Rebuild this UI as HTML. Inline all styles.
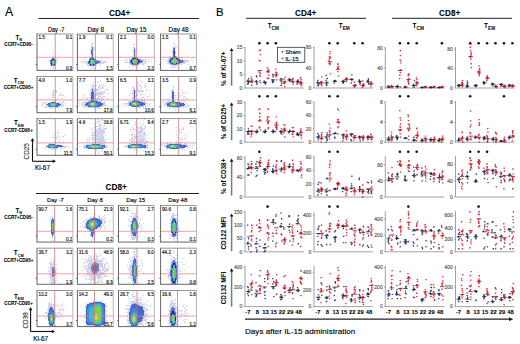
<!DOCTYPE html><html><head><meta charset="utf-8"><style>
html,body{margin:0;padding:0;background:#fff;}
svg{display:block;font-family:"Liberation Sans",sans-serif;}
</style></head><body>
<svg width="520" height="344" viewBox="0 0 520 344">
<defs><filter id="bl" x="-50%" y="-50%" width="200%" height="200%"><feGaussianBlur stdDeviation="0.6"/></filter>
<filter id="bdot" x="-2%" y="-2%" width="104%" height="104%"><feGaussianBlur stdDeviation="0.3"/></filter>
<filter id="bs" x="-10%" y="-10%" width="120%" height="120%"><feGaussianBlur stdDeviation="0.6"/></filter>
<filter id="bd" x="-10%" y="-10%" width="120%" height="120%"><feGaussianBlur stdDeviation="0.45"/></filter>
<filter id="bl2" x="-50%" y="-50%" width="200%" height="200%"><feGaussianBlur stdDeviation="1.2"/></filter></defs>
<rect width="520" height="344" fill="#fff"/>
<text x="5" y="16" font-size="12.2" font-weight="normal" text-anchor="start" fill="#000" stroke="#000" stroke-width="0.14" >A</text>
<text x="119.6" y="15.9" font-size="8.2" font-weight="bold" text-anchor="middle" fill="#000" stroke="#000" stroke-width="0.06" >CD4+</text>
<line x1="38.5" y1="18.5" x2="199" y2="18.5" stroke="#222" stroke-width="1" />
<text x="116.2" y="189.6" font-size="8.2" font-weight="bold" text-anchor="middle" fill="#000" stroke="#000" stroke-width="0.06" >CD8+</text>
<line x1="36" y1="193.5" x2="199" y2="193.5" stroke="#222" stroke-width="1" />
<text x="56.2" y="31.9" font-size="6.3" font-weight="normal" text-anchor="middle" fill="#000" stroke="#000" stroke-width="0.14"  textLength="16.6" lengthAdjust="spacingAndGlyphs">Day -7</text>
<text x="55.400000000000006" y="202.4" font-size="6.0" font-weight="normal" text-anchor="middle" fill="#000" stroke="#000" stroke-width="0.14"  textLength="16.6" lengthAdjust="spacingAndGlyphs">Day -7</text>
<text x="95.8" y="31.9" font-size="6.3" font-weight="normal" text-anchor="middle" fill="#000" stroke="#000" stroke-width="0.14" >Day 8</text>
<text x="95.0" y="202.4" font-size="6.0" font-weight="normal" text-anchor="middle" fill="#000" stroke="#000" stroke-width="0.14" >Day 8</text>
<text x="136.5" y="31.9" font-size="6.3" font-weight="normal" text-anchor="middle" fill="#000" stroke="#000" stroke-width="0.14" >Day 15</text>
<text x="135.7" y="202.4" font-size="6.0" font-weight="normal" text-anchor="middle" fill="#000" stroke="#000" stroke-width="0.14" >Day 15</text>
<text x="178.6" y="31.9" font-size="6.3" font-weight="normal" text-anchor="middle" fill="#000" stroke="#000" stroke-width="0.14" >Day 48</text>
<text x="177.79999999999998" y="202.4" font-size="6.0" font-weight="normal" text-anchor="middle" fill="#000" stroke="#000" stroke-width="0.14" >Day 48</text>
<text x="18.8" y="39.6" font-size="6.3" font-weight="bold" text-anchor="middle">T<tspan font-size="3.9" dy="1.2">N</tspan></text>
<text x="18.6" y="45.5" font-size="4.6" font-weight="bold" text-anchor="middle" fill="#000" stroke="#000" stroke-width="0.06" >CCR7+CD95-</text>
<text x="18.8" y="82.7" font-size="6.3" font-weight="bold" text-anchor="middle">T<tspan font-size="3.9" dy="1.2">CM</tspan></text>
<text x="18.6" y="88.9" font-size="4.6" font-weight="bold" text-anchor="middle" fill="#000" stroke="#000" stroke-width="0.06" >CCR7+CD95+</text>
<text x="18.8" y="125.3" font-size="6.3" font-weight="bold" text-anchor="middle">T<tspan font-size="3.9" dy="1.2">EM</tspan></text>
<text x="18.6" y="131.6" font-size="4.6" font-weight="bold" text-anchor="middle" fill="#000" stroke="#000" stroke-width="0.06" >CCR7-CD95+</text>
<text x="18.8" y="212.7" font-size="6.3" font-weight="bold" text-anchor="middle">T<tspan font-size="3.9" dy="1.2">N</tspan></text>
<text x="18.6" y="218.9" font-size="4.6" font-weight="bold" text-anchor="middle" fill="#000" stroke="#000" stroke-width="0.06" >CCR7+CD95-</text>
<text x="18.8" y="255.3" font-size="6.3" font-weight="bold" text-anchor="middle">T<tspan font-size="3.9" dy="1.2">CM</tspan></text>
<text x="18.6" y="261.6" font-size="4.6" font-weight="bold" text-anchor="middle" fill="#000" stroke="#000" stroke-width="0.06" >CCR7+CD95+</text>
<text x="18.8" y="298.7" font-size="6.3" font-weight="bold" text-anchor="middle">T<tspan font-size="3.9" dy="1.2">EM</tspan></text>
<text x="18.6" y="304.6" font-size="4.6" font-weight="bold" text-anchor="middle" fill="#000" stroke="#000" stroke-width="0.06" >CCR7-CD95+</text>
<g transform="translate(37 34)" filter="url(#bd)" shape-rendering="crispEdges"><path d="M16 17h1v1h-1zM16 19h1v1h-1zM16 20h1v1h-1zM16 22h1v1h-1zM15 23h1v1h-1zM17 23h1v1h-1zM20 23h1v1h-1zM17 24h1v1h-1zM13 25h1v1h-1zM18 25h1v1h-1zM19 25h1v1h-1zM11 26h1v1h-1zM12 26h1v1h-1zM13 26h1v1h-1zM20 26h1v1h-1zM19 27h1v1h-1zM19 28h1v1h-1zM13 30h1v1h-1zM13 31h1v1h-1zM18 32h1v1h-1zM14 33h1v1h-1zM16 33h1v1h-1zM17 33h1v1h-1zM16 34h1v1h-1zM15 35h1v1h-1z" fill="#9aa2dc" opacity="0.5" filter="url(#bs)"/><path d="M15 25h1v1h-1zM16 25h1v1h-1zM14 26h1v1h-1zM17 26h1v1h-1zM14 27h1v1h-1zM14 29h1v1h-1zM14 30h1v1h-1zM17 30h1v1h-1z" fill="#1e2a86"/><path d="M15 24h1v1h-1zM16 24h1v1h-1zM14 25h1v1h-1zM17 25h1v1h-1zM18 26h1v1h-1zM13 27h1v1h-1zM18 27h1v1h-1zM13 28h1v1h-1zM18 28h1v1h-1zM13 29h1v1h-1zM18 29h1v1h-1zM18 30h1v1h-1zM14 31h1v1h-1zM15 31h1v1h-1zM16 31h1v1h-1zM17 31h1v1h-1z" fill="#6472cc"/><path d="M15 25h1v1h-1zM16 25h1v1h-1zM14 26h1v1h-1zM17 26h1v1h-1zM14 27h1v1h-1zM14 29h1v1h-1zM14 30h1v1h-1zM17 30h1v1h-1z" fill="#1e2a86"/><path d="M15 26h1v1h-1zM16 26h1v1h-1zM17 27h1v1h-1zM14 28h1v1h-1zM17 28h1v1h-1zM17 29h1v1h-1zM15 30h1v1h-1zM16 30h1v1h-1z" fill="#3cbad2"/><path d="M15 27h1v1h-1zM16 27h1v1h-1zM15 28h1v1h-1zM16 28h1v1h-1zM15 29h1v1h-1zM16 29h1v1h-1z" fill="#82cc50"/></g>
<g transform="translate(77.3 34)" filter="url(#bd)" shape-rendering="crispEdges"><path d="M14 9h1v1h-1zM15 9h1v1h-1zM15 10h1v1h-1zM14 11h1v1h-1zM13 12h1v1h-1zM14 12h1v1h-1zM15 12h1v1h-1zM14 13h1v1h-1zM16 13h1v1h-1zM14 14h1v1h-1zM16 14h1v1h-1zM13 15h1v1h-1zM14 15h1v1h-1zM16 15h1v1h-1zM17 15h1v1h-1zM16 16h1v1h-1zM13 17h1v1h-1zM13 18h1v1h-1zM16 18h1v1h-1zM16 20h1v1h-1zM14 21h1v1h-1zM16 21h1v1h-1zM14 22h1v1h-1zM16 22h1v1h-1zM12 23h1v1h-1zM13 23h1v1h-1zM16 23h1v1h-1zM12 24h1v1h-1zM17 24h1v1h-1zM18 24h1v1h-1zM8 25h1v1h-1zM24 25h1v1h-1zM11 26h1v1h-1zM20 26h1v1h-1zM21 26h1v1h-1zM22 26h1v1h-1zM23 26h1v1h-1zM5 27h1v1h-1zM6 27h1v1h-1zM8 27h1v1h-1zM9 27h1v1h-1zM10 27h1v1h-1zM23 27h1v1h-1zM24 27h1v1h-1zM25 27h1v1h-1zM26 27h1v1h-1zM27 27h1v1h-1zM28 27h1v1h-1zM4 28h1v1h-1zM7 28h1v1h-1zM8 28h1v1h-1zM10 28h1v1h-1zM23 28h1v1h-1zM24 28h1v1h-1zM26 28h1v1h-1zM27 28h1v1h-1zM28 28h1v1h-1zM30 28h1v1h-1zM9 29h1v1h-1zM10 29h1v1h-1zM21 29h1v1h-1zM22 29h1v1h-1zM23 29h1v1h-1zM24 29h1v1h-1zM25 29h1v1h-1zM26 29h1v1h-1zM10 30h1v1h-1zM19 30h1v1h-1zM23 30h1v1h-1zM10 31h1v1h-1zM11 31h1v1h-1zM12 31h1v1h-1zM17 31h1v1h-1zM18 31h1v1h-1zM19 31h1v1h-1zM22 31h1v1h-1zM14 32h1v1h-1zM16 32h1v1h-1zM17 32h1v1h-1zM14 34h1v1h-1zM16 34h1v1h-1zM17 34h1v1h-1z" fill="#9aa2dc" opacity="0.5" filter="url(#bs)"/><path d="M15 24h1v1h-1zM13 25h1v1h-1zM16 25h1v1h-1zM12 27h1v1h-1zM18 27h1v1h-1zM12 28h1v1h-1zM18 28h1v1h-1zM18 29h1v1h-1zM13 30h1v1h-1zM16 30h1v1h-1z" fill="#1e2a86"/><path d="M15 13h1v1h-1zM15 14h1v1h-1zM15 15h1v1h-1zM14 16h1v1h-1zM15 16h1v1h-1zM14 17h1v1h-1zM15 17h1v1h-1zM14 18h1v1h-1zM15 18h1v1h-1zM14 19h1v1h-1zM15 19h1v1h-1zM14 20h1v1h-1zM15 20h1v1h-1zM15 21h1v1h-1zM15 22h1v1h-1zM14 23h1v1h-1zM15 23h1v1h-1zM13 24h1v1h-1zM14 24h1v1h-1zM16 24h1v1h-1zM12 25h1v1h-1zM17 25h1v1h-1zM18 25h1v1h-1zM12 26h1v1h-1zM18 26h1v1h-1zM19 26h1v1h-1zM11 27h1v1h-1zM19 27h1v1h-1zM20 27h1v1h-1zM21 27h1v1h-1zM22 27h1v1h-1zM11 28h1v1h-1zM19 28h1v1h-1zM20 28h1v1h-1zM21 28h1v1h-1zM22 28h1v1h-1zM11 29h1v1h-1zM12 29h1v1h-1zM19 29h1v1h-1zM20 29h1v1h-1zM12 30h1v1h-1zM17 30h1v1h-1zM18 30h1v1h-1zM13 31h1v1h-1zM14 31h1v1h-1zM15 31h1v1h-1zM16 31h1v1h-1z" fill="#6472cc"/><path d="M15 24h1v1h-1zM13 25h1v1h-1zM16 25h1v1h-1zM12 27h1v1h-1zM18 27h1v1h-1zM12 28h1v1h-1zM18 28h1v1h-1zM18 29h1v1h-1zM13 30h1v1h-1zM16 30h1v1h-1z" fill="#1e2a86"/><path d="M14 25h1v1h-1zM15 25h1v1h-1zM13 26h1v1h-1zM17 26h1v1h-1zM13 27h1v1h-1zM17 27h1v1h-1zM17 28h1v1h-1zM13 29h1v1h-1zM17 29h1v1h-1zM14 30h1v1h-1zM15 30h1v1h-1z" fill="#3cbad2"/><path d="M14 26h1v1h-1zM15 26h1v1h-1zM16 26h1v1h-1zM14 27h1v1h-1zM15 27h1v1h-1zM16 27h1v1h-1zM13 28h1v1h-1zM14 28h1v1h-1zM15 28h1v1h-1zM16 28h1v1h-1zM14 29h1v1h-1zM15 29h1v1h-1zM16 29h1v1h-1z" fill="#82cc50"/></g>
<g transform="translate(118.5 34)" filter="url(#bd)" shape-rendering="crispEdges"><path d="M14 10h1v1h-1zM15 10h1v1h-1zM14 13h1v1h-1zM15 13h1v1h-1zM14 14h1v1h-1zM15 14h1v1h-1zM16 14h1v1h-1zM17 14h1v1h-1zM14 15h1v1h-1zM16 15h1v1h-1zM14 16h1v1h-1zM16 16h1v1h-1zM17 16h1v1h-1zM14 17h1v1h-1zM16 17h1v1h-1zM14 18h1v1h-1zM16 18h1v1h-1zM16 19h1v1h-1zM16 20h1v1h-1zM14 21h1v1h-1zM16 21h1v1h-1zM13 22h1v1h-1zM14 22h1v1h-1zM16 22h1v1h-1zM17 22h1v1h-1zM13 23h1v1h-1zM17 23h1v1h-1zM18 23h1v1h-1zM21 23h1v1h-1zM10 24h1v1h-1zM12 24h1v1h-1zM19 24h1v1h-1zM21 24h1v1h-1zM6 25h1v1h-1zM8 25h1v1h-1zM10 25h1v1h-1zM21 25h1v1h-1zM23 25h1v1h-1zM24 25h1v1h-1zM26 25h1v1h-1zM27 25h1v1h-1zM30 25h1v1h-1zM6 26h1v1h-1zM10 26h1v1h-1zM23 26h1v1h-1zM24 26h1v1h-1zM25 26h1v1h-1zM7 27h1v1h-1zM10 27h1v1h-1zM24 27h1v1h-1zM25 27h1v1h-1zM26 27h1v1h-1zM27 27h1v1h-1zM29 27h1v1h-1zM32 27h1v1h-1zM6 28h1v1h-1zM7 28h1v1h-1zM8 28h1v1h-1zM9 28h1v1h-1zM10 28h1v1h-1zM23 28h1v1h-1zM27 28h1v1h-1zM10 29h1v1h-1zM11 29h1v1h-1zM20 29h1v1h-1zM21 29h1v1h-1zM23 29h1v1h-1zM24 29h1v1h-1zM25 29h1v1h-1zM26 29h1v1h-1zM11 30h1v1h-1zM12 30h1v1h-1zM19 30h1v1h-1zM20 30h1v1h-1zM23 30h1v1h-1zM24 30h1v1h-1zM12 31h1v1h-1zM14 31h1v1h-1zM15 31h1v1h-1zM16 31h1v1h-1zM17 31h1v1h-1zM18 31h1v1h-1zM10 32h1v1h-1zM14 32h1v1h-1zM16 32h1v1h-1zM13 33h1v1h-1zM18 33h1v1h-1z" fill="#9aa2dc" opacity="0.5" filter="url(#bs)"/><path d="M14 24h1v1h-1zM15 24h1v1h-1zM16 24h1v1h-1zM13 25h1v1h-1zM18 25h1v1h-1zM12 26h1v1h-1zM19 26h1v1h-1zM12 27h1v1h-1zM19 27h1v1h-1zM20 27h1v1h-1zM12 28h1v1h-1zM19 28h1v1h-1zM13 29h1v1h-1zM18 29h1v1h-1z" fill="#1e2a86"/><path d="M15 15h1v1h-1zM15 16h1v1h-1zM15 17h1v1h-1zM15 18h1v1h-1zM15 19h1v1h-1zM15 20h1v1h-1zM15 21h1v1h-1zM15 22h1v1h-1zM14 23h1v1h-1zM15 23h1v1h-1zM16 23h1v1h-1zM13 24h1v1h-1zM17 24h1v1h-1zM18 24h1v1h-1zM12 25h1v1h-1zM19 25h1v1h-1zM20 25h1v1h-1zM11 26h1v1h-1zM20 26h1v1h-1zM21 26h1v1h-1zM22 26h1v1h-1zM11 27h1v1h-1zM21 27h1v1h-1zM22 27h1v1h-1zM23 27h1v1h-1zM11 28h1v1h-1zM20 28h1v1h-1zM21 28h1v1h-1zM22 28h1v1h-1zM12 29h1v1h-1zM19 29h1v1h-1zM13 30h1v1h-1zM14 30h1v1h-1zM15 30h1v1h-1zM16 30h1v1h-1zM17 30h1v1h-1zM18 30h1v1h-1z" fill="#6472cc"/><path d="M14 24h1v1h-1zM15 24h1v1h-1zM16 24h1v1h-1zM13 25h1v1h-1zM18 25h1v1h-1zM12 26h1v1h-1zM19 26h1v1h-1zM12 27h1v1h-1zM19 27h1v1h-1zM20 27h1v1h-1zM12 28h1v1h-1zM19 28h1v1h-1zM13 29h1v1h-1zM18 29h1v1h-1z" fill="#1e2a86"/><path d="M14 25h1v1h-1zM17 25h1v1h-1zM13 26h1v1h-1zM18 26h1v1h-1zM13 27h1v1h-1zM18 27h1v1h-1zM13 28h1v1h-1zM18 28h1v1h-1zM14 29h1v1h-1zM15 29h1v1h-1zM16 29h1v1h-1zM17 29h1v1h-1z" fill="#3cbad2"/><path d="M15 25h1v1h-1zM16 25h1v1h-1zM14 26h1v1h-1zM15 26h1v1h-1zM16 26h1v1h-1zM17 26h1v1h-1zM14 27h1v1h-1zM15 27h1v1h-1zM16 27h1v1h-1zM17 27h1v1h-1zM14 28h1v1h-1zM15 28h1v1h-1zM16 28h1v1h-1zM17 28h1v1h-1z" fill="#82cc50"/></g>
<g transform="translate(160.3 34)" filter="url(#bd)" shape-rendering="crispEdges"><path d="M13 9h1v1h-1zM14 9h1v1h-1zM13 10h1v1h-1zM15 11h1v1h-1zM14 12h1v1h-1zM12 13h1v1h-1zM13 13h1v1h-1zM14 13h1v1h-1zM15 13h1v1h-1zM16 13h1v1h-1zM15 14h1v1h-1zM12 16h1v1h-1zM12 17h1v1h-1zM15 17h1v1h-1zM12 18h1v1h-1zM15 18h1v1h-1zM12 19h1v1h-1zM15 19h1v1h-1zM12 21h1v1h-1zM15 21h1v1h-1zM18 21h1v1h-1zM9 22h1v1h-1zM10 22h1v1h-1zM12 22h1v1h-1zM16 22h1v1h-1zM18 22h1v1h-1zM9 23h1v1h-1zM10 23h1v1h-1zM11 23h1v1h-1zM17 23h1v1h-1zM18 23h1v1h-1zM21 23h1v1h-1zM22 23h1v1h-1zM8 24h1v1h-1zM9 24h1v1h-1zM19 24h1v1h-1zM8 25h1v1h-1zM9 25h1v1h-1zM20 25h1v1h-1zM21 25h1v1h-1zM22 25h1v1h-1zM24 25h1v1h-1zM31 25h1v1h-1zM4 26h1v1h-1zM7 26h1v1h-1zM8 26h1v1h-1zM23 26h1v1h-1zM24 26h1v1h-1zM25 26h1v1h-1zM26 26h1v1h-1zM27 26h1v1h-1zM32 26h1v1h-1zM6 27h1v1h-1zM8 27h1v1h-1zM24 27h1v1h-1zM25 27h1v1h-1zM26 27h1v1h-1zM27 27h1v1h-1zM28 27h1v1h-1zM8 28h1v1h-1zM23 28h1v1h-1zM24 28h1v1h-1zM25 28h1v1h-1zM28 28h1v1h-1zM7 29h1v1h-1zM8 29h1v1h-1zM9 29h1v1h-1zM20 29h1v1h-1zM21 29h1v1h-1zM23 29h1v1h-1zM24 29h1v1h-1zM9 30h1v1h-1zM10 30h1v1h-1zM11 30h1v1h-1zM17 30h1v1h-1zM18 30h1v1h-1zM19 30h1v1h-1zM21 30h1v1h-1zM28 30h1v1h-1zM11 31h1v1h-1zM13 31h1v1h-1zM14 31h1v1h-1zM15 31h1v1h-1zM17 31h1v1h-1zM12 32h1v1h-1zM15 32h1v1h-1zM10 33h1v1h-1zM11 33h1v1h-1zM13 33h1v1h-1zM14 33h1v1h-1zM17 33h1v1h-1z" fill="#9aa2dc" opacity="0.5" filter="url(#bs)"/><path d="M14 17h1v1h-1zM14 18h1v1h-1zM14 19h1v1h-1zM14 20h1v1h-1zM14 22h1v1h-1zM13 23h1v1h-1zM14 23h1v1h-1zM12 24h1v1h-1zM16 24h1v1h-1zM11 25h1v1h-1zM17 25h1v1h-1zM10 26h1v1h-1zM18 26h1v1h-1zM19 26h1v1h-1zM10 27h1v1h-1zM19 27h1v1h-1zM18 28h1v1h-1zM12 29h1v1h-1zM16 29h1v1h-1z" fill="#1e2a86"/><path d="M13 14h1v1h-1zM14 14h1v1h-1zM13 15h1v1h-1zM14 15h1v1h-1zM13 16h1v1h-1zM14 16h1v1h-1zM13 17h1v1h-1zM13 18h1v1h-1zM13 19h1v1h-1zM13 20h1v1h-1zM13 21h1v1h-1zM14 21h1v1h-1zM13 22h1v1h-1zM15 22h1v1h-1zM12 23h1v1h-1zM15 23h1v1h-1zM16 23h1v1h-1zM10 24h1v1h-1zM11 24h1v1h-1zM17 24h1v1h-1zM18 24h1v1h-1zM10 25h1v1h-1zM18 25h1v1h-1zM19 25h1v1h-1zM9 26h1v1h-1zM20 26h1v1h-1zM21 26h1v1h-1zM22 26h1v1h-1zM9 27h1v1h-1zM20 27h1v1h-1zM21 27h1v1h-1zM22 27h1v1h-1zM23 27h1v1h-1zM9 28h1v1h-1zM10 28h1v1h-1zM19 28h1v1h-1zM20 28h1v1h-1zM21 28h1v1h-1zM22 28h1v1h-1zM10 29h1v1h-1zM11 29h1v1h-1zM17 29h1v1h-1zM18 29h1v1h-1zM19 29h1v1h-1zM12 30h1v1h-1zM13 30h1v1h-1zM14 30h1v1h-1zM15 30h1v1h-1zM16 30h1v1h-1z" fill="#6472cc"/><path d="M14 17h1v1h-1zM14 18h1v1h-1zM14 19h1v1h-1zM14 20h1v1h-1zM14 22h1v1h-1zM13 23h1v1h-1zM14 23h1v1h-1zM12 24h1v1h-1zM16 24h1v1h-1zM11 25h1v1h-1zM17 25h1v1h-1zM10 26h1v1h-1zM18 26h1v1h-1zM19 26h1v1h-1zM10 27h1v1h-1zM19 27h1v1h-1zM18 28h1v1h-1zM12 29h1v1h-1zM16 29h1v1h-1z" fill="#1e2a86"/><path d="M13 24h1v1h-1zM14 24h1v1h-1zM15 24h1v1h-1zM12 25h1v1h-1zM16 25h1v1h-1zM11 26h1v1h-1zM17 26h1v1h-1zM11 27h1v1h-1zM17 27h1v1h-1zM18 27h1v1h-1zM11 28h1v1h-1zM12 28h1v1h-1zM16 28h1v1h-1zM17 28h1v1h-1zM13 29h1v1h-1zM14 29h1v1h-1zM15 29h1v1h-1z" fill="#3cbad2"/><path d="M13 25h1v1h-1zM14 25h1v1h-1zM15 25h1v1h-1zM12 26h1v1h-1zM13 26h1v1h-1zM14 26h1v1h-1zM15 26h1v1h-1zM16 26h1v1h-1zM12 27h1v1h-1zM13 27h1v1h-1zM14 27h1v1h-1zM15 27h1v1h-1zM16 27h1v1h-1zM13 28h1v1h-1zM14 28h1v1h-1zM15 28h1v1h-1z" fill="#82cc50"/></g>
<g transform="translate(37 75.5)" filter="url(#bd)" shape-rendering="crispEdges"><path d="M23 12h1v1h-1zM16 14h1v1h-1zM17 14h1v1h-1zM16 15h1v1h-1zM19 15h1v1h-1zM16 16h1v1h-1zM18 16h1v1h-1zM19 16h1v1h-1zM15 17h1v1h-1zM16 17h1v1h-1zM23 17h1v1h-1zM15 18h1v1h-1zM16 18h1v1h-1zM24 18h1v1h-1zM15 19h1v1h-1zM16 19h1v1h-1zM18 19h1v1h-1zM22 19h1v1h-1zM23 19h1v1h-1zM25 19h1v1h-1zM26 19h1v1h-1zM16 20h1v1h-1zM15 21h1v1h-1zM16 21h1v1h-1zM27 21h1v1h-1zM20 22h1v1h-1zM25 22h1v1h-1zM16 24h1v1h-1zM18 24h1v1h-1zM19 24h1v1h-1zM15 25h1v1h-1zM16 25h1v1h-1zM18 25h1v1h-1zM23 25h1v1h-1zM26 25h1v1h-1zM7 26h1v1h-1zM8 26h1v1h-1zM9 26h1v1h-1zM12 26h1v1h-1zM13 26h1v1h-1zM20 26h1v1h-1zM21 26h1v1h-1zM22 26h1v1h-1zM25 26h1v1h-1zM26 26h1v1h-1zM5 27h1v1h-1zM7 27h1v1h-1zM10 27h1v1h-1zM22 27h1v1h-1zM23 27h1v1h-1zM24 27h1v1h-1zM28 27h1v1h-1zM5 28h1v1h-1zM8 28h1v1h-1zM9 28h1v1h-1zM25 28h1v1h-1zM5 29h1v1h-1zM9 29h1v1h-1zM10 29h1v1h-1zM23 29h1v1h-1zM24 29h1v1h-1zM25 29h1v1h-1zM26 29h1v1h-1zM28 29h1v1h-1zM5 30h1v1h-1zM8 30h1v1h-1zM9 30h1v1h-1zM10 30h1v1h-1zM11 30h1v1h-1zM21 30h1v1h-1zM22 30h1v1h-1zM25 30h1v1h-1zM8 31h1v1h-1zM9 31h1v1h-1zM11 31h1v1h-1zM12 31h1v1h-1zM13 31h1v1h-1zM15 31h1v1h-1zM17 31h1v1h-1zM18 31h1v1h-1zM19 31h1v1h-1zM20 31h1v1h-1zM21 31h1v1h-1zM24 31h1v1h-1zM14 32h1v1h-1zM16 32h1v1h-1z" fill="#9aa2dc" opacity="0.5" filter="url(#bs)"/><path d="M14 26h1v1h-1zM15 26h1v1h-1zM16 26h1v1h-1zM17 26h1v1h-1zM18 26h1v1h-1zM11 27h1v1h-1zM12 27h1v1h-1zM19 27h1v1h-1zM20 27h1v1h-1zM21 27h1v1h-1zM10 28h1v1h-1zM11 28h1v1h-1zM21 28h1v1h-1zM22 28h1v1h-1zM23 28h1v1h-1zM11 29h1v1h-1zM20 29h1v1h-1zM21 29h1v1h-1zM22 29h1v1h-1zM12 30h1v1h-1zM13 30h1v1h-1zM18 30h1v1h-1zM19 30h1v1h-1zM20 30h1v1h-1z" fill="#4866cc"/><path d="M13 27h1v1h-1zM18 27h1v1h-1zM12 28h1v1h-1zM19 28h1v1h-1zM20 28h1v1h-1zM12 29h1v1h-1zM19 29h1v1h-1zM14 30h1v1h-1zM15 30h1v1h-1zM16 30h1v1h-1zM17 30h1v1h-1z" fill="#3a8cd8"/><path d="M14 27h1v1h-1zM15 27h1v1h-1zM16 27h1v1h-1zM17 27h1v1h-1zM13 28h1v1h-1zM18 28h1v1h-1zM13 29h1v1h-1zM18 29h1v1h-1z" fill="#3cbad2"/><path d="M14 28h1v1h-1zM15 28h1v1h-1zM17 28h1v1h-1zM14 29h1v1h-1zM15 29h1v1h-1zM16 29h1v1h-1zM17 29h1v1h-1z" fill="#82cc50"/><path d="M16 28h1v1h-1z" fill="#dcdc40"/></g>
<g transform="translate(77.3 75.5)" filter="url(#bd)" shape-rendering="crispEdges"><path d="M20 5h1v1h-1zM23 5h1v1h-1zM16 6h1v1h-1zM18 6h1v1h-1zM21 6h1v1h-1zM24 7h1v1h-1zM16 8h1v1h-1zM22 8h1v1h-1zM26 8h1v1h-1zM14 9h1v1h-1zM15 9h1v1h-1zM16 9h1v1h-1zM17 9h1v1h-1zM19 9h1v1h-1zM22 9h1v1h-1zM24 9h1v1h-1zM26 9h1v1h-1zM15 10h1v1h-1zM17 10h1v1h-1zM21 10h1v1h-1zM23 10h1v1h-1zM24 10h1v1h-1zM28 10h1v1h-1zM15 11h1v1h-1zM16 11h1v1h-1zM21 11h1v1h-1zM22 11h1v1h-1zM25 11h1v1h-1zM26 11h1v1h-1zM14 12h1v1h-1zM15 12h1v1h-1zM16 12h1v1h-1zM18 12h1v1h-1zM20 12h1v1h-1zM23 12h1v1h-1zM24 12h1v1h-1zM26 12h1v1h-1zM13 13h1v1h-1zM14 13h1v1h-1zM16 13h1v1h-1zM17 13h1v1h-1zM18 13h1v1h-1zM19 13h1v1h-1zM20 13h1v1h-1zM21 13h1v1h-1zM22 13h1v1h-1zM28 13h1v1h-1zM29 13h1v1h-1zM30 13h1v1h-1zM12 14h1v1h-1zM14 14h1v1h-1zM16 14h1v1h-1zM17 14h1v1h-1zM19 14h1v1h-1zM20 14h1v1h-1zM14 15h1v1h-1zM16 15h1v1h-1zM17 15h1v1h-1zM21 15h1v1h-1zM22 15h1v1h-1zM24 15h1v1h-1zM25 15h1v1h-1zM27 15h1v1h-1zM29 15h1v1h-1zM13 16h1v1h-1zM17 16h1v1h-1zM19 16h1v1h-1zM20 16h1v1h-1zM22 16h1v1h-1zM23 16h1v1h-1zM25 16h1v1h-1zM27 16h1v1h-1zM18 17h1v1h-1zM19 17h1v1h-1zM20 17h1v1h-1zM21 17h1v1h-1zM22 17h1v1h-1zM23 17h1v1h-1zM24 17h1v1h-1zM25 17h1v1h-1zM26 17h1v1h-1zM30 17h1v1h-1zM31 17h1v1h-1zM7 18h1v1h-1zM12 18h1v1h-1zM13 18h1v1h-1zM17 18h1v1h-1zM18 18h1v1h-1zM19 18h1v1h-1zM20 18h1v1h-1zM21 18h1v1h-1zM22 18h1v1h-1zM23 18h1v1h-1zM24 18h1v1h-1zM6 19h1v1h-1zM13 19h1v1h-1zM17 19h1v1h-1zM18 19h1v1h-1zM19 19h1v1h-1zM20 19h1v1h-1zM22 19h1v1h-1zM25 19h1v1h-1zM17 20h1v1h-1zM21 20h1v1h-1zM22 20h1v1h-1zM23 20h1v1h-1zM26 20h1v1h-1zM27 20h1v1h-1zM5 21h1v1h-1zM7 21h1v1h-1zM9 21h1v1h-1zM12 21h1v1h-1zM13 21h1v1h-1zM17 21h1v1h-1zM18 21h1v1h-1zM20 21h1v1h-1zM22 21h1v1h-1zM24 21h1v1h-1zM25 21h1v1h-1zM27 21h1v1h-1zM10 22h1v1h-1zM13 22h1v1h-1zM17 22h1v1h-1zM18 22h1v1h-1zM19 22h1v1h-1zM20 22h1v1h-1zM21 22h1v1h-1zM22 22h1v1h-1zM24 22h1v1h-1zM25 22h1v1h-1zM30 22h1v1h-1zM10 23h1v1h-1zM17 23h1v1h-1zM18 23h1v1h-1zM19 23h1v1h-1zM20 23h1v1h-1zM22 23h1v1h-1zM24 23h1v1h-1zM25 23h1v1h-1zM26 23h1v1h-1zM11 24h1v1h-1zM12 24h1v1h-1zM13 24h1v1h-1zM17 24h1v1h-1zM18 24h1v1h-1zM19 24h1v1h-1zM20 24h1v1h-1zM22 24h1v1h-1zM24 24h1v1h-1zM7 25h1v1h-1zM9 25h1v1h-1zM11 25h1v1h-1zM12 25h1v1h-1zM21 25h1v1h-1zM22 25h1v1h-1zM23 25h1v1h-1zM24 25h1v1h-1zM27 25h1v1h-1zM2 26h1v1h-1zM6 26h1v1h-1zM7 26h1v1h-1zM8 26h1v1h-1zM9 26h1v1h-1zM26 26h1v1h-1zM27 26h1v1h-1zM1 27h1v1h-1zM4 27h1v1h-1zM5 27h1v1h-1zM7 27h1v1h-1zM8 27h1v1h-1zM26 27h1v1h-1zM27 27h1v1h-1zM28 27h1v1h-1zM4 28h1v1h-1zM6 28h1v1h-1zM7 28h1v1h-1zM26 28h1v1h-1zM27 28h1v1h-1zM2 29h1v1h-1zM6 29h1v1h-1zM8 29h1v1h-1zM25 29h1v1h-1zM26 29h1v1h-1zM27 29h1v1h-1zM28 29h1v1h-1zM29 29h1v1h-1zM0 30h1v1h-1zM5 30h1v1h-1zM6 30h1v1h-1zM7 30h1v1h-1zM8 30h1v1h-1zM9 30h1v1h-1zM23 30h1v1h-1zM24 30h1v1h-1zM26 30h1v1h-1zM30 30h1v1h-1zM33 30h1v1h-1zM8 31h1v1h-1zM10 31h1v1h-1zM11 31h1v1h-1zM12 31h1v1h-1zM13 31h1v1h-1zM14 31h1v1h-1zM15 31h1v1h-1zM16 31h1v1h-1zM17 31h1v1h-1zM18 31h1v1h-1zM19 31h1v1h-1zM20 31h1v1h-1zM21 31h1v1h-1zM22 31h1v1h-1zM23 31h1v1h-1zM28 31h1v1h-1zM17 32h1v1h-1zM20 32h1v1h-1zM21 32h1v1h-1zM23 32h1v1h-1z" fill="#9aa2dc" opacity="0.5" filter="url(#bs)"/><path d="M15 13h1v1h-1zM15 14h1v1h-1zM15 15h1v1h-1zM14 16h1v1h-1zM15 16h1v1h-1zM16 16h1v1h-1zM14 17h1v1h-1zM15 17h1v1h-1zM16 17h1v1h-1zM14 18h1v1h-1zM15 18h1v1h-1zM16 18h1v1h-1zM14 19h1v1h-1zM16 19h1v1h-1zM14 20h1v1h-1zM15 20h1v1h-1zM16 20h1v1h-1zM14 21h1v1h-1zM15 21h1v1h-1zM16 21h1v1h-1zM14 22h1v1h-1zM15 22h1v1h-1zM16 22h1v1h-1zM14 23h1v1h-1zM15 23h1v1h-1zM16 23h1v1h-1zM14 24h1v1h-1zM15 24h1v1h-1zM16 24h1v1h-1zM13 25h1v1h-1zM14 25h1v1h-1zM16 25h1v1h-1zM17 25h1v1h-1zM18 25h1v1h-1zM19 25h1v1h-1zM20 25h1v1h-1zM10 26h1v1h-1zM11 26h1v1h-1zM19 26h1v1h-1zM20 26h1v1h-1zM21 26h1v1h-1zM22 26h1v1h-1zM23 26h1v1h-1zM9 27h1v1h-1zM10 27h1v1h-1zM22 27h1v1h-1zM23 27h1v1h-1zM24 27h1v1h-1zM25 27h1v1h-1zM8 28h1v1h-1zM9 28h1v1h-1zM10 28h1v1h-1zM22 28h1v1h-1zM23 28h1v1h-1zM24 28h1v1h-1zM25 28h1v1h-1zM9 29h1v1h-1zM10 29h1v1h-1zM21 29h1v1h-1zM22 29h1v1h-1zM23 29h1v1h-1zM24 29h1v1h-1zM11 30h1v1h-1zM12 30h1v1h-1zM13 30h1v1h-1zM18 30h1v1h-1zM19 30h1v1h-1zM20 30h1v1h-1zM21 30h1v1h-1zM22 30h1v1h-1z" fill="#4866cc"/><path d="M15 19h1v1h-1zM15 25h1v1h-1zM12 26h1v1h-1zM13 26h1v1h-1zM18 26h1v1h-1zM11 27h1v1h-1zM19 27h1v1h-1zM20 27h1v1h-1zM21 27h1v1h-1zM11 28h1v1h-1zM20 28h1v1h-1zM21 28h1v1h-1zM11 29h1v1h-1zM12 29h1v1h-1zM19 29h1v1h-1zM20 29h1v1h-1zM14 30h1v1h-1zM15 30h1v1h-1zM16 30h1v1h-1zM17 30h1v1h-1z" fill="#3a8cd8"/><path d="M14 26h1v1h-1zM15 26h1v1h-1zM16 26h1v1h-1zM17 26h1v1h-1zM12 27h1v1h-1zM18 27h1v1h-1zM12 28h1v1h-1zM18 28h1v1h-1zM19 28h1v1h-1zM13 29h1v1h-1zM17 29h1v1h-1zM18 29h1v1h-1z" fill="#3cbad2"/><path d="M13 27h1v1h-1zM17 27h1v1h-1zM13 28h1v1h-1zM17 28h1v1h-1zM14 29h1v1h-1zM15 29h1v1h-1zM16 29h1v1h-1z" fill="#82cc50"/><path d="M14 27h1v1h-1zM15 27h1v1h-1zM16 27h1v1h-1zM14 28h1v1h-1zM15 28h1v1h-1zM16 28h1v1h-1z" fill="#dcdc40"/></g>
<g transform="translate(118.5 75.5)" filter="url(#bd)" shape-rendering="crispEdges"><path d="M21 4h1v1h-1zM23 5h1v1h-1zM18 6h1v1h-1zM19 6h1v1h-1zM22 6h1v1h-1zM18 7h1v1h-1zM26 7h1v1h-1zM20 8h1v1h-1zM26 8h1v1h-1zM17 9h1v1h-1zM19 9h1v1h-1zM21 9h1v1h-1zM25 9h1v1h-1zM15 10h1v1h-1zM18 10h1v1h-1zM21 10h1v1h-1zM26 10h1v1h-1zM27 10h1v1h-1zM13 11h1v1h-1zM14 11h1v1h-1zM18 11h1v1h-1zM22 11h1v1h-1zM25 11h1v1h-1zM14 12h1v1h-1zM15 12h1v1h-1zM18 12h1v1h-1zM21 12h1v1h-1zM14 13h1v1h-1zM15 13h1v1h-1zM18 13h1v1h-1zM27 13h1v1h-1zM13 14h1v1h-1zM14 14h1v1h-1zM16 14h1v1h-1zM17 14h1v1h-1zM18 14h1v1h-1zM19 14h1v1h-1zM20 14h1v1h-1zM22 14h1v1h-1zM23 14h1v1h-1zM24 14h1v1h-1zM30 14h1v1h-1zM14 15h1v1h-1zM16 15h1v1h-1zM18 15h1v1h-1zM19 15h1v1h-1zM20 15h1v1h-1zM21 15h1v1h-1zM22 15h1v1h-1zM23 15h1v1h-1zM27 15h1v1h-1zM13 16h1v1h-1zM14 16h1v1h-1zM16 16h1v1h-1zM17 16h1v1h-1zM23 16h1v1h-1zM11 17h1v1h-1zM13 17h1v1h-1zM16 17h1v1h-1zM17 17h1v1h-1zM20 17h1v1h-1zM21 17h1v1h-1zM13 18h1v1h-1zM14 18h1v1h-1zM18 18h1v1h-1zM22 18h1v1h-1zM24 18h1v1h-1zM25 18h1v1h-1zM30 18h1v1h-1zM10 19h1v1h-1zM14 19h1v1h-1zM16 19h1v1h-1zM17 19h1v1h-1zM18 19h1v1h-1zM21 19h1v1h-1zM14 20h1v1h-1zM16 20h1v1h-1zM28 20h1v1h-1zM29 20h1v1h-1zM12 21h1v1h-1zM13 21h1v1h-1zM14 21h1v1h-1zM16 21h1v1h-1zM23 21h1v1h-1zM24 21h1v1h-1zM13 22h1v1h-1zM14 22h1v1h-1zM21 22h1v1h-1zM25 22h1v1h-1zM14 23h1v1h-1zM16 23h1v1h-1zM18 23h1v1h-1zM19 23h1v1h-1zM22 23h1v1h-1zM28 23h1v1h-1zM13 24h1v1h-1zM14 24h1v1h-1zM17 24h1v1h-1zM18 24h1v1h-1zM19 24h1v1h-1zM20 24h1v1h-1zM21 24h1v1h-1zM22 24h1v1h-1zM23 24h1v1h-1zM25 24h1v1h-1zM9 25h1v1h-1zM10 25h1v1h-1zM11 25h1v1h-1zM12 25h1v1h-1zM21 25h1v1h-1zM22 25h1v1h-1zM23 25h1v1h-1zM24 25h1v1h-1zM25 25h1v1h-1zM26 25h1v1h-1zM9 26h1v1h-1zM10 26h1v1h-1zM24 26h1v1h-1zM25 26h1v1h-1zM26 26h1v1h-1zM4 27h1v1h-1zM5 27h1v1h-1zM6 27h1v1h-1zM7 27h1v1h-1zM8 27h1v1h-1zM9 27h1v1h-1zM26 27h1v1h-1zM27 27h1v1h-1zM28 27h1v1h-1zM31 27h1v1h-1zM4 28h1v1h-1zM7 28h1v1h-1zM9 28h1v1h-1zM26 28h1v1h-1zM28 28h1v1h-1zM30 28h1v1h-1zM2 29h1v1h-1zM6 29h1v1h-1zM8 29h1v1h-1zM9 29h1v1h-1zM10 29h1v1h-1zM24 29h1v1h-1zM25 29h1v1h-1zM26 29h1v1h-1zM28 29h1v1h-1zM30 29h1v1h-1zM12 30h1v1h-1zM20 30h1v1h-1zM21 30h1v1h-1zM22 30h1v1h-1zM23 30h1v1h-1zM24 30h1v1h-1zM26 30h1v1h-1zM28 30h1v1h-1zM17 31h1v1h-1zM19 31h1v1h-1zM20 31h1v1h-1zM21 31h1v1h-1zM24 31h1v1h-1zM16 32h1v1h-1zM24 32h1v1h-1z" fill="#9aa2dc" opacity="0.5" filter="url(#bs)"/><path d="M15 14h1v1h-1zM15 15h1v1h-1zM15 16h1v1h-1zM15 17h1v1h-1zM15 18h1v1h-1zM15 19h1v1h-1zM15 20h1v1h-1zM15 21h1v1h-1zM15 22h1v1h-1zM15 23h1v1h-1zM15 24h1v1h-1zM16 24h1v1h-1zM13 25h1v1h-1zM14 25h1v1h-1zM17 25h1v1h-1zM18 25h1v1h-1zM19 25h1v1h-1zM20 25h1v1h-1zM11 26h1v1h-1zM20 26h1v1h-1zM21 26h1v1h-1zM22 26h1v1h-1zM23 26h1v1h-1zM10 27h1v1h-1zM22 27h1v1h-1zM23 27h1v1h-1zM24 27h1v1h-1zM25 27h1v1h-1zM10 28h1v1h-1zM11 28h1v1h-1zM22 28h1v1h-1zM23 28h1v1h-1zM24 28h1v1h-1zM25 28h1v1h-1zM11 29h1v1h-1zM12 29h1v1h-1zM20 29h1v1h-1zM21 29h1v1h-1zM22 29h1v1h-1zM23 29h1v1h-1zM13 30h1v1h-1zM14 30h1v1h-1zM15 30h1v1h-1zM16 30h1v1h-1zM17 30h1v1h-1zM18 30h1v1h-1zM19 30h1v1h-1z" fill="#4866cc"/><path d="M15 25h1v1h-1zM16 25h1v1h-1zM12 26h1v1h-1zM18 26h1v1h-1zM19 26h1v1h-1zM11 27h1v1h-1zM20 27h1v1h-1zM21 27h1v1h-1zM20 28h1v1h-1zM21 28h1v1h-1zM13 29h1v1h-1zM18 29h1v1h-1zM19 29h1v1h-1z" fill="#3a8cd8"/><path d="M13 26h1v1h-1zM14 26h1v1h-1zM17 26h1v1h-1zM12 27h1v1h-1zM19 27h1v1h-1zM12 28h1v1h-1zM18 28h1v1h-1zM19 28h1v1h-1zM14 29h1v1h-1zM15 29h1v1h-1zM16 29h1v1h-1zM17 29h1v1h-1z" fill="#3cbad2"/><path d="M15 26h1v1h-1zM16 26h1v1h-1zM13 27h1v1h-1zM17 27h1v1h-1zM18 27h1v1h-1zM13 28h1v1h-1zM14 28h1v1h-1zM17 28h1v1h-1z" fill="#82cc50"/><path d="M14 27h1v1h-1zM15 27h1v1h-1zM16 27h1v1h-1zM15 28h1v1h-1zM16 28h1v1h-1z" fill="#dcdc40"/></g>
<g transform="translate(160.3 75.5)" filter="url(#bd)" shape-rendering="crispEdges"><path d="M12 9h1v1h-1zM13 10h1v1h-1zM14 11h1v1h-1zM12 13h1v1h-1zM13 13h1v1h-1zM12 14h1v1h-1zM13 14h1v1h-1zM22 14h1v1h-1zM11 15h1v1h-1zM13 15h1v1h-1zM14 16h1v1h-1zM22 16h1v1h-1zM24 16h1v1h-1zM26 16h1v1h-1zM11 17h1v1h-1zM17 17h1v1h-1zM19 17h1v1h-1zM23 17h1v1h-1zM27 17h1v1h-1zM18 18h1v1h-1zM11 19h1v1h-1zM14 19h1v1h-1zM15 19h1v1h-1zM17 19h1v1h-1zM20 19h1v1h-1zM22 19h1v1h-1zM11 20h1v1h-1zM18 20h1v1h-1zM19 20h1v1h-1zM24 20h1v1h-1zM11 21h1v1h-1zM14 21h1v1h-1zM15 21h1v1h-1zM18 21h1v1h-1zM23 21h1v1h-1zM17 22h1v1h-1zM18 22h1v1h-1zM25 22h1v1h-1zM26 22h1v1h-1zM27 22h1v1h-1zM23 23h1v1h-1zM7 24h1v1h-1zM8 24h1v1h-1zM14 24h1v1h-1zM21 24h1v1h-1zM3 25h1v1h-1zM6 25h1v1h-1zM8 25h1v1h-1zM10 25h1v1h-1zM11 25h1v1h-1zM14 25h1v1h-1zM15 25h1v1h-1zM17 25h1v1h-1zM18 25h1v1h-1zM20 25h1v1h-1zM22 25h1v1h-1zM24 25h1v1h-1zM25 25h1v1h-1zM2 26h1v1h-1zM5 26h1v1h-1zM6 26h1v1h-1zM7 26h1v1h-1zM8 26h1v1h-1zM20 26h1v1h-1zM22 26h1v1h-1zM23 26h1v1h-1zM0 27h1v1h-1zM3 27h1v1h-1zM5 27h1v1h-1zM6 27h1v1h-1zM24 27h1v1h-1zM26 27h1v1h-1zM4 28h1v1h-1zM5 28h1v1h-1zM6 28h1v1h-1zM25 28h1v1h-1zM4 29h1v1h-1zM6 29h1v1h-1zM24 29h1v1h-1zM26 29h1v1h-1zM27 29h1v1h-1zM28 29h1v1h-1zM29 29h1v1h-1zM33 29h1v1h-1zM1 30h1v1h-1zM7 30h1v1h-1zM8 30h1v1h-1zM21 30h1v1h-1zM22 30h1v1h-1zM23 30h1v1h-1zM24 30h1v1h-1zM25 30h1v1h-1zM28 30h1v1h-1zM7 31h1v1h-1zM9 31h1v1h-1zM12 31h1v1h-1zM13 31h1v1h-1zM14 31h1v1h-1zM15 31h1v1h-1zM16 31h1v1h-1zM17 31h1v1h-1zM18 31h1v1h-1zM21 31h1v1h-1zM23 31h1v1h-1zM26 31h1v1h-1zM28 31h1v1h-1zM9 32h1v1h-1zM12 32h1v1h-1zM14 32h1v1h-1zM18 32h1v1h-1zM15 33h1v1h-1z" fill="#9aa2dc" opacity="0.5" filter="url(#bs)"/><path d="M12 15h1v1h-1zM12 16h1v1h-1zM13 16h1v1h-1zM12 17h1v1h-1zM13 17h1v1h-1zM12 18h1v1h-1zM13 18h1v1h-1zM12 19h1v1h-1zM13 19h1v1h-1zM12 20h1v1h-1zM13 20h1v1h-1zM12 21h1v1h-1zM13 21h1v1h-1zM12 22h1v1h-1zM13 22h1v1h-1zM12 23h1v1h-1zM13 23h1v1h-1zM12 24h1v1h-1zM13 24h1v1h-1zM12 25h1v1h-1zM13 25h1v1h-1zM9 26h1v1h-1zM10 26h1v1h-1zM16 26h1v1h-1zM17 26h1v1h-1zM18 26h1v1h-1zM19 26h1v1h-1zM7 27h1v1h-1zM8 27h1v1h-1zM19 27h1v1h-1zM20 27h1v1h-1zM21 27h1v1h-1zM22 27h1v1h-1zM23 27h1v1h-1zM7 28h1v1h-1zM8 28h1v1h-1zM20 28h1v1h-1zM21 28h1v1h-1zM22 28h1v1h-1zM23 28h1v1h-1zM24 28h1v1h-1zM7 29h1v1h-1zM8 29h1v1h-1zM19 29h1v1h-1zM20 29h1v1h-1zM21 29h1v1h-1zM22 29h1v1h-1zM23 29h1v1h-1zM9 30h1v1h-1zM10 30h1v1h-1zM15 30h1v1h-1zM16 30h1v1h-1zM17 30h1v1h-1zM18 30h1v1h-1zM19 30h1v1h-1zM20 30h1v1h-1z" fill="#4866cc"/><path d="M11 26h1v1h-1zM14 26h1v1h-1zM15 26h1v1h-1zM9 27h1v1h-1zM16 27h1v1h-1zM17 27h1v1h-1zM18 27h1v1h-1zM9 28h1v1h-1zM17 28h1v1h-1zM18 28h1v1h-1zM19 28h1v1h-1zM9 29h1v1h-1zM17 29h1v1h-1zM18 29h1v1h-1zM11 30h1v1h-1zM12 30h1v1h-1zM13 30h1v1h-1zM14 30h1v1h-1z" fill="#3a8cd8"/><path d="M12 26h1v1h-1zM13 26h1v1h-1zM10 27h1v1h-1zM15 27h1v1h-1zM16 28h1v1h-1zM10 29h1v1h-1zM15 29h1v1h-1zM16 29h1v1h-1z" fill="#3cbad2"/><path d="M11 27h1v1h-1zM12 27h1v1h-1zM13 27h1v1h-1zM14 27h1v1h-1zM10 28h1v1h-1zM11 28h1v1h-1zM15 28h1v1h-1zM11 29h1v1h-1zM12 29h1v1h-1zM13 29h1v1h-1zM14 29h1v1h-1z" fill="#82cc50"/><path d="M12 28h1v1h-1zM13 28h1v1h-1zM14 28h1v1h-1z" fill="#dcdc40"/></g>
<g transform="translate(37 118)" filter="url(#bd)" shape-rendering="crispEdges"><path d="M18 14h1v1h-1zM20 14h1v1h-1zM21 14h1v1h-1zM16 15h1v1h-1zM21 15h1v1h-1zM18 17h1v1h-1zM20 17h1v1h-1zM27 17h1v1h-1zM18 18h1v1h-1zM20 18h1v1h-1zM22 18h1v1h-1zM25 18h1v1h-1zM26 18h1v1h-1zM15 19h1v1h-1zM16 19h1v1h-1zM19 19h1v1h-1zM21 19h1v1h-1zM18 20h1v1h-1zM19 20h1v1h-1zM22 21h1v1h-1zM21 22h1v1h-1zM23 22h1v1h-1zM17 23h1v1h-1zM26 23h1v1h-1zM18 24h1v1h-1zM19 24h1v1h-1zM20 24h1v1h-1zM22 24h1v1h-1zM23 24h1v1h-1zM27 24h1v1h-1zM12 25h1v1h-1zM13 25h1v1h-1zM15 25h1v1h-1zM25 25h1v1h-1zM11 26h1v1h-1zM20 26h1v1h-1zM21 26h1v1h-1zM9 27h1v1h-1zM10 27h1v1h-1zM26 27h1v1h-1zM8 28h1v1h-1zM9 28h1v1h-1zM26 28h1v1h-1zM27 28h1v1h-1zM28 28h1v1h-1zM29 28h1v1h-1zM30 28h1v1h-1zM8 29h1v1h-1zM10 29h1v1h-1zM21 29h1v1h-1zM23 29h1v1h-1zM24 29h1v1h-1zM26 29h1v1h-1zM27 29h1v1h-1zM28 29h1v1h-1zM32 29h1v1h-1zM12 30h1v1h-1zM13 30h1v1h-1zM14 30h1v1h-1zM15 30h1v1h-1zM16 30h1v1h-1zM18 30h1v1h-1zM19 30h1v1h-1zM23 30h1v1h-1zM25 30h1v1h-1zM15 31h1v1h-1zM16 31h1v1h-1zM19 31h1v1h-1z" fill="#9aa2dc" opacity="0.5" filter="url(#bs)"/><path d="M12 26h1v1h-1zM13 26h1v1h-1zM14 26h1v1h-1zM15 26h1v1h-1zM16 26h1v1h-1zM17 26h1v1h-1zM11 27h1v1h-1zM18 27h1v1h-1zM19 27h1v1h-1zM20 27h1v1h-1zM21 27h1v1h-1zM22 27h1v1h-1zM23 27h1v1h-1zM24 27h1v1h-1zM10 28h1v1h-1zM20 28h1v1h-1zM21 28h1v1h-1zM22 28h1v1h-1zM23 28h1v1h-1zM24 28h1v1h-1zM25 28h1v1h-1zM11 29h1v1h-1zM17 29h1v1h-1zM18 29h1v1h-1zM19 29h1v1h-1zM20 29h1v1h-1z" fill="#4866cc"/><path d="M12 27h1v1h-1zM17 27h1v1h-1zM11 28h1v1h-1zM18 28h1v1h-1zM19 28h1v1h-1zM12 29h1v1h-1zM13 29h1v1h-1zM16 29h1v1h-1z" fill="#3a8cd8"/><path d="M13 27h1v1h-1zM14 27h1v1h-1zM15 27h1v1h-1zM16 27h1v1h-1zM12 28h1v1h-1zM16 28h1v1h-1zM17 28h1v1h-1zM14 29h1v1h-1zM15 29h1v1h-1z" fill="#3cbad2"/><path d="M13 28h1v1h-1zM14 28h1v1h-1zM15 28h1v1h-1z" fill="#82cc50"/></g>
<g transform="translate(77.3 118)" filter="url(#bd)" shape-rendering="crispEdges"><path d="M18 1h1v1h-1zM21 1h1v1h-1zM25 1h1v1h-1zM18 2h1v1h-1zM21 2h1v1h-1zM24 2h1v1h-1zM26 2h1v1h-1zM20 3h1v1h-1zM21 3h1v1h-1zM19 4h1v1h-1zM22 4h1v1h-1zM17 5h1v1h-1zM18 5h1v1h-1zM25 5h1v1h-1zM16 6h1v1h-1zM21 6h1v1h-1zM22 6h1v1h-1zM23 6h1v1h-1zM23 7h1v1h-1zM24 7h1v1h-1zM26 7h1v1h-1zM27 7h1v1h-1zM17 8h1v1h-1zM18 8h1v1h-1zM19 8h1v1h-1zM20 8h1v1h-1zM21 8h1v1h-1zM22 8h1v1h-1zM23 8h1v1h-1zM17 9h1v1h-1zM18 9h1v1h-1zM23 9h1v1h-1zM26 9h1v1h-1zM14 10h1v1h-1zM17 10h1v1h-1zM21 10h1v1h-1zM22 10h1v1h-1zM23 10h1v1h-1zM26 10h1v1h-1zM27 10h1v1h-1zM28 10h1v1h-1zM29 10h1v1h-1zM15 11h1v1h-1zM18 11h1v1h-1zM19 11h1v1h-1zM20 11h1v1h-1zM21 11h1v1h-1zM22 11h1v1h-1zM23 11h1v1h-1zM24 11h1v1h-1zM25 11h1v1h-1zM28 11h1v1h-1zM17 12h1v1h-1zM18 12h1v1h-1zM19 12h1v1h-1zM21 12h1v1h-1zM22 12h1v1h-1zM23 12h1v1h-1zM24 12h1v1h-1zM25 12h1v1h-1zM26 12h1v1h-1zM27 12h1v1h-1zM16 13h1v1h-1zM18 13h1v1h-1zM19 13h1v1h-1zM20 13h1v1h-1zM21 13h1v1h-1zM23 13h1v1h-1zM24 13h1v1h-1zM25 13h1v1h-1zM26 13h1v1h-1zM27 13h1v1h-1zM15 14h1v1h-1zM17 14h1v1h-1zM18 14h1v1h-1zM19 14h1v1h-1zM20 14h1v1h-1zM21 14h1v1h-1zM22 14h1v1h-1zM23 14h1v1h-1zM24 14h1v1h-1zM25 14h1v1h-1zM26 14h1v1h-1zM15 15h1v1h-1zM16 15h1v1h-1zM17 15h1v1h-1zM18 15h1v1h-1zM20 15h1v1h-1zM21 15h1v1h-1zM22 15h1v1h-1zM23 15h1v1h-1zM24 15h1v1h-1zM25 15h1v1h-1zM27 15h1v1h-1zM17 16h1v1h-1zM18 16h1v1h-1zM19 16h1v1h-1zM20 16h1v1h-1zM21 16h1v1h-1zM22 16h1v1h-1zM23 16h1v1h-1zM25 16h1v1h-1zM26 16h1v1h-1zM14 17h1v1h-1zM15 17h1v1h-1zM16 17h1v1h-1zM17 17h1v1h-1zM18 17h1v1h-1zM19 17h1v1h-1zM20 17h1v1h-1zM21 17h1v1h-1zM23 17h1v1h-1zM24 17h1v1h-1zM25 17h1v1h-1zM28 17h1v1h-1zM16 18h1v1h-1zM18 18h1v1h-1zM19 18h1v1h-1zM20 18h1v1h-1zM21 18h1v1h-1zM22 18h1v1h-1zM23 18h1v1h-1zM24 18h1v1h-1zM25 18h1v1h-1zM26 18h1v1h-1zM15 19h1v1h-1zM16 19h1v1h-1zM17 19h1v1h-1zM18 19h1v1h-1zM20 19h1v1h-1zM21 19h1v1h-1zM23 19h1v1h-1zM24 19h1v1h-1zM25 19h1v1h-1zM26 19h1v1h-1zM12 20h1v1h-1zM14 20h1v1h-1zM15 20h1v1h-1zM16 20h1v1h-1zM18 20h1v1h-1zM19 20h1v1h-1zM20 20h1v1h-1zM21 20h1v1h-1zM22 20h1v1h-1zM23 20h1v1h-1zM24 20h1v1h-1zM25 20h1v1h-1zM26 20h1v1h-1zM27 20h1v1h-1zM10 21h1v1h-1zM12 21h1v1h-1zM16 21h1v1h-1zM17 21h1v1h-1zM18 21h1v1h-1zM19 21h1v1h-1zM20 21h1v1h-1zM21 21h1v1h-1zM22 21h1v1h-1zM23 21h1v1h-1zM24 21h1v1h-1zM25 21h1v1h-1zM26 21h1v1h-1zM29 21h1v1h-1zM30 21h1v1h-1zM10 22h1v1h-1zM11 22h1v1h-1zM15 22h1v1h-1zM16 22h1v1h-1zM18 22h1v1h-1zM19 22h1v1h-1zM20 22h1v1h-1zM21 22h1v1h-1zM22 22h1v1h-1zM23 22h1v1h-1zM24 22h1v1h-1zM25 22h1v1h-1zM26 22h1v1h-1zM27 22h1v1h-1zM17 23h1v1h-1zM20 23h1v1h-1zM21 23h1v1h-1zM22 23h1v1h-1zM23 23h1v1h-1zM24 23h1v1h-1zM25 23h1v1h-1zM26 23h1v1h-1zM27 23h1v1h-1zM10 24h1v1h-1zM12 24h1v1h-1zM15 24h1v1h-1zM16 24h1v1h-1zM17 24h1v1h-1zM18 24h1v1h-1zM19 24h1v1h-1zM20 24h1v1h-1zM21 24h1v1h-1zM22 24h1v1h-1zM23 24h1v1h-1zM25 24h1v1h-1zM27 24h1v1h-1zM28 24h1v1h-1zM15 25h1v1h-1zM17 25h1v1h-1zM18 25h1v1h-1zM19 25h1v1h-1zM20 25h1v1h-1zM22 25h1v1h-1zM23 25h1v1h-1zM24 25h1v1h-1zM25 25h1v1h-1zM26 25h1v1h-1zM7 26h1v1h-1zM10 26h1v1h-1zM11 26h1v1h-1zM12 26h1v1h-1zM13 26h1v1h-1zM14 26h1v1h-1zM23 26h1v1h-1zM24 26h1v1h-1zM25 26h1v1h-1zM26 26h1v1h-1zM27 26h1v1h-1zM7 27h1v1h-1zM8 27h1v1h-1zM28 27h1v1h-1zM29 27h1v1h-1zM6 28h1v1h-1zM7 28h1v1h-1zM8 28h1v1h-1zM28 28h1v1h-1zM29 28h1v1h-1zM6 29h1v1h-1zM7 29h1v1h-1zM8 29h1v1h-1zM28 29h1v1h-1zM29 29h1v1h-1zM30 29h1v1h-1zM7 30h1v1h-1zM9 30h1v1h-1zM10 30h1v1h-1zM26 30h1v1h-1zM28 30h1v1h-1zM17 31h1v1h-1zM19 31h1v1h-1zM22 31h1v1h-1zM25 31h1v1h-1zM19 32h1v1h-1zM25 32h1v1h-1zM21 33h1v1h-1zM24 33h1v1h-1zM21 34h1v1h-1zM21 35h1v1h-1z" fill="#9aa2dc" opacity="0.5" filter="url(#bs)"/><path d="M15 26h1v1h-1zM16 26h1v1h-1zM17 26h1v1h-1zM18 26h1v1h-1zM19 26h1v1h-1zM20 26h1v1h-1zM21 26h1v1h-1zM22 26h1v1h-1zM9 27h1v1h-1zM10 27h1v1h-1zM26 27h1v1h-1zM27 27h1v1h-1zM9 28h1v1h-1zM27 28h1v1h-1zM9 29h1v1h-1zM27 29h1v1h-1zM11 30h1v1h-1zM12 30h1v1h-1zM13 30h1v1h-1zM14 30h1v1h-1zM15 30h1v1h-1zM20 30h1v1h-1zM21 30h1v1h-1zM22 30h1v1h-1zM23 30h1v1h-1zM24 30h1v1h-1zM25 30h1v1h-1z" fill="#4866cc"/><path d="M11 27h1v1h-1zM12 27h1v1h-1zM24 27h1v1h-1zM25 27h1v1h-1zM10 28h1v1h-1zM26 28h1v1h-1zM10 29h1v1h-1zM11 29h1v1h-1zM25 29h1v1h-1zM26 29h1v1h-1zM16 30h1v1h-1zM17 30h1v1h-1zM18 30h1v1h-1zM19 30h1v1h-1z" fill="#3a8cd8"/><path d="M13 27h1v1h-1zM14 27h1v1h-1zM15 27h1v1h-1zM19 27h1v1h-1zM20 27h1v1h-1zM21 27h1v1h-1zM22 27h1v1h-1zM23 27h1v1h-1zM11 28h1v1h-1zM12 28h1v1h-1zM23 28h1v1h-1zM24 28h1v1h-1zM25 28h1v1h-1zM12 29h1v1h-1zM13 29h1v1h-1zM22 29h1v1h-1zM23 29h1v1h-1zM24 29h1v1h-1z" fill="#3cbad2"/><path d="M16 27h1v1h-1zM17 27h1v1h-1zM18 27h1v1h-1zM13 28h1v1h-1zM14 28h1v1h-1zM20 28h1v1h-1zM21 28h1v1h-1zM22 28h1v1h-1zM14 29h1v1h-1zM15 29h1v1h-1zM16 29h1v1h-1zM17 29h1v1h-1zM18 29h1v1h-1zM19 29h1v1h-1zM20 29h1v1h-1zM21 29h1v1h-1z" fill="#82cc50"/><path d="M15 28h1v1h-1zM16 28h1v1h-1zM17 28h1v1h-1zM18 28h1v1h-1zM19 28h1v1h-1z" fill="#dcdc40"/></g>
<g transform="translate(118.5 118)" filter="url(#bd)" shape-rendering="crispEdges"><path d="M19 0h1v1h-1zM25 1h1v1h-1zM24 3h1v1h-1zM16 4h1v1h-1zM18 4h1v1h-1zM21 5h1v1h-1zM16 6h1v1h-1zM18 6h1v1h-1zM23 6h1v1h-1zM24 6h1v1h-1zM15 7h1v1h-1zM18 8h1v1h-1zM21 8h1v1h-1zM22 8h1v1h-1zM25 8h1v1h-1zM26 8h1v1h-1zM13 9h1v1h-1zM17 9h1v1h-1zM18 9h1v1h-1zM19 9h1v1h-1zM21 9h1v1h-1zM22 9h1v1h-1zM26 9h1v1h-1zM13 10h1v1h-1zM14 10h1v1h-1zM19 10h1v1h-1zM20 10h1v1h-1zM21 10h1v1h-1zM22 10h1v1h-1zM23 10h1v1h-1zM25 10h1v1h-1zM11 11h1v1h-1zM14 11h1v1h-1zM16 11h1v1h-1zM18 11h1v1h-1zM22 11h1v1h-1zM23 11h1v1h-1zM24 11h1v1h-1zM25 11h1v1h-1zM11 12h1v1h-1zM14 12h1v1h-1zM18 12h1v1h-1zM20 12h1v1h-1zM21 12h1v1h-1zM22 12h1v1h-1zM23 12h1v1h-1zM12 13h1v1h-1zM16 13h1v1h-1zM18 13h1v1h-1zM19 13h1v1h-1zM20 13h1v1h-1zM21 13h1v1h-1zM22 13h1v1h-1zM23 13h1v1h-1zM25 13h1v1h-1zM14 14h1v1h-1zM19 14h1v1h-1zM20 14h1v1h-1zM21 14h1v1h-1zM22 14h1v1h-1zM25 14h1v1h-1zM18 15h1v1h-1zM19 15h1v1h-1zM20 15h1v1h-1zM21 15h1v1h-1zM23 15h1v1h-1zM24 15h1v1h-1zM25 15h1v1h-1zM26 15h1v1h-1zM12 16h1v1h-1zM13 16h1v1h-1zM14 16h1v1h-1zM15 16h1v1h-1zM17 16h1v1h-1zM18 16h1v1h-1zM21 16h1v1h-1zM22 16h1v1h-1zM24 16h1v1h-1zM25 16h1v1h-1zM26 16h1v1h-1zM12 17h1v1h-1zM13 17h1v1h-1zM16 17h1v1h-1zM17 17h1v1h-1zM19 17h1v1h-1zM20 17h1v1h-1zM21 17h1v1h-1zM22 17h1v1h-1zM24 17h1v1h-1zM25 17h1v1h-1zM27 17h1v1h-1zM14 18h1v1h-1zM15 18h1v1h-1zM16 18h1v1h-1zM17 18h1v1h-1zM18 18h1v1h-1zM19 18h1v1h-1zM21 18h1v1h-1zM22 18h1v1h-1zM23 18h1v1h-1zM24 18h1v1h-1zM25 18h1v1h-1zM12 19h1v1h-1zM15 19h1v1h-1zM16 19h1v1h-1zM17 19h1v1h-1zM18 19h1v1h-1zM19 19h1v1h-1zM21 19h1v1h-1zM23 19h1v1h-1zM26 19h1v1h-1zM12 20h1v1h-1zM13 20h1v1h-1zM14 20h1v1h-1zM16 20h1v1h-1zM18 20h1v1h-1zM19 20h1v1h-1zM20 20h1v1h-1zM21 20h1v1h-1zM23 20h1v1h-1zM24 20h1v1h-1zM25 20h1v1h-1zM27 20h1v1h-1zM10 21h1v1h-1zM13 21h1v1h-1zM14 21h1v1h-1zM15 21h1v1h-1zM17 21h1v1h-1zM19 21h1v1h-1zM20 21h1v1h-1zM21 21h1v1h-1zM22 21h1v1h-1zM23 21h1v1h-1zM24 21h1v1h-1zM25 21h1v1h-1zM11 22h1v1h-1zM12 22h1v1h-1zM13 22h1v1h-1zM15 22h1v1h-1zM17 22h1v1h-1zM18 22h1v1h-1zM19 22h1v1h-1zM20 22h1v1h-1zM21 22h1v1h-1zM22 22h1v1h-1zM23 22h1v1h-1zM24 22h1v1h-1zM25 22h1v1h-1zM27 22h1v1h-1zM12 23h1v1h-1zM13 23h1v1h-1zM15 23h1v1h-1zM16 23h1v1h-1zM17 23h1v1h-1zM18 23h1v1h-1zM19 23h1v1h-1zM20 23h1v1h-1zM21 23h1v1h-1zM22 23h1v1h-1zM23 23h1v1h-1zM24 23h1v1h-1zM26 23h1v1h-1zM27 23h1v1h-1zM28 23h1v1h-1zM29 23h1v1h-1zM10 24h1v1h-1zM12 24h1v1h-1zM13 24h1v1h-1zM14 24h1v1h-1zM15 24h1v1h-1zM17 24h1v1h-1zM18 24h1v1h-1zM19 24h1v1h-1zM20 24h1v1h-1zM22 24h1v1h-1zM23 24h1v1h-1zM25 24h1v1h-1zM26 24h1v1h-1zM27 24h1v1h-1zM10 25h1v1h-1zM12 25h1v1h-1zM14 25h1v1h-1zM15 25h1v1h-1zM17 25h1v1h-1zM18 25h1v1h-1zM19 25h1v1h-1zM20 25h1v1h-1zM21 25h1v1h-1zM23 25h1v1h-1zM25 25h1v1h-1zM26 25h1v1h-1zM10 26h1v1h-1zM11 26h1v1h-1zM23 26h1v1h-1zM24 26h1v1h-1zM25 26h1v1h-1zM26 26h1v1h-1zM28 26h1v1h-1zM7 27h1v1h-1zM8 27h1v1h-1zM27 27h1v1h-1zM28 27h1v1h-1zM29 27h1v1h-1zM5 28h1v1h-1zM6 28h1v1h-1zM7 28h1v1h-1zM8 28h1v1h-1zM27 28h1v1h-1zM28 28h1v1h-1zM6 29h1v1h-1zM8 29h1v1h-1zM27 29h1v1h-1zM28 29h1v1h-1zM30 29h1v1h-1zM10 30h1v1h-1zM11 30h1v1h-1zM12 30h1v1h-1zM13 30h1v1h-1zM14 30h1v1h-1zM15 30h1v1h-1zM16 30h1v1h-1zM17 30h1v1h-1zM18 30h1v1h-1zM19 30h1v1h-1zM20 30h1v1h-1zM21 30h1v1h-1zM22 30h1v1h-1zM25 30h1v1h-1zM26 30h1v1h-1zM28 30h1v1h-1zM16 31h1v1h-1zM18 32h1v1h-1zM24 32h1v1h-1z" fill="#9aa2dc" opacity="0.5" filter="url(#bs)"/><path d="M12 26h1v1h-1zM13 26h1v1h-1zM14 26h1v1h-1zM15 26h1v1h-1zM16 26h1v1h-1zM17 26h1v1h-1zM18 26h1v1h-1zM19 26h1v1h-1zM20 26h1v1h-1zM21 26h1v1h-1zM22 26h1v1h-1zM9 27h1v1h-1zM25 27h1v1h-1zM26 27h1v1h-1zM9 28h1v1h-1zM25 28h1v1h-1zM26 28h1v1h-1zM9 29h1v1h-1zM10 29h1v1h-1zM24 29h1v1h-1zM25 29h1v1h-1zM26 29h1v1h-1z" fill="#4866cc"/><path d="M10 27h1v1h-1zM20 27h1v1h-1zM21 27h1v1h-1zM22 27h1v1h-1zM23 27h1v1h-1zM24 27h1v1h-1zM10 28h1v1h-1zM21 28h1v1h-1zM22 28h1v1h-1zM23 28h1v1h-1zM24 28h1v1h-1zM11 29h1v1h-1zM19 29h1v1h-1zM20 29h1v1h-1zM21 29h1v1h-1zM22 29h1v1h-1zM23 29h1v1h-1z" fill="#3a8cd8"/><path d="M11 27h1v1h-1zM12 27h1v1h-1zM17 27h1v1h-1zM18 27h1v1h-1zM19 27h1v1h-1zM11 28h1v1h-1zM18 28h1v1h-1zM19 28h1v1h-1zM20 28h1v1h-1zM12 29h1v1h-1zM13 29h1v1h-1zM15 29h1v1h-1zM16 29h1v1h-1zM17 29h1v1h-1zM18 29h1v1h-1z" fill="#3cbad2"/><path d="M13 27h1v1h-1zM14 27h1v1h-1zM15 27h1v1h-1zM16 27h1v1h-1zM12 28h1v1h-1zM16 28h1v1h-1zM17 28h1v1h-1zM14 29h1v1h-1z" fill="#82cc50"/><path d="M13 28h1v1h-1zM14 28h1v1h-1zM15 28h1v1h-1z" fill="#dcdc40"/></g>
<g transform="translate(160.3 118)" filter="url(#bd)" shape-rendering="crispEdges"><path d="M16 9h1v1h-1zM23 9h1v1h-1zM23 10h1v1h-1zM21 11h1v1h-1zM22 11h1v1h-1zM23 11h1v1h-1zM19 12h1v1h-1zM14 13h1v1h-1zM16 13h1v1h-1zM19 14h1v1h-1zM21 14h1v1h-1zM27 15h1v1h-1zM16 16h1v1h-1zM24 16h1v1h-1zM16 17h1v1h-1zM25 17h1v1h-1zM27 18h1v1h-1zM16 19h1v1h-1zM25 19h1v1h-1zM18 20h1v1h-1zM21 20h1v1h-1zM24 20h1v1h-1zM25 20h1v1h-1zM20 21h1v1h-1zM21 21h1v1h-1zM22 22h1v1h-1zM26 22h1v1h-1zM16 23h1v1h-1zM16 24h1v1h-1zM20 24h1v1h-1zM21 24h1v1h-1zM6 25h1v1h-1zM7 25h1v1h-1zM9 25h1v1h-1zM11 25h1v1h-1zM15 25h1v1h-1zM16 25h1v1h-1zM17 25h1v1h-1zM19 25h1v1h-1zM20 25h1v1h-1zM24 25h1v1h-1zM26 25h1v1h-1zM1 26h1v1h-1zM4 26h1v1h-1zM6 26h1v1h-1zM7 26h1v1h-1zM8 26h1v1h-1zM21 26h1v1h-1zM23 26h1v1h-1zM24 26h1v1h-1zM25 26h1v1h-1zM26 26h1v1h-1zM30 26h1v1h-1zM33 26h1v1h-1zM2 27h1v1h-1zM4 27h1v1h-1zM6 27h1v1h-1zM26 27h1v1h-1zM27 27h1v1h-1zM28 27h1v1h-1zM32 27h1v1h-1zM4 28h1v1h-1zM5 28h1v1h-1zM27 28h1v1h-1zM28 28h1v1h-1zM30 28h1v1h-1zM33 28h1v1h-1zM5 29h1v1h-1zM6 29h1v1h-1zM25 29h1v1h-1zM29 29h1v1h-1zM6 30h1v1h-1zM7 30h1v1h-1zM8 30h1v1h-1zM9 30h1v1h-1zM18 30h1v1h-1zM19 30h1v1h-1zM20 30h1v1h-1zM21 30h1v1h-1zM22 30h1v1h-1zM23 30h1v1h-1zM27 30h1v1h-1zM32 30h1v1h-1zM7 31h1v1h-1zM13 31h1v1h-1zM15 31h1v1h-1zM18 31h1v1h-1zM22 31h1v1h-1zM24 32h1v1h-1z" fill="#9aa2dc" opacity="0.5" filter="url(#bs)"/><path d="M9 26h1v1h-1zM10 26h1v1h-1zM11 26h1v1h-1zM14 26h1v1h-1zM15 26h1v1h-1zM16 26h1v1h-1zM17 26h1v1h-1zM18 26h1v1h-1zM19 26h1v1h-1zM20 26h1v1h-1zM7 27h1v1h-1zM8 27h1v1h-1zM20 27h1v1h-1zM21 27h1v1h-1zM22 27h1v1h-1zM23 27h1v1h-1zM24 27h1v1h-1zM25 27h1v1h-1zM6 28h1v1h-1zM7 28h1v1h-1zM22 28h1v1h-1zM23 28h1v1h-1zM24 28h1v1h-1zM25 28h1v1h-1zM26 28h1v1h-1zM7 29h1v1h-1zM8 29h1v1h-1zM19 29h1v1h-1zM20 29h1v1h-1zM21 29h1v1h-1zM22 29h1v1h-1zM23 29h1v1h-1zM24 29h1v1h-1zM10 30h1v1h-1zM11 30h1v1h-1zM12 30h1v1h-1zM13 30h1v1h-1zM14 30h1v1h-1zM15 30h1v1h-1zM16 30h1v1h-1zM17 30h1v1h-1z" fill="#4866cc"/><path d="M12 26h1v1h-1zM13 26h1v1h-1zM9 27h1v1h-1zM17 27h1v1h-1zM18 27h1v1h-1zM19 27h1v1h-1zM8 28h1v1h-1zM18 28h1v1h-1zM19 28h1v1h-1zM20 28h1v1h-1zM21 28h1v1h-1zM9 29h1v1h-1zM16 29h1v1h-1zM17 29h1v1h-1zM18 29h1v1h-1z" fill="#3a8cd8"/><path d="M10 27h1v1h-1zM15 27h1v1h-1zM16 27h1v1h-1zM9 28h1v1h-1zM16 28h1v1h-1zM17 28h1v1h-1zM10 29h1v1h-1zM11 29h1v1h-1zM14 29h1v1h-1zM15 29h1v1h-1z" fill="#3cbad2"/><path d="M11 27h1v1h-1zM12 27h1v1h-1zM13 27h1v1h-1zM14 27h1v1h-1zM10 28h1v1h-1zM14 28h1v1h-1zM15 28h1v1h-1zM12 29h1v1h-1zM13 29h1v1h-1z" fill="#82cc50"/><path d="M11 28h1v1h-1zM12 28h1v1h-1zM13 28h1v1h-1z" fill="#dcdc40"/></g>
<g transform="translate(37 205.3)" filter="url(#bd)" shape-rendering="crispEdges"><path d="M14 8h1v1h-1zM14 11h1v1h-1zM15 11h1v1h-1zM17 12h1v1h-1zM13 13h1v1h-1zM17 15h1v1h-1zM17 16h1v1h-1zM13 18h1v1h-1zM17 18h1v1h-1zM17 19h1v1h-1zM13 20h1v1h-1zM17 20h1v1h-1zM17 21h1v1h-1zM17 22h1v1h-1zM13 25h1v1h-1zM17 27h1v1h-1zM16 29h1v1h-1zM16 30h1v1h-1zM15 31h1v1h-1zM15 32h1v1h-1zM15 33h1v1h-1zM14 35h1v1h-1zM16 35h1v1h-1z" fill="#9aa2dc" opacity="0.5" filter="url(#bs)"/><path d="M15 13h1v1h-1zM15 14h1v1h-1zM16 14h1v1h-1zM14 15h1v1h-1zM16 15h1v1h-1zM14 16h1v1h-1zM16 16h1v1h-1zM14 17h1v1h-1zM14 25h1v1h-1zM14 26h1v1h-1zM14 27h1v1h-1zM16 27h1v1h-1zM14 28h1v1h-1zM15 28h1v1h-1zM16 28h1v1h-1zM15 29h1v1h-1zM15 30h1v1h-1z" fill="#4866cc"/><path d="M15 15h1v1h-1zM15 16h1v1h-1zM16 17h1v1h-1zM14 18h1v1h-1zM16 18h1v1h-1zM14 19h1v1h-1zM14 20h1v1h-1zM14 21h1v1h-1zM14 22h1v1h-1zM14 23h1v1h-1zM14 24h1v1h-1zM16 24h1v1h-1zM16 25h1v1h-1zM16 26h1v1h-1zM15 27h1v1h-1z" fill="#3a8cd8"/><path d="M15 17h1v1h-1zM15 18h1v1h-1zM16 19h1v1h-1zM16 20h1v1h-1zM16 21h1v1h-1zM16 22h1v1h-1zM16 23h1v1h-1zM15 24h1v1h-1zM15 25h1v1h-1zM15 26h1v1h-1z" fill="#3cbad2"/><path d="M15 19h1v1h-1zM15 20h1v1h-1zM15 21h1v1h-1zM15 22h1v1h-1zM15 23h1v1h-1z" fill="#82cc50"/></g>
<g transform="translate(77.3 205.3)" filter="url(#bd)" shape-rendering="crispEdges"><path d="M15 8h1v1h-1zM17 9h1v1h-1zM18 9h1v1h-1zM17 10h1v1h-1zM21 10h1v1h-1zM27 10h1v1h-1zM16 11h1v1h-1zM17 11h1v1h-1zM21 11h1v1h-1zM22 11h1v1h-1zM26 11h1v1h-1zM13 12h1v1h-1zM14 12h1v1h-1zM16 12h1v1h-1zM17 12h1v1h-1zM18 12h1v1h-1zM21 12h1v1h-1zM22 12h1v1h-1zM24 12h1v1h-1zM28 12h1v1h-1zM12 13h1v1h-1zM13 13h1v1h-1zM14 13h1v1h-1zM20 13h1v1h-1zM21 13h1v1h-1zM22 13h1v1h-1zM23 13h1v1h-1zM25 13h1v1h-1zM27 13h1v1h-1zM10 14h1v1h-1zM11 14h1v1h-1zM12 14h1v1h-1zM23 14h1v1h-1zM24 14h1v1h-1zM25 14h1v1h-1zM26 14h1v1h-1zM27 14h1v1h-1zM7 15h1v1h-1zM9 15h1v1h-1zM10 15h1v1h-1zM24 15h1v1h-1zM25 15h1v1h-1zM28 15h1v1h-1zM32 15h1v1h-1zM7 16h1v1h-1zM9 16h1v1h-1zM25 16h1v1h-1zM27 16h1v1h-1zM28 16h1v1h-1zM5 17h1v1h-1zM8 17h1v1h-1zM9 17h1v1h-1zM26 17h1v1h-1zM27 17h1v1h-1zM28 17h1v1h-1zM32 17h1v1h-1zM3 18h1v1h-1zM8 18h1v1h-1zM25 18h1v1h-1zM27 18h1v1h-1zM8 19h1v1h-1zM24 19h1v1h-1zM26 19h1v1h-1zM5 20h1v1h-1zM8 20h1v1h-1zM26 20h1v1h-1zM27 20h1v1h-1zM31 20h1v1h-1zM3 21h1v1h-1zM7 21h1v1h-1zM8 21h1v1h-1zM23 21h1v1h-1zM24 21h1v1h-1zM25 21h1v1h-1zM5 22h1v1h-1zM7 22h1v1h-1zM8 22h1v1h-1zM22 22h1v1h-1zM23 22h1v1h-1zM24 22h1v1h-1zM28 22h1v1h-1zM9 23h1v1h-1zM20 23h1v1h-1zM22 23h1v1h-1zM23 23h1v1h-1zM27 23h1v1h-1zM10 24h1v1h-1zM11 24h1v1h-1zM18 24h1v1h-1zM19 24h1v1h-1zM21 24h1v1h-1zM23 24h1v1h-1zM28 24h1v1h-1zM11 25h1v1h-1zM12 25h1v1h-1zM17 25h1v1h-1zM21 25h1v1h-1zM12 26h1v1h-1zM13 26h1v1h-1zM18 26h1v1h-1zM17 27h1v1h-1zM13 28h1v1h-1zM13 29h1v1h-1zM16 29h1v1h-1zM18 29h1v1h-1zM13 30h1v1h-1zM16 30h1v1h-1zM13 31h1v1h-1zM14 31h1v1h-1zM16 31h1v1h-1zM15 32h1v1h-1zM15 33h1v1h-1zM16 34h1v1h-1zM14 35h1v1h-1z" fill="#9aa2dc" opacity="0.5" filter="url(#bs)"/><path d="M15 13h1v1h-1zM16 13h1v1h-1zM17 13h1v1h-1zM18 13h1v1h-1zM19 13h1v1h-1zM13 14h1v1h-1zM14 14h1v1h-1zM15 14h1v1h-1zM16 14h1v1h-1zM17 14h1v1h-1zM18 14h1v1h-1zM19 14h1v1h-1zM20 14h1v1h-1zM21 14h1v1h-1zM22 14h1v1h-1zM11 15h1v1h-1zM12 15h1v1h-1zM20 15h1v1h-1zM21 15h1v1h-1zM22 15h1v1h-1zM23 15h1v1h-1zM10 16h1v1h-1zM11 16h1v1h-1zM21 16h1v1h-1zM22 16h1v1h-1zM23 16h1v1h-1zM24 16h1v1h-1zM10 17h1v1h-1zM22 17h1v1h-1zM23 17h1v1h-1zM24 17h1v1h-1zM9 18h1v1h-1zM10 18h1v1h-1zM22 18h1v1h-1zM23 18h1v1h-1zM24 18h1v1h-1zM9 19h1v1h-1zM21 19h1v1h-1zM22 19h1v1h-1zM23 19h1v1h-1zM9 20h1v1h-1zM21 20h1v1h-1zM22 20h1v1h-1zM23 20h1v1h-1zM9 21h1v1h-1zM10 21h1v1h-1zM20 21h1v1h-1zM21 21h1v1h-1zM22 21h1v1h-1zM9 22h1v1h-1zM10 22h1v1h-1zM19 22h1v1h-1zM20 22h1v1h-1zM10 23h1v1h-1zM11 23h1v1h-1zM12 23h1v1h-1zM17 23h1v1h-1zM18 23h1v1h-1zM19 23h1v1h-1zM12 24h1v1h-1zM13 24h1v1h-1zM17 24h1v1h-1zM13 25h1v1h-1zM16 25h1v1h-1zM14 26h1v1h-1zM16 26h1v1h-1zM14 27h1v1h-1zM16 27h1v1h-1zM14 28h1v1h-1zM16 28h1v1h-1zM14 29h1v1h-1zM15 29h1v1h-1zM14 30h1v1h-1zM15 30h1v1h-1zM15 31h1v1h-1z" fill="#4866cc"/><path d="M13 15h1v1h-1zM14 15h1v1h-1zM17 15h1v1h-1zM18 15h1v1h-1zM19 15h1v1h-1zM12 16h1v1h-1zM19 16h1v1h-1zM20 16h1v1h-1zM11 17h1v1h-1zM20 17h1v1h-1zM21 17h1v1h-1zM11 18h1v1h-1zM20 18h1v1h-1zM21 18h1v1h-1zM10 19h1v1h-1zM20 19h1v1h-1zM10 20h1v1h-1zM19 20h1v1h-1zM20 20h1v1h-1zM11 21h1v1h-1zM18 21h1v1h-1zM19 21h1v1h-1zM11 22h1v1h-1zM12 22h1v1h-1zM17 22h1v1h-1zM18 22h1v1h-1zM13 23h1v1h-1zM16 23h1v1h-1zM14 24h1v1h-1zM15 24h1v1h-1zM16 24h1v1h-1zM14 25h1v1h-1zM15 25h1v1h-1zM15 26h1v1h-1zM15 27h1v1h-1zM15 28h1v1h-1z" fill="#3a8cd8"/><path d="M15 15h1v1h-1zM16 15h1v1h-1zM13 16h1v1h-1zM14 16h1v1h-1zM17 16h1v1h-1zM18 16h1v1h-1zM12 17h1v1h-1zM18 17h1v1h-1zM19 17h1v1h-1zM12 18h1v1h-1zM18 18h1v1h-1zM19 18h1v1h-1zM11 19h1v1h-1zM12 19h1v1h-1zM18 19h1v1h-1zM19 19h1v1h-1zM11 20h1v1h-1zM12 20h1v1h-1zM18 20h1v1h-1zM12 21h1v1h-1zM17 21h1v1h-1zM13 22h1v1h-1zM14 22h1v1h-1zM16 22h1v1h-1zM14 23h1v1h-1zM15 23h1v1h-1z" fill="#3cbad2"/><path d="M15 16h1v1h-1zM16 16h1v1h-1zM13 17h1v1h-1zM14 17h1v1h-1zM15 17h1v1h-1zM16 17h1v1h-1zM17 17h1v1h-1zM13 18h1v1h-1zM17 18h1v1h-1zM13 19h1v1h-1zM17 19h1v1h-1zM13 20h1v1h-1zM16 20h1v1h-1zM17 20h1v1h-1zM13 21h1v1h-1zM14 21h1v1h-1zM15 21h1v1h-1zM16 21h1v1h-1zM15 22h1v1h-1z" fill="#82cc50"/><path d="M14 18h1v1h-1zM15 18h1v1h-1zM16 18h1v1h-1zM14 19h1v1h-1zM15 19h1v1h-1zM16 19h1v1h-1zM14 20h1v1h-1zM15 20h1v1h-1z" fill="#dcdc40"/></g>
<g transform="translate(118.5 205.3)" filter="url(#bd)" shape-rendering="crispEdges"><path d="M17 6h1v1h-1zM12 7h1v1h-1zM13 8h1v1h-1zM14 8h1v1h-1zM15 8h1v1h-1zM16 8h1v1h-1zM17 8h1v1h-1zM13 9h1v1h-1zM15 10h1v1h-1zM16 10h1v1h-1zM11 11h1v1h-1zM12 11h1v1h-1zM14 11h1v1h-1zM15 11h1v1h-1zM16 11h1v1h-1zM17 11h1v1h-1zM18 11h1v1h-1zM19 11h1v1h-1zM14 12h1v1h-1zM15 12h1v1h-1zM16 12h1v1h-1zM17 12h1v1h-1zM18 12h1v1h-1zM13 13h1v1h-1zM19 13h1v1h-1zM21 13h1v1h-1zM9 14h1v1h-1zM13 14h1v1h-1zM17 14h1v1h-1zM21 14h1v1h-1zM10 15h1v1h-1zM18 15h1v1h-1zM9 16h1v1h-1zM11 16h1v1h-1zM12 16h1v1h-1zM11 17h1v1h-1zM12 17h1v1h-1zM18 17h1v1h-1zM20 17h1v1h-1zM12 18h1v1h-1zM20 18h1v1h-1zM24 18h1v1h-1zM11 19h1v1h-1zM19 19h1v1h-1zM22 19h1v1h-1zM9 20h1v1h-1zM19 20h1v1h-1zM20 20h1v1h-1zM10 21h1v1h-1zM11 21h1v1h-1zM19 21h1v1h-1zM20 21h1v1h-1zM21 21h1v1h-1zM11 22h1v1h-1zM19 22h1v1h-1zM23 22h1v1h-1zM19 23h1v1h-1zM22 23h1v1h-1zM11 24h1v1h-1zM22 24h1v1h-1zM11 25h1v1h-1zM12 25h1v1h-1zM18 25h1v1h-1zM11 26h1v1h-1zM12 26h1v1h-1zM18 26h1v1h-1zM11 27h1v1h-1zM12 27h1v1h-1zM18 27h1v1h-1zM19 27h1v1h-1zM12 28h1v1h-1zM20 28h1v1h-1zM12 29h1v1h-1zM13 29h1v1h-1zM18 29h1v1h-1zM10 30h1v1h-1zM11 30h1v1h-1zM13 30h1v1h-1zM17 30h1v1h-1zM18 30h1v1h-1zM12 31h1v1h-1zM13 31h1v1h-1zM15 31h1v1h-1zM16 31h1v1h-1zM18 31h1v1h-1zM19 31h1v1h-1zM12 32h1v1h-1zM13 32h1v1h-1zM14 32h1v1h-1zM15 32h1v1h-1zM16 32h1v1h-1zM17 32h1v1h-1zM18 32h1v1h-1zM13 33h1v1h-1zM14 33h1v1h-1zM16 33h1v1h-1zM18 33h1v1h-1zM12 34h1v1h-1zM13 34h1v1h-1zM14 34h1v1h-1zM15 34h1v1h-1zM18 34h1v1h-1z" fill="#9aa2dc" opacity="0.5" filter="url(#bs)"/><path d="M14 13h1v1h-1zM15 13h1v1h-1zM16 13h1v1h-1zM14 14h1v1h-1zM15 14h1v1h-1zM16 14h1v1h-1zM13 15h1v1h-1zM17 15h1v1h-1zM13 16h1v1h-1zM17 16h1v1h-1zM13 17h1v1h-1zM17 17h1v1h-1zM18 18h1v1h-1zM12 19h1v1h-1zM18 19h1v1h-1zM12 20h1v1h-1zM18 20h1v1h-1zM12 21h1v1h-1zM18 21h1v1h-1zM12 22h1v1h-1zM18 22h1v1h-1zM12 23h1v1h-1zM18 23h1v1h-1zM12 24h1v1h-1zM13 25h1v1h-1zM17 25h1v1h-1zM13 26h1v1h-1zM17 26h1v1h-1zM13 27h1v1h-1zM17 27h1v1h-1zM13 28h1v1h-1zM14 28h1v1h-1zM15 28h1v1h-1zM16 28h1v1h-1zM17 28h1v1h-1zM14 29h1v1h-1zM15 29h1v1h-1zM16 29h1v1h-1zM14 30h1v1h-1zM15 30h1v1h-1zM16 30h1v1h-1z" fill="#4866cc"/><path d="M14 15h1v1h-1zM15 15h1v1h-1zM16 15h1v1h-1zM14 16h1v1h-1zM16 16h1v1h-1zM13 18h1v1h-1zM17 18h1v1h-1zM13 19h1v1h-1zM17 19h1v1h-1zM13 20h1v1h-1zM17 20h1v1h-1zM13 21h1v1h-1zM17 21h1v1h-1zM13 22h1v1h-1zM17 22h1v1h-1zM13 23h1v1h-1zM17 23h1v1h-1zM13 24h1v1h-1zM17 24h1v1h-1zM14 26h1v1h-1zM16 26h1v1h-1zM14 27h1v1h-1zM15 27h1v1h-1zM16 27h1v1h-1z" fill="#3a8cd8"/><path d="M15 16h1v1h-1zM14 17h1v1h-1zM15 17h1v1h-1zM16 17h1v1h-1zM14 18h1v1h-1zM16 18h1v1h-1zM14 23h1v1h-1zM16 23h1v1h-1zM14 24h1v1h-1zM16 24h1v1h-1zM14 25h1v1h-1zM15 25h1v1h-1zM16 25h1v1h-1zM15 26h1v1h-1z" fill="#3cbad2"/><path d="M15 18h1v1h-1zM14 19h1v1h-1zM15 19h1v1h-1zM16 19h1v1h-1zM14 20h1v1h-1zM15 20h1v1h-1zM16 20h1v1h-1zM14 21h1v1h-1zM15 21h1v1h-1zM16 21h1v1h-1zM14 22h1v1h-1zM15 22h1v1h-1zM16 22h1v1h-1zM15 23h1v1h-1zM15 24h1v1h-1z" fill="#82cc50"/></g>
<g transform="translate(160.3 205.3)" filter="url(#bd)" shape-rendering="crispEdges"><path d="M13 8h1v1h-1zM13 9h1v1h-1zM14 9h1v1h-1zM12 10h1v1h-1zM13 10h1v1h-1zM14 10h1v1h-1zM15 10h1v1h-1zM16 10h1v1h-1zM11 11h1v1h-1zM12 11h1v1h-1zM13 11h1v1h-1zM11 12h1v1h-1zM12 12h1v1h-1zM13 12h1v1h-1zM14 12h1v1h-1zM11 13h1v1h-1zM12 13h1v1h-1zM15 13h1v1h-1zM16 13h1v1h-1zM10 14h1v1h-1zM16 14h1v1h-1zM10 15h1v1h-1zM11 15h1v1h-1zM16 15h1v1h-1zM17 15h1v1h-1zM18 15h1v1h-1zM11 16h1v1h-1zM16 16h1v1h-1zM17 17h1v1h-1zM9 18h1v1h-1zM10 18h1v1h-1zM10 21h1v1h-1zM17 21h1v1h-1zM10 22h1v1h-1zM18 22h1v1h-1zM18 23h1v1h-1zM17 24h1v1h-1zM18 24h1v1h-1zM19 24h1v1h-1zM10 25h1v1h-1zM17 25h1v1h-1zM19 26h1v1h-1zM8 27h1v1h-1zM17 27h1v1h-1zM18 27h1v1h-1zM11 28h1v1h-1zM16 28h1v1h-1zM17 28h1v1h-1zM18 28h1v1h-1zM10 29h1v1h-1zM16 29h1v1h-1zM10 30h1v1h-1zM11 30h1v1h-1zM16 30h1v1h-1zM11 31h1v1h-1zM12 31h1v1h-1zM15 31h1v1h-1zM16 31h1v1h-1zM9 32h1v1h-1zM10 32h1v1h-1zM12 32h1v1h-1zM13 32h1v1h-1zM9 33h1v1h-1zM14 33h1v1h-1zM16 33h1v1h-1zM13 34h1v1h-1zM14 35h1v1h-1z" fill="#9aa2dc" opacity="0.5" filter="url(#bs)"/><path d="M13 15h1v1h-1zM14 15h1v1h-1zM12 16h1v1h-1zM15 16h1v1h-1zM12 17h1v1h-1zM15 17h1v1h-1zM12 26h1v1h-1zM15 26h1v1h-1zM12 27h1v1h-1zM15 27h1v1h-1zM13 29h1v1h-1zM14 29h1v1h-1z" fill="#1e2a86"/><path d="M13 13h1v1h-1zM14 13h1v1h-1zM12 14h1v1h-1zM13 14h1v1h-1zM14 14h1v1h-1zM15 14h1v1h-1zM12 15h1v1h-1zM15 15h1v1h-1zM11 17h1v1h-1zM16 17h1v1h-1zM11 18h1v1h-1zM16 18h1v1h-1zM11 19h1v1h-1zM16 19h1v1h-1zM11 20h1v1h-1zM16 20h1v1h-1zM11 21h1v1h-1zM16 21h1v1h-1zM11 22h1v1h-1zM16 22h1v1h-1zM11 23h1v1h-1zM16 23h1v1h-1zM11 24h1v1h-1zM16 24h1v1h-1zM11 25h1v1h-1zM16 25h1v1h-1zM11 26h1v1h-1zM16 26h1v1h-1zM11 27h1v1h-1zM16 27h1v1h-1zM12 28h1v1h-1zM15 28h1v1h-1zM12 29h1v1h-1zM15 29h1v1h-1zM12 30h1v1h-1zM13 30h1v1h-1zM14 30h1v1h-1zM15 30h1v1h-1zM13 31h1v1h-1zM14 31h1v1h-1z" fill="#6472cc"/><path d="M13 15h1v1h-1zM14 15h1v1h-1zM12 16h1v1h-1zM15 16h1v1h-1zM12 17h1v1h-1zM15 17h1v1h-1zM12 26h1v1h-1zM15 26h1v1h-1zM12 27h1v1h-1zM15 27h1v1h-1zM13 29h1v1h-1zM14 29h1v1h-1z" fill="#1e2a86"/><path d="M13 16h1v1h-1zM14 16h1v1h-1zM13 17h1v1h-1zM14 17h1v1h-1zM12 18h1v1h-1zM15 18h1v1h-1zM12 19h1v1h-1zM15 19h1v1h-1zM12 20h1v1h-1zM15 20h1v1h-1zM12 21h1v1h-1zM15 21h1v1h-1zM12 22h1v1h-1zM15 22h1v1h-1zM12 23h1v1h-1zM15 23h1v1h-1zM12 24h1v1h-1zM15 24h1v1h-1zM12 25h1v1h-1zM15 25h1v1h-1zM13 27h1v1h-1zM14 27h1v1h-1zM13 28h1v1h-1zM14 28h1v1h-1z" fill="#3cbad2"/><path d="M13 18h1v1h-1zM14 18h1v1h-1zM13 19h1v1h-1zM14 19h1v1h-1zM13 20h1v1h-1zM14 20h1v1h-1zM13 21h1v1h-1zM14 21h1v1h-1zM13 22h1v1h-1zM14 22h1v1h-1zM13 23h1v1h-1zM14 23h1v1h-1zM13 24h1v1h-1zM14 24h1v1h-1zM13 25h1v1h-1zM14 25h1v1h-1zM13 26h1v1h-1zM14 26h1v1h-1z" fill="#82cc50"/></g>
<g transform="translate(37 248)" filter="url(#bd)" shape-rendering="crispEdges"><path d="M14 10h1v1h-1zM17 11h1v1h-1zM14 12h1v1h-1zM14 13h1v1h-1zM16 13h1v1h-1zM13 14h1v1h-1zM16 14h1v1h-1zM12 15h1v1h-1zM13 15h1v1h-1zM14 15h1v1h-1zM16 15h1v1h-1zM13 16h1v1h-1zM14 16h1v1h-1zM15 16h1v1h-1zM16 16h1v1h-1zM17 16h1v1h-1zM19 16h1v1h-1zM13 17h1v1h-1zM14 17h1v1h-1zM17 17h1v1h-1zM14 18h1v1h-1zM15 18h1v1h-1zM16 18h1v1h-1zM17 18h1v1h-1zM11 19h1v1h-1zM13 19h1v1h-1zM14 19h1v1h-1zM17 19h1v1h-1zM13 20h1v1h-1zM14 20h1v1h-1zM18 20h1v1h-1zM19 20h1v1h-1zM13 21h1v1h-1zM14 21h1v1h-1zM17 21h1v1h-1zM18 21h1v1h-1zM12 22h1v1h-1zM13 22h1v1h-1zM14 22h1v1h-1zM18 22h1v1h-1zM20 22h1v1h-1zM11 23h1v1h-1zM13 23h1v1h-1zM14 23h1v1h-1zM18 23h1v1h-1zM13 24h1v1h-1zM14 24h1v1h-1zM18 24h1v1h-1zM19 24h1v1h-1zM13 25h1v1h-1zM17 25h1v1h-1zM18 25h1v1h-1zM11 26h1v1h-1zM13 26h1v1h-1zM14 26h1v1h-1zM17 26h1v1h-1zM18 26h1v1h-1zM13 27h1v1h-1zM14 27h1v1h-1zM17 27h1v1h-1zM18 27h1v1h-1zM12 28h1v1h-1zM13 28h1v1h-1zM14 28h1v1h-1zM19 28h1v1h-1zM13 29h1v1h-1zM14 29h1v1h-1zM16 29h1v1h-1zM13 30h1v1h-1zM14 30h1v1h-1zM15 30h1v1h-1zM16 30h1v1h-1zM17 30h1v1h-1zM19 30h1v1h-1zM14 31h1v1h-1zM15 31h1v1h-1zM16 31h1v1h-1zM17 31h1v1h-1zM12 32h1v1h-1zM14 32h1v1h-1zM15 32h1v1h-1zM16 32h1v1h-1zM18 32h1v1h-1zM19 32h1v1h-1zM13 33h1v1h-1zM15 33h1v1h-1zM16 33h1v1h-1zM17 33h1v1h-1zM13 34h1v1h-1zM14 34h1v1h-1zM15 34h1v1h-1zM16 34h1v1h-1zM17 34h1v1h-1zM18 34h1v1h-1zM14 35h1v1h-1zM15 35h1v1h-1zM16 35h1v1h-1z" fill="#9aa2dc" opacity="0.5" filter="url(#bs)"/><path d="M15 19h1v1h-1zM16 19h1v1h-1zM15 20h1v1h-1zM16 20h1v1h-1zM15 21h1v1h-1zM15 22h1v1h-1zM17 22h1v1h-1zM15 23h1v1h-1zM17 23h1v1h-1zM15 24h1v1h-1zM17 24h1v1h-1zM15 25h1v1h-1zM15 26h1v1h-1zM16 26h1v1h-1zM15 27h1v1h-1zM16 27h1v1h-1zM15 28h1v1h-1zM16 28h1v1h-1z" fill="#8682b8"/><path d="M16 21h1v1h-1zM16 22h1v1h-1zM16 23h1v1h-1zM16 24h1v1h-1zM16 25h1v1h-1z" fill="#6e6aa8"/></g>
<g transform="translate(77.3 248)" filter="url(#bd)" shape-rendering="crispEdges"><path d="M17 6h1v1h-1zM18 6h1v1h-1zM20 6h1v1h-1zM23 6h1v1h-1zM11 7h1v1h-1zM14 7h1v1h-1zM17 7h1v1h-1zM19 7h1v1h-1zM23 7h1v1h-1zM13 8h1v1h-1zM14 8h1v1h-1zM16 8h1v1h-1zM19 8h1v1h-1zM20 8h1v1h-1zM21 8h1v1h-1zM11 9h1v1h-1zM12 9h1v1h-1zM13 9h1v1h-1zM17 9h1v1h-1zM19 9h1v1h-1zM14 10h1v1h-1zM15 10h1v1h-1zM16 10h1v1h-1zM17 10h1v1h-1zM19 10h1v1h-1zM21 10h1v1h-1zM25 10h1v1h-1zM26 10h1v1h-1zM27 10h1v1h-1zM8 11h1v1h-1zM9 11h1v1h-1zM11 11h1v1h-1zM12 11h1v1h-1zM13 11h1v1h-1zM14 11h1v1h-1zM15 11h1v1h-1zM17 11h1v1h-1zM18 11h1v1h-1zM19 11h1v1h-1zM20 11h1v1h-1zM24 11h1v1h-1zM10 12h1v1h-1zM11 12h1v1h-1zM12 12h1v1h-1zM13 12h1v1h-1zM14 12h1v1h-1zM17 12h1v1h-1zM18 12h1v1h-1zM19 12h1v1h-1zM20 12h1v1h-1zM21 12h1v1h-1zM22 12h1v1h-1zM23 12h1v1h-1zM24 12h1v1h-1zM25 12h1v1h-1zM8 13h1v1h-1zM10 13h1v1h-1zM11 13h1v1h-1zM13 13h1v1h-1zM14 13h1v1h-1zM15 13h1v1h-1zM16 13h1v1h-1zM17 13h1v1h-1zM18 13h1v1h-1zM19 13h1v1h-1zM20 13h1v1h-1zM21 13h1v1h-1zM22 13h1v1h-1zM23 13h1v1h-1zM24 13h1v1h-1zM26 13h1v1h-1zM29 13h1v1h-1zM7 14h1v1h-1zM9 14h1v1h-1zM10 14h1v1h-1zM12 14h1v1h-1zM13 14h1v1h-1zM14 14h1v1h-1zM15 14h1v1h-1zM16 14h1v1h-1zM17 14h1v1h-1zM19 14h1v1h-1zM20 14h1v1h-1zM21 14h1v1h-1zM22 14h1v1h-1zM23 14h1v1h-1zM24 14h1v1h-1zM30 14h1v1h-1zM6 15h1v1h-1zM11 15h1v1h-1zM12 15h1v1h-1zM13 15h1v1h-1zM14 15h1v1h-1zM15 15h1v1h-1zM21 15h1v1h-1zM22 15h1v1h-1zM23 15h1v1h-1zM24 15h1v1h-1zM25 15h1v1h-1zM26 15h1v1h-1zM28 15h1v1h-1zM30 15h1v1h-1zM11 16h1v1h-1zM12 16h1v1h-1zM13 16h1v1h-1zM14 16h1v1h-1zM22 16h1v1h-1zM23 16h1v1h-1zM24 16h1v1h-1zM25 16h1v1h-1zM27 16h1v1h-1zM28 16h1v1h-1zM7 17h1v1h-1zM10 17h1v1h-1zM11 17h1v1h-1zM12 17h1v1h-1zM13 17h1v1h-1zM14 17h1v1h-1zM22 17h1v1h-1zM23 17h1v1h-1zM24 17h1v1h-1zM25 17h1v1h-1zM27 17h1v1h-1zM28 17h1v1h-1zM31 17h1v1h-1zM6 18h1v1h-1zM8 18h1v1h-1zM10 18h1v1h-1zM11 18h1v1h-1zM12 18h1v1h-1zM13 18h1v1h-1zM22 18h1v1h-1zM23 18h1v1h-1zM24 18h1v1h-1zM25 18h1v1h-1zM26 18h1v1h-1zM27 18h1v1h-1zM8 19h1v1h-1zM11 19h1v1h-1zM12 19h1v1h-1zM13 19h1v1h-1zM24 19h1v1h-1zM25 19h1v1h-1zM27 19h1v1h-1zM28 19h1v1h-1zM31 19h1v1h-1zM7 20h1v1h-1zM10 20h1v1h-1zM11 20h1v1h-1zM12 20h1v1h-1zM13 20h1v1h-1zM22 20h1v1h-1zM25 20h1v1h-1zM26 20h1v1h-1zM27 20h1v1h-1zM29 20h1v1h-1zM30 20h1v1h-1zM8 21h1v1h-1zM9 21h1v1h-1zM10 21h1v1h-1zM11 21h1v1h-1zM12 21h1v1h-1zM13 21h1v1h-1zM22 21h1v1h-1zM23 21h1v1h-1zM24 21h1v1h-1zM26 21h1v1h-1zM28 21h1v1h-1zM29 21h1v1h-1zM30 21h1v1h-1zM5 22h1v1h-1zM10 22h1v1h-1zM12 22h1v1h-1zM22 22h1v1h-1zM23 22h1v1h-1zM25 22h1v1h-1zM26 22h1v1h-1zM27 22h1v1h-1zM29 22h1v1h-1zM30 22h1v1h-1zM31 22h1v1h-1zM9 23h1v1h-1zM10 23h1v1h-1zM11 23h1v1h-1zM12 23h1v1h-1zM13 23h1v1h-1zM14 23h1v1h-1zM21 23h1v1h-1zM22 23h1v1h-1zM23 23h1v1h-1zM25 23h1v1h-1zM27 23h1v1h-1zM28 23h1v1h-1zM29 23h1v1h-1zM10 24h1v1h-1zM11 24h1v1h-1zM12 24h1v1h-1zM13 24h1v1h-1zM20 24h1v1h-1zM21 24h1v1h-1zM22 24h1v1h-1zM23 24h1v1h-1zM24 24h1v1h-1zM25 24h1v1h-1zM26 24h1v1h-1zM28 24h1v1h-1zM10 25h1v1h-1zM11 25h1v1h-1zM12 25h1v1h-1zM13 25h1v1h-1zM14 25h1v1h-1zM15 25h1v1h-1zM19 25h1v1h-1zM20 25h1v1h-1zM21 25h1v1h-1zM22 25h1v1h-1zM23 25h1v1h-1zM24 25h1v1h-1zM25 25h1v1h-1zM26 25h1v1h-1zM27 25h1v1h-1zM9 26h1v1h-1zM10 26h1v1h-1zM12 26h1v1h-1zM13 26h1v1h-1zM14 26h1v1h-1zM15 26h1v1h-1zM16 26h1v1h-1zM17 26h1v1h-1zM18 26h1v1h-1zM19 26h1v1h-1zM20 26h1v1h-1zM21 26h1v1h-1zM22 26h1v1h-1zM23 26h1v1h-1zM24 26h1v1h-1zM25 26h1v1h-1zM26 26h1v1h-1zM28 26h1v1h-1zM8 27h1v1h-1zM11 27h1v1h-1zM13 27h1v1h-1zM14 27h1v1h-1zM15 27h1v1h-1zM16 27h1v1h-1zM17 27h1v1h-1zM18 27h1v1h-1zM19 27h1v1h-1zM20 27h1v1h-1zM21 27h1v1h-1zM22 27h1v1h-1zM23 27h1v1h-1zM27 27h1v1h-1zM29 27h1v1h-1zM6 28h1v1h-1zM7 28h1v1h-1zM9 28h1v1h-1zM12 28h1v1h-1zM13 28h1v1h-1zM14 28h1v1h-1zM15 28h1v1h-1zM16 28h1v1h-1zM18 28h1v1h-1zM19 28h1v1h-1zM20 28h1v1h-1zM21 28h1v1h-1zM22 28h1v1h-1zM23 28h1v1h-1zM24 28h1v1h-1zM27 28h1v1h-1zM28 28h1v1h-1zM29 28h1v1h-1zM12 29h1v1h-1zM15 29h1v1h-1zM16 29h1v1h-1zM17 29h1v1h-1zM18 29h1v1h-1zM20 29h1v1h-1zM21 29h1v1h-1zM22 29h1v1h-1zM23 29h1v1h-1zM24 29h1v1h-1zM26 29h1v1h-1zM9 30h1v1h-1zM13 30h1v1h-1zM14 30h1v1h-1zM15 30h1v1h-1zM16 30h1v1h-1zM17 30h1v1h-1zM18 30h1v1h-1zM20 30h1v1h-1zM21 30h1v1h-1zM22 30h1v1h-1zM9 31h1v1h-1zM11 31h1v1h-1zM12 31h1v1h-1zM14 31h1v1h-1zM15 31h1v1h-1zM16 31h1v1h-1zM17 31h1v1h-1zM18 31h1v1h-1zM21 31h1v1h-1zM24 31h1v1h-1zM14 32h1v1h-1zM16 32h1v1h-1zM18 32h1v1h-1zM21 32h1v1h-1zM24 32h1v1h-1zM14 33h1v1h-1zM18 33h1v1h-1zM20 33h1v1h-1zM22 33h1v1h-1zM23 33h1v1h-1zM24 33h1v1h-1zM13 34h1v1h-1zM16 34h1v1h-1zM18 34h1v1h-1zM19 34h1v1h-1zM20 34h1v1h-1zM21 34h1v1h-1zM25 34h1v1h-1zM13 35h1v1h-1zM18 35h1v1h-1z" fill="#9aa2dc" opacity="0.5" filter="url(#bs)"/><path d="M18 14h1v1h-1zM16 15h1v1h-1zM17 15h1v1h-1zM18 15h1v1h-1zM19 15h1v1h-1zM20 15h1v1h-1zM15 16h1v1h-1zM16 16h1v1h-1zM17 16h1v1h-1zM18 16h1v1h-1zM19 16h1v1h-1zM20 16h1v1h-1zM21 16h1v1h-1zM15 17h1v1h-1zM16 17h1v1h-1zM19 17h1v1h-1zM20 17h1v1h-1zM21 17h1v1h-1zM14 18h1v1h-1zM15 18h1v1h-1zM20 18h1v1h-1zM21 18h1v1h-1zM14 19h1v1h-1zM15 19h1v1h-1zM20 19h1v1h-1zM21 19h1v1h-1zM14 20h1v1h-1zM15 20h1v1h-1zM20 20h1v1h-1zM21 20h1v1h-1zM14 21h1v1h-1zM15 21h1v1h-1zM20 21h1v1h-1zM21 21h1v1h-1zM14 22h1v1h-1zM15 22h1v1h-1zM16 22h1v1h-1zM19 22h1v1h-1zM20 22h1v1h-1zM21 22h1v1h-1zM15 23h1v1h-1zM16 23h1v1h-1zM17 23h1v1h-1zM18 23h1v1h-1zM19 23h1v1h-1zM20 23h1v1h-1zM15 24h1v1h-1zM16 24h1v1h-1zM17 24h1v1h-1zM18 24h1v1h-1zM19 24h1v1h-1zM16 25h1v1h-1zM17 25h1v1h-1zM18 25h1v1h-1z" fill="#8682b8"/><path d="M17 17h1v1h-1zM18 17h1v1h-1zM16 18h1v1h-1zM17 18h1v1h-1zM18 18h1v1h-1zM19 18h1v1h-1zM16 19h1v1h-1zM17 19h1v1h-1zM18 19h1v1h-1zM19 19h1v1h-1zM16 20h1v1h-1zM17 20h1v1h-1zM18 20h1v1h-1zM19 20h1v1h-1zM16 21h1v1h-1zM17 21h1v1h-1zM18 21h1v1h-1zM19 21h1v1h-1zM17 22h1v1h-1zM18 22h1v1h-1z" fill="#6e6aa8"/></g>
<g transform="translate(118.5 248)" filter="url(#bd)" shape-rendering="crispEdges"><path d="M15 1h1v1h-1zM14 3h1v1h-1zM16 3h1v1h-1zM14 4h1v1h-1zM15 4h1v1h-1zM15 5h1v1h-1zM15 6h1v1h-1zM16 6h1v1h-1zM15 7h1v1h-1zM14 8h1v1h-1zM15 8h1v1h-1zM16 8h1v1h-1zM17 8h1v1h-1zM13 9h1v1h-1zM14 9h1v1h-1zM15 9h1v1h-1zM11 10h1v1h-1zM14 10h1v1h-1zM16 10h1v1h-1zM10 11h1v1h-1zM12 11h1v1h-1zM13 11h1v1h-1zM11 12h1v1h-1zM17 12h1v1h-1zM22 12h1v1h-1zM11 13h1v1h-1zM12 13h1v1h-1zM17 13h1v1h-1zM20 13h1v1h-1zM9 14h1v1h-1zM13 14h1v1h-1zM17 14h1v1h-1zM12 15h1v1h-1zM13 15h1v1h-1zM17 15h1v1h-1zM18 15h1v1h-1zM23 15h1v1h-1zM8 16h1v1h-1zM10 16h1v1h-1zM12 16h1v1h-1zM13 16h1v1h-1zM17 16h1v1h-1zM11 17h1v1h-1zM12 17h1v1h-1zM17 17h1v1h-1zM18 17h1v1h-1zM21 17h1v1h-1zM23 17h1v1h-1zM10 18h1v1h-1zM11 18h1v1h-1zM12 18h1v1h-1zM18 18h1v1h-1zM19 18h1v1h-1zM8 19h1v1h-1zM10 19h1v1h-1zM11 19h1v1h-1zM12 19h1v1h-1zM20 19h1v1h-1zM10 20h1v1h-1zM11 20h1v1h-1zM18 20h1v1h-1zM21 20h1v1h-1zM9 21h1v1h-1zM10 21h1v1h-1zM11 21h1v1h-1zM12 21h1v1h-1zM18 21h1v1h-1zM11 22h1v1h-1zM12 22h1v1h-1zM22 22h1v1h-1zM10 23h1v1h-1zM11 23h1v1h-1zM12 23h1v1h-1zM19 23h1v1h-1zM20 23h1v1h-1zM11 24h1v1h-1zM12 24h1v1h-1zM18 24h1v1h-1zM24 24h1v1h-1zM10 25h1v1h-1zM11 25h1v1h-1zM12 25h1v1h-1zM11 26h1v1h-1zM12 26h1v1h-1zM18 26h1v1h-1zM11 27h1v1h-1zM12 27h1v1h-1zM18 27h1v1h-1zM9 28h1v1h-1zM12 28h1v1h-1zM13 28h1v1h-1zM17 28h1v1h-1zM19 28h1v1h-1zM11 29h1v1h-1zM12 29h1v1h-1zM13 29h1v1h-1zM17 29h1v1h-1zM10 30h1v1h-1zM11 30h1v1h-1zM13 30h1v1h-1zM17 30h1v1h-1zM13 31h1v1h-1zM17 31h1v1h-1zM13 32h1v1h-1zM18 32h1v1h-1zM13 33h1v1h-1zM14 33h1v1h-1zM9 34h1v1h-1zM14 34h1v1h-1zM13 35h1v1h-1zM16 35h1v1h-1z" fill="#9aa2dc" opacity="0.5" filter="url(#bs)"/><path d="M15 10h1v1h-1zM15 11h1v1h-1zM16 11h1v1h-1zM14 12h1v1h-1zM15 12h1v1h-1zM16 12h1v1h-1zM14 13h1v1h-1zM16 13h1v1h-1zM14 14h1v1h-1zM16 14h1v1h-1zM14 15h1v1h-1zM14 16h1v1h-1zM13 17h1v1h-1zM13 18h1v1h-1zM17 18h1v1h-1zM13 19h1v1h-1zM17 19h1v1h-1zM13 20h1v1h-1zM17 20h1v1h-1zM13 21h1v1h-1zM17 21h1v1h-1zM13 22h1v1h-1zM17 22h1v1h-1zM13 23h1v1h-1zM17 23h1v1h-1zM13 24h1v1h-1zM17 24h1v1h-1zM13 25h1v1h-1zM17 25h1v1h-1zM13 26h1v1h-1zM17 26h1v1h-1zM13 27h1v1h-1zM17 27h1v1h-1zM14 29h1v1h-1zM14 30h1v1h-1zM14 31h1v1h-1zM16 31h1v1h-1zM14 32h1v1h-1zM16 32h1v1h-1zM15 33h1v1h-1zM16 33h1v1h-1zM15 34h1v1h-1zM16 34h1v1h-1zM15 35h1v1h-1z" fill="#4866cc"/><path d="M15 13h1v1h-1zM15 14h1v1h-1zM15 15h1v1h-1zM16 15h1v1h-1zM16 16h1v1h-1zM14 17h1v1h-1zM16 17h1v1h-1zM14 18h1v1h-1zM14 19h1v1h-1zM14 20h1v1h-1zM14 21h1v1h-1zM14 22h1v1h-1zM14 23h1v1h-1zM14 24h1v1h-1zM14 25h1v1h-1zM14 26h1v1h-1zM14 27h1v1h-1zM14 28h1v1h-1zM16 28h1v1h-1zM16 29h1v1h-1zM15 30h1v1h-1zM16 30h1v1h-1zM15 31h1v1h-1zM15 32h1v1h-1z" fill="#3a8cd8"/><path d="M15 16h1v1h-1zM15 17h1v1h-1zM15 18h1v1h-1zM16 18h1v1h-1zM16 19h1v1h-1zM16 20h1v1h-1zM16 21h1v1h-1zM16 22h1v1h-1zM16 23h1v1h-1zM16 24h1v1h-1zM16 25h1v1h-1zM16 26h1v1h-1zM15 27h1v1h-1zM16 27h1v1h-1zM15 28h1v1h-1zM15 29h1v1h-1z" fill="#3cbad2"/><path d="M15 19h1v1h-1zM15 20h1v1h-1zM15 21h1v1h-1zM15 22h1v1h-1zM15 23h1v1h-1zM15 24h1v1h-1zM15 25h1v1h-1zM15 26h1v1h-1z" fill="#82cc50"/></g>
<g transform="translate(160.3 248)" filter="url(#bd)" shape-rendering="crispEdges"><path d="M13 2h1v1h-1zM13 4h1v1h-1zM9 7h1v1h-1zM10 7h1v1h-1zM16 7h1v1h-1zM12 8h1v1h-1zM11 9h1v1h-1zM13 9h1v1h-1zM14 9h1v1h-1zM11 10h1v1h-1zM13 10h1v1h-1zM14 10h1v1h-1zM15 10h1v1h-1zM16 10h1v1h-1zM23 10h1v1h-1zM24 10h1v1h-1zM10 11h1v1h-1zM14 11h1v1h-1zM15 11h1v1h-1zM11 12h1v1h-1zM12 12h1v1h-1zM15 12h1v1h-1zM11 13h1v1h-1zM12 13h1v1h-1zM15 13h1v1h-1zM16 13h1v1h-1zM8 14h1v1h-1zM10 14h1v1h-1zM11 14h1v1h-1zM16 14h1v1h-1zM18 14h1v1h-1zM22 14h1v1h-1zM26 14h1v1h-1zM10 15h1v1h-1zM11 15h1v1h-1zM16 15h1v1h-1zM17 15h1v1h-1zM16 16h1v1h-1zM18 16h1v1h-1zM23 16h1v1h-1zM24 16h1v1h-1zM10 17h1v1h-1zM10 18h1v1h-1zM17 18h1v1h-1zM18 18h1v1h-1zM27 18h1v1h-1zM10 19h1v1h-1zM17 19h1v1h-1zM9 20h1v1h-1zM10 20h1v1h-1zM17 20h1v1h-1zM20 20h1v1h-1zM7 21h1v1h-1zM9 21h1v1h-1zM10 21h1v1h-1zM17 21h1v1h-1zM19 21h1v1h-1zM7 22h1v1h-1zM17 22h1v1h-1zM19 22h1v1h-1zM22 22h1v1h-1zM24 22h1v1h-1zM8 23h1v1h-1zM17 23h1v1h-1zM18 23h1v1h-1zM20 23h1v1h-1zM9 24h1v1h-1zM17 24h1v1h-1zM9 25h1v1h-1zM17 25h1v1h-1zM19 25h1v1h-1zM20 25h1v1h-1zM8 26h1v1h-1zM9 26h1v1h-1zM17 26h1v1h-1zM8 27h1v1h-1zM9 27h1v1h-1zM17 27h1v1h-1zM18 27h1v1h-1zM19 27h1v1h-1zM7 28h1v1h-1zM8 28h1v1h-1zM9 28h1v1h-1zM10 28h1v1h-1zM17 28h1v1h-1zM9 29h1v1h-1zM10 29h1v1h-1zM17 29h1v1h-1zM18 29h1v1h-1zM20 29h1v1h-1zM8 30h1v1h-1zM10 30h1v1h-1zM17 30h1v1h-1zM18 30h1v1h-1zM9 31h1v1h-1zM10 31h1v1h-1zM10 32h1v1h-1zM16 32h1v1h-1zM17 32h1v1h-1zM16 33h1v1h-1zM17 33h1v1h-1zM18 33h1v1h-1zM10 34h1v1h-1zM11 34h1v1h-1zM16 34h1v1h-1zM10 35h1v1h-1zM11 35h1v1h-1z" fill="#9aa2dc" opacity="0.5" filter="url(#bs)"/><path d="M13 15h1v1h-1zM14 15h1v1h-1zM13 16h1v1h-1zM14 16h1v1h-1zM12 17h1v1h-1zM15 17h1v1h-1zM12 18h1v1h-1zM15 18h1v1h-1zM12 19h1v1h-1zM15 19h1v1h-1zM11 22h1v1h-1zM11 23h1v1h-1zM11 24h1v1h-1zM11 25h1v1h-1zM11 26h1v1h-1zM11 27h1v1h-1zM12 30h1v1h-1zM15 30h1v1h-1zM12 31h1v1h-1zM15 31h1v1h-1zM12 32h1v1h-1zM15 32h1v1h-1zM13 33h1v1h-1zM14 33h1v1h-1zM13 34h1v1h-1zM14 34h1v1h-1z" fill="#1e2a86"/><path d="M13 12h1v1h-1zM14 12h1v1h-1zM13 13h1v1h-1zM14 13h1v1h-1zM12 14h1v1h-1zM13 14h1v1h-1zM14 14h1v1h-1zM15 14h1v1h-1zM12 15h1v1h-1zM15 15h1v1h-1zM11 16h1v1h-1zM12 16h1v1h-1zM15 16h1v1h-1zM11 17h1v1h-1zM16 17h1v1h-1zM11 18h1v1h-1zM16 18h1v1h-1zM11 19h1v1h-1zM16 19h1v1h-1zM11 20h1v1h-1zM16 20h1v1h-1zM11 21h1v1h-1zM16 21h1v1h-1zM10 22h1v1h-1zM16 22h1v1h-1zM10 23h1v1h-1zM16 23h1v1h-1zM10 24h1v1h-1zM16 24h1v1h-1zM10 25h1v1h-1zM16 25h1v1h-1zM10 26h1v1h-1zM16 26h1v1h-1zM10 27h1v1h-1zM16 27h1v1h-1zM11 28h1v1h-1zM16 28h1v1h-1zM11 29h1v1h-1zM16 29h1v1h-1zM11 30h1v1h-1zM16 30h1v1h-1zM11 31h1v1h-1zM16 31h1v1h-1zM11 32h1v1h-1zM11 33h1v1h-1zM12 33h1v1h-1zM15 33h1v1h-1zM12 34h1v1h-1zM15 34h1v1h-1zM12 35h1v1h-1zM13 35h1v1h-1zM14 35h1v1h-1zM15 35h1v1h-1z" fill="#6472cc"/><path d="M13 15h1v1h-1zM14 15h1v1h-1zM13 16h1v1h-1zM14 16h1v1h-1zM12 17h1v1h-1zM15 17h1v1h-1zM12 18h1v1h-1zM15 18h1v1h-1zM12 19h1v1h-1zM15 19h1v1h-1zM11 22h1v1h-1zM11 23h1v1h-1zM11 24h1v1h-1zM11 25h1v1h-1zM11 26h1v1h-1zM11 27h1v1h-1zM12 30h1v1h-1zM15 30h1v1h-1zM12 31h1v1h-1zM15 31h1v1h-1zM12 32h1v1h-1zM15 32h1v1h-1zM13 33h1v1h-1zM14 33h1v1h-1zM13 34h1v1h-1zM14 34h1v1h-1z" fill="#1e2a86"/><path d="M13 17h1v1h-1zM14 17h1v1h-1zM13 18h1v1h-1zM14 18h1v1h-1zM13 19h1v1h-1zM14 19h1v1h-1zM12 20h1v1h-1zM15 20h1v1h-1zM12 21h1v1h-1zM15 21h1v1h-1zM12 22h1v1h-1zM15 22h1v1h-1zM12 23h1v1h-1zM15 23h1v1h-1zM12 24h1v1h-1zM15 24h1v1h-1zM12 25h1v1h-1zM15 25h1v1h-1zM12 26h1v1h-1zM15 26h1v1h-1zM12 27h1v1h-1zM15 27h1v1h-1zM12 28h1v1h-1zM15 28h1v1h-1zM12 29h1v1h-1zM15 29h1v1h-1zM13 30h1v1h-1zM14 30h1v1h-1zM13 31h1v1h-1zM14 31h1v1h-1zM13 32h1v1h-1zM14 32h1v1h-1z" fill="#3cbad2"/><path d="M13 20h1v1h-1zM14 20h1v1h-1zM13 21h1v1h-1zM14 21h1v1h-1zM13 22h1v1h-1zM14 22h1v1h-1zM13 23h1v1h-1zM14 23h1v1h-1zM13 24h1v1h-1zM14 24h1v1h-1zM13 25h1v1h-1zM14 25h1v1h-1zM13 26h1v1h-1zM14 26h1v1h-1zM13 27h1v1h-1zM14 27h1v1h-1zM13 28h1v1h-1zM14 28h1v1h-1zM13 29h1v1h-1zM14 29h1v1h-1z" fill="#82cc50"/></g>
<g transform="translate(37 290.3)" filter="url(#bd)" shape-rendering="crispEdges"><path d="M13 8h1v1h-1zM12 11h1v1h-1zM14 11h1v1h-1zM11 13h1v1h-1zM12 13h1v1h-1zM14 13h1v1h-1zM25 13h1v1h-1zM11 14h1v1h-1zM12 14h1v1h-1zM14 14h1v1h-1zM15 14h1v1h-1zM16 14h1v1h-1zM22 14h1v1h-1zM25 14h1v1h-1zM12 15h1v1h-1zM13 15h1v1h-1zM14 15h1v1h-1zM16 15h1v1h-1zM17 15h1v1h-1zM18 15h1v1h-1zM19 15h1v1h-1zM20 15h1v1h-1zM24 15h1v1h-1zM11 16h1v1h-1zM12 16h1v1h-1zM13 16h1v1h-1zM14 16h1v1h-1zM15 16h1v1h-1zM16 16h1v1h-1zM21 16h1v1h-1zM25 16h1v1h-1zM11 17h1v1h-1zM12 17h1v1h-1zM15 17h1v1h-1zM16 17h1v1h-1zM17 17h1v1h-1zM28 17h1v1h-1zM10 18h1v1h-1zM11 18h1v1h-1zM12 18h1v1h-1zM16 18h1v1h-1zM17 18h1v1h-1zM11 19h1v1h-1zM16 19h1v1h-1zM17 19h1v1h-1zM21 19h1v1h-1zM22 19h1v1h-1zM23 19h1v1h-1zM24 19h1v1h-1zM25 19h1v1h-1zM26 19h1v1h-1zM10 20h1v1h-1zM11 20h1v1h-1zM17 20h1v1h-1zM22 20h1v1h-1zM26 20h1v1h-1zM11 21h1v1h-1zM17 21h1v1h-1zM23 21h1v1h-1zM8 22h1v1h-1zM9 22h1v1h-1zM10 22h1v1h-1zM11 22h1v1h-1zM17 22h1v1h-1zM18 22h1v1h-1zM19 22h1v1h-1zM21 22h1v1h-1zM22 22h1v1h-1zM8 23h1v1h-1zM9 23h1v1h-1zM17 23h1v1h-1zM18 23h1v1h-1zM21 23h1v1h-1zM22 23h1v1h-1zM25 23h1v1h-1zM10 24h1v1h-1zM17 24h1v1h-1zM18 24h1v1h-1zM19 24h1v1h-1zM20 24h1v1h-1zM24 24h1v1h-1zM10 25h1v1h-1zM18 25h1v1h-1zM24 25h1v1h-1zM10 26h1v1h-1zM18 26h1v1h-1zM19 26h1v1h-1zM20 26h1v1h-1zM23 26h1v1h-1zM25 26h1v1h-1zM28 26h1v1h-1zM8 27h1v1h-1zM18 27h1v1h-1zM20 27h1v1h-1zM22 27h1v1h-1zM9 28h1v1h-1zM18 28h1v1h-1zM17 30h1v1h-1zM17 31h1v1h-1zM11 32h1v1h-1zM17 32h1v1h-1zM11 33h1v1h-1zM16 34h1v1h-1zM17 34h1v1h-1zM11 35h1v1h-1zM16 35h1v1h-1zM18 35h1v1h-1z" fill="#9aa2dc" opacity="0.5" filter="url(#bs)"/><path d="M13 17h1v1h-1zM14 17h1v1h-1zM13 18h1v1h-1zM14 18h1v1h-1zM15 18h1v1h-1zM12 19h1v1h-1zM13 19h1v1h-1zM14 19h1v1h-1zM15 19h1v1h-1zM12 20h1v1h-1zM13 20h1v1h-1zM14 20h1v1h-1zM15 20h1v1h-1zM16 20h1v1h-1zM12 21h1v1h-1zM13 21h1v1h-1zM15 21h1v1h-1zM16 21h1v1h-1zM12 22h1v1h-1zM16 22h1v1h-1zM11 23h1v1h-1zM12 23h1v1h-1zM16 23h1v1h-1zM11 24h1v1h-1zM16 24h1v1h-1zM11 25h1v1h-1zM17 25h1v1h-1zM11 26h1v1h-1zM17 26h1v1h-1zM11 27h1v1h-1zM17 27h1v1h-1zM11 28h1v1h-1zM17 28h1v1h-1zM11 29h1v1h-1zM17 29h1v1h-1zM11 30h1v1h-1zM12 32h1v1h-1zM16 32h1v1h-1zM12 33h1v1h-1zM16 33h1v1h-1zM12 34h1v1h-1zM13 34h1v1h-1zM14 34h1v1h-1zM15 34h1v1h-1zM13 35h1v1h-1zM14 35h1v1h-1zM15 35h1v1h-1z" fill="#4866cc"/><path d="M14 21h1v1h-1zM13 22h1v1h-1zM14 22h1v1h-1zM15 22h1v1h-1zM13 23h1v1h-1zM14 23h1v1h-1zM15 23h1v1h-1zM12 24h1v1h-1zM12 25h1v1h-1zM16 25h1v1h-1zM12 26h1v1h-1zM16 26h1v1h-1zM12 27h1v1h-1zM16 27h1v1h-1zM12 28h1v1h-1zM16 28h1v1h-1zM12 29h1v1h-1zM16 29h1v1h-1zM12 30h1v1h-1zM16 30h1v1h-1zM12 31h1v1h-1zM16 31h1v1h-1zM13 32h1v1h-1zM13 33h1v1h-1zM14 33h1v1h-1zM15 33h1v1h-1z" fill="#3a8cd8"/><path d="M13 24h1v1h-1zM14 24h1v1h-1zM15 24h1v1h-1zM13 25h1v1h-1zM15 25h1v1h-1zM13 26h1v1h-1zM15 26h1v1h-1zM13 31h1v1h-1zM15 31h1v1h-1zM14 32h1v1h-1zM15 32h1v1h-1z" fill="#3cbad2"/><path d="M14 25h1v1h-1zM14 26h1v1h-1zM13 27h1v1h-1zM14 27h1v1h-1zM15 27h1v1h-1zM13 28h1v1h-1zM15 28h1v1h-1zM13 29h1v1h-1zM15 29h1v1h-1zM13 30h1v1h-1zM14 30h1v1h-1zM15 30h1v1h-1zM14 31h1v1h-1z" fill="#82cc50"/><path d="M14 28h1v1h-1zM14 29h1v1h-1z" fill="#dcdc40"/></g>
<g transform="translate(77.3 290.3)" filter="url(#bd)" shape-rendering="crispEdges"><path d="M16 11h1v1h-1zM19 11h1v1h-1zM20 11h1v1h-1zM21 11h1v1h-1zM23 11h1v1h-1zM25 11h1v1h-1zM11 12h1v1h-1zM13 12h1v1h-1zM14 12h1v1h-1zM15 12h1v1h-1zM10 13h1v1h-1zM27 13h1v1h-1zM28 13h1v1h-1zM9 14h1v1h-1zM28 14h1v1h-1zM8 15h1v1h-1zM28 15h1v1h-1zM29 15h1v1h-1zM8 16h1v1h-1zM28 16h1v1h-1zM29 16h1v1h-1zM28 17h1v1h-1zM8 19h1v1h-1zM28 19h1v1h-1zM28 20h1v1h-1zM29 20h1v1h-1zM8 21h1v1h-1zM28 21h1v1h-1zM28 22h1v1h-1zM8 23h1v1h-1zM29 23h1v1h-1zM8 24h1v1h-1zM28 24h1v1h-1zM28 25h1v1h-1zM7 26h1v1h-1zM8 26h1v1h-1zM28 26h1v1h-1zM7 27h1v1h-1zM8 27h1v1h-1zM29 27h1v1h-1zM8 28h1v1h-1zM28 28h1v1h-1zM28 29h1v1h-1zM28 30h1v1h-1zM29 30h1v1h-1zM8 31h1v1h-1zM28 31h1v1h-1zM8 32h1v1h-1zM28 33h1v1h-1zM9 34h1v1h-1zM27 34h1v1h-1zM29 34h1v1h-1zM8 35h1v1h-1zM10 35h1v1h-1zM11 35h1v1h-1zM12 35h1v1h-1zM13 35h1v1h-1zM14 35h1v1h-1zM15 35h1v1h-1zM16 35h1v1h-1zM25 35h1v1h-1zM26 35h1v1h-1zM28 35h1v1h-1z" fill="#9aa2dc" opacity="0.5" filter="url(#bs)"/><path d="M16 12h1v1h-1zM17 12h1v1h-1zM18 12h1v1h-1zM19 12h1v1h-1zM20 12h1v1h-1zM21 12h1v1h-1zM22 12h1v1h-1zM23 12h1v1h-1zM24 12h1v1h-1zM12 13h1v1h-1zM13 13h1v1h-1zM14 13h1v1h-1zM15 13h1v1h-1zM16 13h1v1h-1zM24 13h1v1h-1zM25 13h1v1h-1zM26 13h1v1h-1zM10 14h1v1h-1zM11 14h1v1h-1zM12 14h1v1h-1zM25 14h1v1h-1zM26 14h1v1h-1zM27 14h1v1h-1zM10 15h1v1h-1zM11 15h1v1h-1zM26 15h1v1h-1zM27 15h1v1h-1zM9 16h1v1h-1zM10 16h1v1h-1zM26 16h1v1h-1zM27 16h1v1h-1zM9 17h1v1h-1zM10 17h1v1h-1zM27 17h1v1h-1zM9 18h1v1h-1zM27 18h1v1h-1zM9 19h1v1h-1zM27 19h1v1h-1zM9 20h1v1h-1zM27 20h1v1h-1zM9 21h1v1h-1zM27 21h1v1h-1zM9 22h1v1h-1zM27 22h1v1h-1zM9 23h1v1h-1zM27 23h1v1h-1zM9 24h1v1h-1zM27 24h1v1h-1zM9 25h1v1h-1zM27 25h1v1h-1zM9 26h1v1h-1zM27 26h1v1h-1zM9 27h1v1h-1zM27 27h1v1h-1zM9 28h1v1h-1zM27 28h1v1h-1zM9 29h1v1h-1zM27 29h1v1h-1zM9 30h1v1h-1zM27 30h1v1h-1zM9 31h1v1h-1zM26 31h1v1h-1zM27 31h1v1h-1zM9 32h1v1h-1zM10 32h1v1h-1zM26 32h1v1h-1zM27 32h1v1h-1zM9 33h1v1h-1zM10 33h1v1h-1zM11 33h1v1h-1zM25 33h1v1h-1zM26 33h1v1h-1zM27 33h1v1h-1zM10 34h1v1h-1zM11 34h1v1h-1zM12 34h1v1h-1zM13 34h1v1h-1zM14 34h1v1h-1zM15 34h1v1h-1zM16 34h1v1h-1zM24 34h1v1h-1zM25 34h1v1h-1zM26 34h1v1h-1zM17 35h1v1h-1zM18 35h1v1h-1zM19 35h1v1h-1zM20 35h1v1h-1zM21 35h1v1h-1zM22 35h1v1h-1zM23 35h1v1h-1z" fill="#4866cc"/><path d="M17 13h1v1h-1zM18 13h1v1h-1zM19 13h1v1h-1zM20 13h1v1h-1zM21 13h1v1h-1zM22 13h1v1h-1zM23 13h1v1h-1zM13 14h1v1h-1zM14 14h1v1h-1zM15 14h1v1h-1zM16 14h1v1h-1zM24 14h1v1h-1zM12 15h1v1h-1zM13 15h1v1h-1zM14 15h1v1h-1zM15 15h1v1h-1zM16 15h1v1h-1zM24 15h1v1h-1zM25 15h1v1h-1zM11 16h1v1h-1zM12 16h1v1h-1zM13 16h1v1h-1zM14 16h1v1h-1zM15 16h1v1h-1zM24 16h1v1h-1zM25 16h1v1h-1zM11 17h1v1h-1zM12 17h1v1h-1zM25 17h1v1h-1zM26 17h1v1h-1zM10 18h1v1h-1zM11 18h1v1h-1zM12 18h1v1h-1zM25 18h1v1h-1zM26 18h1v1h-1zM10 19h1v1h-1zM11 19h1v1h-1zM12 19h1v1h-1zM25 19h1v1h-1zM26 19h1v1h-1zM10 20h1v1h-1zM11 20h1v1h-1zM25 20h1v1h-1zM26 20h1v1h-1zM10 21h1v1h-1zM11 21h1v1h-1zM25 21h1v1h-1zM26 21h1v1h-1zM10 22h1v1h-1zM11 22h1v1h-1zM25 22h1v1h-1zM26 22h1v1h-1zM10 23h1v1h-1zM11 23h1v1h-1zM25 23h1v1h-1zM26 23h1v1h-1zM10 24h1v1h-1zM11 24h1v1h-1zM25 24h1v1h-1zM26 24h1v1h-1zM10 25h1v1h-1zM11 25h1v1h-1zM25 25h1v1h-1zM26 25h1v1h-1zM10 26h1v1h-1zM11 26h1v1h-1zM25 26h1v1h-1zM26 26h1v1h-1zM10 27h1v1h-1zM11 27h1v1h-1zM25 27h1v1h-1zM26 27h1v1h-1zM10 28h1v1h-1zM11 28h1v1h-1zM25 28h1v1h-1zM26 28h1v1h-1zM10 29h1v1h-1zM11 29h1v1h-1zM12 29h1v1h-1zM25 29h1v1h-1zM26 29h1v1h-1zM10 30h1v1h-1zM11 30h1v1h-1zM12 30h1v1h-1zM25 30h1v1h-1zM26 30h1v1h-1zM10 31h1v1h-1zM11 31h1v1h-1zM12 31h1v1h-1zM13 31h1v1h-1zM24 31h1v1h-1zM25 31h1v1h-1zM11 32h1v1h-1zM12 32h1v1h-1zM13 32h1v1h-1zM14 32h1v1h-1zM15 32h1v1h-1zM24 32h1v1h-1zM25 32h1v1h-1zM12 33h1v1h-1zM13 33h1v1h-1zM14 33h1v1h-1zM15 33h1v1h-1zM16 33h1v1h-1zM24 33h1v1h-1zM17 34h1v1h-1zM18 34h1v1h-1zM19 34h1v1h-1zM20 34h1v1h-1zM21 34h1v1h-1zM22 34h1v1h-1zM23 34h1v1h-1z" fill="#3a8cd8"/><path d="M17 14h1v1h-1zM18 14h1v1h-1zM19 14h1v1h-1zM20 14h1v1h-1zM21 14h1v1h-1zM22 14h1v1h-1zM23 14h1v1h-1zM17 15h1v1h-1zM18 15h1v1h-1zM19 15h1v1h-1zM20 15h1v1h-1zM21 15h1v1h-1zM22 15h1v1h-1zM23 15h1v1h-1zM16 16h1v1h-1zM17 16h1v1h-1zM23 16h1v1h-1zM13 17h1v1h-1zM14 17h1v1h-1zM15 17h1v1h-1zM16 17h1v1h-1zM23 17h1v1h-1zM24 17h1v1h-1zM13 18h1v1h-1zM14 18h1v1h-1zM15 18h1v1h-1zM16 18h1v1h-1zM24 18h1v1h-1zM13 19h1v1h-1zM14 19h1v1h-1zM15 19h1v1h-1zM16 19h1v1h-1zM24 19h1v1h-1zM12 20h1v1h-1zM13 20h1v1h-1zM14 20h1v1h-1zM15 20h1v1h-1zM16 20h1v1h-1zM24 20h1v1h-1zM12 21h1v1h-1zM13 21h1v1h-1zM14 21h1v1h-1zM15 21h1v1h-1zM16 21h1v1h-1zM24 21h1v1h-1zM12 22h1v1h-1zM13 22h1v1h-1zM14 22h1v1h-1zM15 22h1v1h-1zM16 22h1v1h-1zM24 22h1v1h-1zM12 23h1v1h-1zM13 23h1v1h-1zM14 23h1v1h-1zM15 23h1v1h-1zM16 23h1v1h-1zM24 23h1v1h-1zM12 24h1v1h-1zM13 24h1v1h-1zM14 24h1v1h-1zM15 24h1v1h-1zM16 24h1v1h-1zM24 24h1v1h-1zM12 25h1v1h-1zM13 25h1v1h-1zM14 25h1v1h-1zM15 25h1v1h-1zM24 25h1v1h-1zM12 26h1v1h-1zM13 26h1v1h-1zM14 26h1v1h-1zM15 26h1v1h-1zM24 26h1v1h-1zM12 27h1v1h-1zM13 27h1v1h-1zM14 27h1v1h-1zM15 27h1v1h-1zM24 27h1v1h-1zM12 28h1v1h-1zM13 28h1v1h-1zM14 28h1v1h-1zM15 28h1v1h-1zM24 28h1v1h-1zM13 29h1v1h-1zM14 29h1v1h-1zM15 29h1v1h-1zM16 29h1v1h-1zM24 29h1v1h-1zM13 30h1v1h-1zM14 30h1v1h-1zM15 30h1v1h-1zM16 30h1v1h-1zM23 30h1v1h-1zM24 30h1v1h-1zM14 31h1v1h-1zM15 31h1v1h-1zM16 31h1v1h-1zM23 31h1v1h-1zM16 32h1v1h-1zM17 32h1v1h-1zM21 32h1v1h-1zM22 32h1v1h-1zM23 32h1v1h-1zM17 33h1v1h-1zM18 33h1v1h-1zM19 33h1v1h-1zM20 33h1v1h-1zM21 33h1v1h-1zM22 33h1v1h-1zM23 33h1v1h-1z" fill="#3cbad2"/><path d="M18 16h1v1h-1zM19 16h1v1h-1zM20 16h1v1h-1zM21 16h1v1h-1zM22 16h1v1h-1zM17 17h1v1h-1zM18 17h1v1h-1zM19 17h1v1h-1zM20 17h1v1h-1zM21 17h1v1h-1zM22 17h1v1h-1zM17 18h1v1h-1zM18 18h1v1h-1zM19 18h1v1h-1zM20 18h1v1h-1zM21 18h1v1h-1zM22 18h1v1h-1zM23 18h1v1h-1zM17 19h1v1h-1zM18 19h1v1h-1zM19 19h1v1h-1zM20 19h1v1h-1zM21 19h1v1h-1zM22 19h1v1h-1zM23 19h1v1h-1zM17 20h1v1h-1zM18 20h1v1h-1zM19 20h1v1h-1zM20 20h1v1h-1zM21 20h1v1h-1zM22 20h1v1h-1zM23 20h1v1h-1zM17 21h1v1h-1zM18 21h1v1h-1zM19 21h1v1h-1zM20 21h1v1h-1zM21 21h1v1h-1zM22 21h1v1h-1zM23 21h1v1h-1zM17 22h1v1h-1zM18 22h1v1h-1zM19 22h1v1h-1zM20 22h1v1h-1zM21 22h1v1h-1zM22 22h1v1h-1zM23 22h1v1h-1zM17 23h1v1h-1zM18 23h1v1h-1zM19 23h1v1h-1zM20 23h1v1h-1zM21 23h1v1h-1zM22 23h1v1h-1zM23 23h1v1h-1zM17 24h1v1h-1zM20 24h1v1h-1zM21 24h1v1h-1zM22 24h1v1h-1zM23 24h1v1h-1zM16 25h1v1h-1zM21 25h1v1h-1zM22 25h1v1h-1zM23 25h1v1h-1zM16 26h1v1h-1zM21 26h1v1h-1zM22 26h1v1h-1zM23 26h1v1h-1zM16 27h1v1h-1zM21 27h1v1h-1zM22 27h1v1h-1zM23 27h1v1h-1zM16 28h1v1h-1zM21 28h1v1h-1zM22 28h1v1h-1zM23 28h1v1h-1zM17 29h1v1h-1zM20 29h1v1h-1zM21 29h1v1h-1zM22 29h1v1h-1zM23 29h1v1h-1zM17 30h1v1h-1zM18 30h1v1h-1zM19 30h1v1h-1zM20 30h1v1h-1zM21 30h1v1h-1zM22 30h1v1h-1zM17 31h1v1h-1zM18 31h1v1h-1zM19 31h1v1h-1zM20 31h1v1h-1zM21 31h1v1h-1zM22 31h1v1h-1zM18 32h1v1h-1zM19 32h1v1h-1zM20 32h1v1h-1z" fill="#82cc50"/><path d="M18 24h1v1h-1zM19 24h1v1h-1zM17 25h1v1h-1zM18 25h1v1h-1zM19 25h1v1h-1zM20 25h1v1h-1zM17 26h1v1h-1zM18 26h1v1h-1zM19 26h1v1h-1zM20 26h1v1h-1zM17 27h1v1h-1zM18 27h1v1h-1zM19 27h1v1h-1zM20 27h1v1h-1zM17 28h1v1h-1zM18 28h1v1h-1zM19 28h1v1h-1zM20 28h1v1h-1zM18 29h1v1h-1zM19 29h1v1h-1z" fill="#dcdc40"/></g>
<g transform="translate(118.5 290.3)" filter="url(#bd)" shape-rendering="crispEdges"><path d="M14 2h1v1h-1zM19 3h1v1h-1zM12 4h1v1h-1zM13 4h1v1h-1zM14 5h1v1h-1zM18 5h1v1h-1zM24 5h1v1h-1zM9 6h1v1h-1zM13 6h1v1h-1zM14 6h1v1h-1zM15 6h1v1h-1zM16 6h1v1h-1zM14 7h1v1h-1zM21 7h1v1h-1zM9 8h1v1h-1zM11 8h1v1h-1zM16 8h1v1h-1zM18 8h1v1h-1zM21 8h1v1h-1zM14 9h1v1h-1zM16 9h1v1h-1zM18 9h1v1h-1zM19 9h1v1h-1zM21 9h1v1h-1zM22 9h1v1h-1zM15 10h1v1h-1zM17 10h1v1h-1zM19 10h1v1h-1zM22 10h1v1h-1zM26 10h1v1h-1zM10 11h1v1h-1zM11 11h1v1h-1zM12 11h1v1h-1zM13 11h1v1h-1zM14 11h1v1h-1zM16 11h1v1h-1zM17 11h1v1h-1zM20 11h1v1h-1zM28 11h1v1h-1zM12 12h1v1h-1zM13 12h1v1h-1zM14 12h1v1h-1zM15 12h1v1h-1zM16 12h1v1h-1zM18 12h1v1h-1zM19 12h1v1h-1zM20 12h1v1h-1zM21 12h1v1h-1zM24 12h1v1h-1zM9 13h1v1h-1zM11 13h1v1h-1zM12 13h1v1h-1zM13 13h1v1h-1zM14 13h1v1h-1zM16 13h1v1h-1zM17 13h1v1h-1zM19 13h1v1h-1zM20 13h1v1h-1zM21 13h1v1h-1zM22 13h1v1h-1zM23 13h1v1h-1zM25 13h1v1h-1zM12 14h1v1h-1zM18 14h1v1h-1zM19 14h1v1h-1zM20 14h1v1h-1zM21 14h1v1h-1zM22 14h1v1h-1zM23 14h1v1h-1zM24 14h1v1h-1zM25 14h1v1h-1zM27 14h1v1h-1zM7 15h1v1h-1zM8 15h1v1h-1zM9 15h1v1h-1zM10 15h1v1h-1zM11 15h1v1h-1zM20 15h1v1h-1zM23 15h1v1h-1zM28 15h1v1h-1zM30 15h1v1h-1zM11 16h1v1h-1zM23 16h1v1h-1zM24 16h1v1h-1zM25 16h1v1h-1zM31 16h1v1h-1zM10 17h1v1h-1zM11 17h1v1h-1zM24 17h1v1h-1zM25 17h1v1h-1zM26 17h1v1h-1zM6 18h1v1h-1zM7 18h1v1h-1zM10 18h1v1h-1zM24 18h1v1h-1zM25 18h1v1h-1zM27 18h1v1h-1zM28 18h1v1h-1zM7 19h1v1h-1zM8 19h1v1h-1zM9 19h1v1h-1zM10 19h1v1h-1zM24 19h1v1h-1zM25 19h1v1h-1zM26 19h1v1h-1zM27 19h1v1h-1zM9 20h1v1h-1zM10 20h1v1h-1zM25 20h1v1h-1zM27 20h1v1h-1zM28 20h1v1h-1zM29 20h1v1h-1zM9 21h1v1h-1zM10 21h1v1h-1zM25 21h1v1h-1zM26 21h1v1h-1zM8 22h1v1h-1zM9 22h1v1h-1zM26 22h1v1h-1zM7 23h1v1h-1zM9 23h1v1h-1zM25 23h1v1h-1zM26 23h1v1h-1zM29 23h1v1h-1zM25 24h1v1h-1zM26 24h1v1h-1zM27 24h1v1h-1zM28 24h1v1h-1zM8 25h1v1h-1zM9 25h1v1h-1zM26 25h1v1h-1zM27 25h1v1h-1zM25 26h1v1h-1zM26 26h1v1h-1zM8 27h1v1h-1zM24 27h1v1h-1zM25 27h1v1h-1zM26 27h1v1h-1zM29 27h1v1h-1zM9 28h1v1h-1zM24 28h1v1h-1zM26 28h1v1h-1zM8 29h1v1h-1zM23 29h1v1h-1zM24 29h1v1h-1zM25 29h1v1h-1zM27 29h1v1h-1zM28 29h1v1h-1zM8 30h1v1h-1zM9 30h1v1h-1zM23 30h1v1h-1zM24 30h1v1h-1zM25 30h1v1h-1zM26 30h1v1h-1zM8 31h1v1h-1zM9 31h1v1h-1zM10 31h1v1h-1zM22 31h1v1h-1zM23 31h1v1h-1zM27 31h1v1h-1zM9 32h1v1h-1zM10 32h1v1h-1zM20 32h1v1h-1zM21 32h1v1h-1zM22 32h1v1h-1zM23 32h1v1h-1zM10 33h1v1h-1zM19 33h1v1h-1zM20 33h1v1h-1zM21 33h1v1h-1zM22 33h1v1h-1zM26 33h1v1h-1zM27 33h1v1h-1zM8 34h1v1h-1zM9 34h1v1h-1zM19 34h1v1h-1zM20 34h1v1h-1zM21 34h1v1h-1zM22 34h1v1h-1zM23 34h1v1h-1zM10 35h1v1h-1zM11 35h1v1h-1zM18 35h1v1h-1zM19 35h1v1h-1zM24 35h1v1h-1z" fill="#9aa2dc" opacity="0.5" filter="url(#bs)"/><path d="M15 13h1v1h-1zM13 14h1v1h-1zM14 14h1v1h-1zM15 14h1v1h-1zM16 14h1v1h-1zM17 14h1v1h-1zM12 15h1v1h-1zM13 15h1v1h-1zM14 15h1v1h-1zM15 15h1v1h-1zM16 15h1v1h-1zM17 15h1v1h-1zM18 15h1v1h-1zM19 15h1v1h-1zM12 16h1v1h-1zM13 16h1v1h-1zM14 16h1v1h-1zM15 16h1v1h-1zM16 16h1v1h-1zM17 16h1v1h-1zM18 16h1v1h-1zM19 16h1v1h-1zM20 16h1v1h-1zM21 16h1v1h-1zM22 16h1v1h-1zM12 17h1v1h-1zM13 17h1v1h-1zM14 17h1v1h-1zM15 17h1v1h-1zM16 17h1v1h-1zM17 17h1v1h-1zM18 17h1v1h-1zM19 17h1v1h-1zM20 17h1v1h-1zM21 17h1v1h-1zM22 17h1v1h-1zM23 17h1v1h-1zM11 18h1v1h-1zM12 18h1v1h-1zM13 18h1v1h-1zM16 18h1v1h-1zM17 18h1v1h-1zM18 18h1v1h-1zM19 18h1v1h-1zM20 18h1v1h-1zM21 18h1v1h-1zM22 18h1v1h-1zM23 18h1v1h-1zM11 19h1v1h-1zM12 19h1v1h-1zM17 19h1v1h-1zM18 19h1v1h-1zM19 19h1v1h-1zM20 19h1v1h-1zM21 19h1v1h-1zM22 19h1v1h-1zM23 19h1v1h-1zM11 20h1v1h-1zM12 20h1v1h-1zM18 20h1v1h-1zM19 20h1v1h-1zM20 20h1v1h-1zM21 20h1v1h-1zM22 20h1v1h-1zM23 20h1v1h-1zM24 20h1v1h-1zM11 21h1v1h-1zM12 21h1v1h-1zM18 21h1v1h-1zM19 21h1v1h-1zM20 21h1v1h-1zM21 21h1v1h-1zM22 21h1v1h-1zM23 21h1v1h-1zM24 21h1v1h-1zM10 22h1v1h-1zM11 22h1v1h-1zM19 22h1v1h-1zM20 22h1v1h-1zM21 22h1v1h-1zM22 22h1v1h-1zM23 22h1v1h-1zM24 22h1v1h-1zM10 23h1v1h-1zM11 23h1v1h-1zM19 23h1v1h-1zM20 23h1v1h-1zM21 23h1v1h-1zM22 23h1v1h-1zM23 23h1v1h-1zM24 23h1v1h-1zM10 24h1v1h-1zM11 24h1v1h-1zM19 24h1v1h-1zM20 24h1v1h-1zM21 24h1v1h-1zM22 24h1v1h-1zM23 24h1v1h-1zM24 24h1v1h-1zM10 25h1v1h-1zM11 25h1v1h-1zM19 25h1v1h-1zM20 25h1v1h-1zM21 25h1v1h-1zM22 25h1v1h-1zM23 25h1v1h-1zM24 25h1v1h-1zM10 26h1v1h-1zM19 26h1v1h-1zM20 26h1v1h-1zM21 26h1v1h-1zM22 26h1v1h-1zM23 26h1v1h-1zM10 27h1v1h-1zM19 27h1v1h-1zM20 27h1v1h-1zM21 27h1v1h-1zM22 27h1v1h-1zM23 27h1v1h-1zM10 28h1v1h-1zM19 28h1v1h-1zM20 28h1v1h-1zM21 28h1v1h-1zM22 28h1v1h-1zM23 28h1v1h-1zM10 29h1v1h-1zM19 29h1v1h-1zM20 29h1v1h-1zM21 29h1v1h-1zM22 29h1v1h-1zM10 30h1v1h-1zM19 30h1v1h-1zM20 30h1v1h-1zM21 30h1v1h-1zM22 30h1v1h-1zM11 31h1v1h-1zM18 31h1v1h-1zM19 31h1v1h-1zM20 31h1v1h-1zM21 31h1v1h-1zM11 32h1v1h-1zM18 32h1v1h-1zM19 32h1v1h-1zM11 33h1v1h-1zM18 33h1v1h-1zM12 34h1v1h-1zM17 34h1v1h-1zM18 34h1v1h-1zM12 35h1v1h-1zM13 35h1v1h-1zM14 35h1v1h-1zM15 35h1v1h-1zM16 35h1v1h-1zM17 35h1v1h-1z" fill="#4866cc"/><path d="M14 18h1v1h-1zM15 18h1v1h-1zM13 19h1v1h-1zM14 19h1v1h-1zM15 19h1v1h-1zM16 19h1v1h-1zM13 20h1v1h-1zM14 20h1v1h-1zM15 20h1v1h-1zM16 20h1v1h-1zM17 20h1v1h-1zM13 21h1v1h-1zM14 21h1v1h-1zM15 21h1v1h-1zM16 21h1v1h-1zM17 21h1v1h-1zM12 22h1v1h-1zM13 22h1v1h-1zM14 22h1v1h-1zM16 22h1v1h-1zM17 22h1v1h-1zM18 22h1v1h-1zM12 23h1v1h-1zM13 23h1v1h-1zM17 23h1v1h-1zM18 23h1v1h-1zM12 24h1v1h-1zM17 24h1v1h-1zM18 24h1v1h-1zM12 25h1v1h-1zM18 25h1v1h-1zM11 26h1v1h-1zM18 26h1v1h-1zM11 27h1v1h-1zM18 27h1v1h-1zM11 28h1v1h-1zM18 28h1v1h-1zM11 29h1v1h-1zM18 29h1v1h-1zM11 30h1v1h-1zM18 30h1v1h-1zM12 32h1v1h-1zM17 32h1v1h-1zM12 33h1v1h-1zM13 33h1v1h-1zM16 33h1v1h-1zM17 33h1v1h-1zM13 34h1v1h-1zM14 34h1v1h-1zM15 34h1v1h-1zM16 34h1v1h-1z" fill="#3a8cd8"/><path d="M15 22h1v1h-1zM14 23h1v1h-1zM15 23h1v1h-1zM16 23h1v1h-1zM13 24h1v1h-1zM14 24h1v1h-1zM15 24h1v1h-1zM16 24h1v1h-1zM13 25h1v1h-1zM16 25h1v1h-1zM17 25h1v1h-1zM12 26h1v1h-1zM17 26h1v1h-1zM12 27h1v1h-1zM17 27h1v1h-1zM12 28h1v1h-1zM17 28h1v1h-1zM12 29h1v1h-1zM17 29h1v1h-1zM12 30h1v1h-1zM17 30h1v1h-1zM12 31h1v1h-1zM17 31h1v1h-1zM13 32h1v1h-1zM16 32h1v1h-1zM14 33h1v1h-1zM15 33h1v1h-1z" fill="#3cbad2"/><path d="M14 25h1v1h-1zM15 25h1v1h-1zM13 26h1v1h-1zM14 26h1v1h-1zM15 26h1v1h-1zM16 26h1v1h-1zM13 27h1v1h-1zM16 27h1v1h-1zM13 28h1v1h-1zM16 28h1v1h-1zM13 29h1v1h-1zM16 29h1v1h-1zM13 30h1v1h-1zM16 30h1v1h-1zM13 31h1v1h-1zM14 31h1v1h-1zM15 31h1v1h-1zM16 31h1v1h-1zM14 32h1v1h-1zM15 32h1v1h-1z" fill="#82cc50"/><path d="M14 27h1v1h-1zM15 27h1v1h-1zM14 28h1v1h-1zM15 28h1v1h-1zM14 29h1v1h-1zM15 29h1v1h-1zM14 30h1v1h-1zM15 30h1v1h-1z" fill="#dcdc40"/></g>
<g transform="translate(160.3 290.3)" filter="url(#bd)" shape-rendering="crispEdges"><path d="M11 7h1v1h-1zM13 9h1v1h-1zM15 9h1v1h-1zM11 10h1v1h-1zM10 11h1v1h-1zM11 11h1v1h-1zM12 11h1v1h-1zM15 11h1v1h-1zM11 12h1v1h-1zM13 12h1v1h-1zM10 13h1v1h-1zM11 13h1v1h-1zM12 13h1v1h-1zM13 13h1v1h-1zM14 13h1v1h-1zM15 13h1v1h-1zM10 14h1v1h-1zM11 14h1v1h-1zM13 14h1v1h-1zM14 14h1v1h-1zM10 15h1v1h-1zM11 15h1v1h-1zM12 15h1v1h-1zM13 15h1v1h-1zM14 15h1v1h-1zM15 15h1v1h-1zM23 15h1v1h-1zM26 15h1v1h-1zM9 16h1v1h-1zM10 16h1v1h-1zM11 16h1v1h-1zM12 16h1v1h-1zM13 16h1v1h-1zM15 16h1v1h-1zM23 16h1v1h-1zM26 16h1v1h-1zM10 17h1v1h-1zM11 17h1v1h-1zM14 17h1v1h-1zM15 17h1v1h-1zM16 17h1v1h-1zM17 17h1v1h-1zM24 17h1v1h-1zM10 18h1v1h-1zM15 18h1v1h-1zM16 18h1v1h-1zM24 18h1v1h-1zM9 19h1v1h-1zM10 19h1v1h-1zM15 19h1v1h-1zM18 19h1v1h-1zM26 19h1v1h-1zM8 20h1v1h-1zM9 20h1v1h-1zM10 20h1v1h-1zM15 20h1v1h-1zM16 20h1v1h-1zM17 20h1v1h-1zM18 20h1v1h-1zM20 20h1v1h-1zM22 20h1v1h-1zM25 20h1v1h-1zM26 20h1v1h-1zM9 21h1v1h-1zM15 21h1v1h-1zM17 21h1v1h-1zM19 21h1v1h-1zM21 21h1v1h-1zM24 21h1v1h-1zM16 22h1v1h-1zM17 22h1v1h-1zM24 22h1v1h-1zM9 23h1v1h-1zM16 23h1v1h-1zM17 23h1v1h-1zM18 23h1v1h-1zM21 23h1v1h-1zM26 23h1v1h-1zM27 23h1v1h-1zM8 24h1v1h-1zM9 24h1v1h-1zM20 24h1v1h-1zM21 24h1v1h-1zM23 24h1v1h-1zM25 24h1v1h-1zM16 25h1v1h-1zM24 25h1v1h-1zM26 25h1v1h-1zM9 26h1v1h-1zM16 26h1v1h-1zM17 26h1v1h-1zM18 26h1v1h-1zM20 26h1v1h-1zM22 26h1v1h-1zM25 26h1v1h-1zM9 27h1v1h-1zM16 27h1v1h-1zM19 27h1v1h-1zM9 28h1v1h-1zM16 28h1v1h-1zM17 28h1v1h-1zM9 29h1v1h-1zM16 29h1v1h-1zM19 29h1v1h-1zM24 29h1v1h-1zM26 29h1v1h-1zM8 30h1v1h-1zM9 30h1v1h-1zM18 30h1v1h-1zM23 30h1v1h-1zM9 31h1v1h-1zM16 31h1v1h-1zM17 31h1v1h-1zM24 31h1v1h-1zM9 32h1v1h-1zM16 32h1v1h-1zM24 32h1v1h-1zM8 33h1v1h-1zM9 33h1v1h-1zM10 33h1v1h-1zM16 33h1v1h-1zM10 34h1v1h-1zM15 34h1v1h-1zM16 34h1v1h-1zM18 34h1v1h-1zM9 35h1v1h-1zM10 35h1v1h-1zM15 35h1v1h-1zM16 35h1v1h-1z" fill="#9aa2dc" opacity="0.5" filter="url(#bs)"/><path d="M12 21h1v1h-1zM13 21h1v1h-1zM12 22h1v1h-1zM13 22h1v1h-1zM11 23h1v1h-1zM12 23h1v1h-1zM13 23h1v1h-1zM14 23h1v1h-1zM11 24h1v1h-1zM14 24h1v1h-1zM11 25h1v1h-1zM15 27h1v1h-1zM15 28h1v1h-1zM15 29h1v1h-1zM15 30h1v1h-1zM11 31h1v1h-1zM11 32h1v1h-1zM14 33h1v1h-1zM12 34h1v1h-1zM13 34h1v1h-1z" fill="#1e2a86"/><path d="M12 17h1v1h-1zM13 17h1v1h-1zM11 18h1v1h-1zM12 18h1v1h-1zM13 18h1v1h-1zM14 18h1v1h-1zM11 19h1v1h-1zM12 19h1v1h-1zM13 19h1v1h-1zM14 19h1v1h-1zM11 20h1v1h-1zM12 20h1v1h-1zM13 20h1v1h-1zM14 20h1v1h-1zM10 21h1v1h-1zM11 21h1v1h-1zM14 21h1v1h-1zM10 22h1v1h-1zM11 22h1v1h-1zM14 22h1v1h-1zM15 22h1v1h-1zM10 23h1v1h-1zM15 23h1v1h-1zM10 24h1v1h-1zM15 24h1v1h-1zM10 25h1v1h-1zM15 25h1v1h-1zM10 26h1v1h-1zM15 26h1v1h-1zM10 27h1v1h-1zM10 28h1v1h-1zM10 29h1v1h-1zM10 30h1v1h-1zM10 31h1v1h-1zM15 31h1v1h-1zM10 32h1v1h-1zM15 32h1v1h-1zM11 33h1v1h-1zM15 33h1v1h-1zM11 34h1v1h-1zM14 34h1v1h-1zM11 35h1v1h-1zM12 35h1v1h-1zM13 35h1v1h-1zM14 35h1v1h-1z" fill="#6472cc"/><path d="M12 21h1v1h-1zM13 21h1v1h-1zM12 22h1v1h-1zM13 22h1v1h-1zM11 23h1v1h-1zM12 23h1v1h-1zM13 23h1v1h-1zM14 23h1v1h-1zM11 24h1v1h-1zM14 24h1v1h-1zM11 25h1v1h-1zM15 27h1v1h-1zM15 28h1v1h-1zM15 29h1v1h-1zM15 30h1v1h-1zM11 31h1v1h-1zM11 32h1v1h-1zM14 33h1v1h-1zM12 34h1v1h-1zM13 34h1v1h-1z" fill="#1e2a86"/><path d="M12 24h1v1h-1zM13 24h1v1h-1zM12 25h1v1h-1zM13 25h1v1h-1zM14 25h1v1h-1zM11 26h1v1h-1zM14 26h1v1h-1zM11 27h1v1h-1zM14 27h1v1h-1zM11 28h1v1h-1zM11 29h1v1h-1zM11 30h1v1h-1zM14 30h1v1h-1zM14 31h1v1h-1zM12 32h1v1h-1zM13 32h1v1h-1zM14 32h1v1h-1zM12 33h1v1h-1zM13 33h1v1h-1z" fill="#3cbad2"/><path d="M12 26h1v1h-1zM13 26h1v1h-1zM12 27h1v1h-1zM13 27h1v1h-1zM12 28h1v1h-1zM13 28h1v1h-1zM14 28h1v1h-1zM12 29h1v1h-1zM13 29h1v1h-1zM14 29h1v1h-1zM12 30h1v1h-1zM13 30h1v1h-1zM12 31h1v1h-1zM13 31h1v1h-1z" fill="#82cc50"/></g>
<line x1="37.0" y1="57.3" x2="72.9" y2="57.3" stroke="#f08080" stroke-width="0.75" />
<line x1="55.25" y1="34.0" x2="55.25" y2="70.4" stroke="#c87070" stroke-width="0.75" />
<text x="38.4" y="39.4" font-size="4.6" font-weight="normal" text-anchor="start" fill="#111" stroke="#111" stroke-width="0.14" >1.5</text>
<text x="72.30000000000001" y="39.4" font-size="4.6" font-weight="normal" text-anchor="end" fill="#111" stroke="#111" stroke-width="0.14" >0.1</text>
<text x="72.30000000000001" y="69.7" font-size="4.6" font-weight="normal" text-anchor="end" fill="#111" stroke="#111" stroke-width="0.14" >0.9</text>
<line x1="37.0" y1="34.0" x2="72.9" y2="34.0" stroke="#8a8a8a" stroke-width="0.9" />
<line x1="72.9" y1="34.0" x2="72.9" y2="70.4" stroke="#b0b0b0" stroke-width="0.9" />
<line x1="37.0" y1="33.55" x2="37.0" y2="70.85000000000001" stroke="#555" stroke-width="0.9" />
<line x1="37.0" y1="70.4" x2="72.9" y2="70.4" stroke="#555" stroke-width="0.9" />
<line x1="35.8" y1="64.4" x2="37.0" y2="64.4" stroke="#333" stroke-width="0.8" />
<line x1="77.4" y1="57.3" x2="113.30000000000001" y2="57.3" stroke="#f08080" stroke-width="0.75" />
<line x1="95.4" y1="34.0" x2="95.4" y2="70.4" stroke="#c87070" stroke-width="0.75" />
<text x="78.80000000000001" y="39.4" font-size="4.6" font-weight="normal" text-anchor="start" fill="#111" stroke="#111" stroke-width="0.14" >1.9</text>
<text x="112.70000000000002" y="39.4" font-size="4.6" font-weight="normal" text-anchor="end" fill="#111" stroke="#111" stroke-width="0.14" >0.1</text>
<text x="112.70000000000002" y="69.7" font-size="4.6" font-weight="normal" text-anchor="end" fill="#111" stroke="#111" stroke-width="0.14" >1.5</text>
<line x1="77.4" y1="34.0" x2="113.30000000000001" y2="34.0" stroke="#8a8a8a" stroke-width="0.9" />
<line x1="113.30000000000001" y1="34.0" x2="113.30000000000001" y2="70.4" stroke="#b0b0b0" stroke-width="0.9" />
<line x1="77.4" y1="33.55" x2="77.4" y2="70.85000000000001" stroke="#555" stroke-width="0.9" />
<line x1="77.4" y1="70.4" x2="113.30000000000001" y2="70.4" stroke="#555" stroke-width="0.9" />
<line x1="76.2" y1="64.4" x2="77.4" y2="64.4" stroke="#333" stroke-width="0.8" />
<line x1="118.5" y1="57.3" x2="154.4" y2="57.3" stroke="#f08080" stroke-width="0.75" />
<line x1="136.7" y1="34.0" x2="136.7" y2="70.4" stroke="#c87070" stroke-width="0.75" />
<text x="119.9" y="39.4" font-size="4.6" font-weight="normal" text-anchor="start" fill="#111" stroke="#111" stroke-width="0.14" >2.1</text>
<text x="153.8" y="39.4" font-size="4.6" font-weight="normal" text-anchor="end" fill="#111" stroke="#111" stroke-width="0.14" >0.0</text>
<text x="153.8" y="69.7" font-size="4.6" font-weight="normal" text-anchor="end" fill="#111" stroke="#111" stroke-width="0.14" >2.3</text>
<line x1="118.5" y1="34.0" x2="154.4" y2="34.0" stroke="#8a8a8a" stroke-width="0.9" />
<line x1="154.4" y1="34.0" x2="154.4" y2="70.4" stroke="#b0b0b0" stroke-width="0.9" />
<line x1="118.5" y1="33.55" x2="118.5" y2="70.85000000000001" stroke="#555" stroke-width="0.9" />
<line x1="118.5" y1="70.4" x2="154.4" y2="70.4" stroke="#555" stroke-width="0.9" />
<line x1="117.3" y1="64.4" x2="118.5" y2="64.4" stroke="#333" stroke-width="0.8" />
<line x1="160.6" y1="57.3" x2="196.5" y2="57.3" stroke="#f08080" stroke-width="0.75" />
<line x1="178.7" y1="34.0" x2="178.7" y2="70.4" stroke="#c87070" stroke-width="0.75" />
<text x="162.0" y="39.4" font-size="4.6" font-weight="normal" text-anchor="start" fill="#111" stroke="#111" stroke-width="0.14" >1.5</text>
<text x="195.9" y="39.4" font-size="4.6" font-weight="normal" text-anchor="end" fill="#111" stroke="#111" stroke-width="0.14" >0.1</text>
<text x="195.9" y="69.7" font-size="4.6" font-weight="normal" text-anchor="end" fill="#111" stroke="#111" stroke-width="0.14" >0.7</text>
<line x1="160.6" y1="34.0" x2="196.5" y2="34.0" stroke="#8a8a8a" stroke-width="0.9" />
<line x1="196.5" y1="34.0" x2="196.5" y2="70.4" stroke="#b0b0b0" stroke-width="0.9" />
<line x1="160.6" y1="33.55" x2="160.6" y2="70.85000000000001" stroke="#555" stroke-width="0.9" />
<line x1="160.6" y1="70.4" x2="196.5" y2="70.4" stroke="#555" stroke-width="0.9" />
<line x1="159.4" y1="64.4" x2="160.6" y2="64.4" stroke="#333" stroke-width="0.8" />
<line x1="37.0" y1="99.9" x2="72.9" y2="99.9" stroke="#f08080" stroke-width="0.75" />
<line x1="55.25" y1="76.5" x2="55.25" y2="112.7" stroke="#c87070" stroke-width="0.75" />
<text x="38.4" y="81.9" font-size="4.6" font-weight="normal" text-anchor="start" fill="#111" stroke="#111" stroke-width="0.14" >4.0</text>
<text x="72.30000000000001" y="81.9" font-size="4.6" font-weight="normal" text-anchor="end" fill="#111" stroke="#111" stroke-width="0.14" >1.0</text>
<text x="72.30000000000001" y="112.0" font-size="4.6" font-weight="normal" text-anchor="end" fill="#111" stroke="#111" stroke-width="0.14" >7.9</text>
<line x1="37.0" y1="76.5" x2="72.9" y2="76.5" stroke="#8a8a8a" stroke-width="0.9" />
<line x1="72.9" y1="76.5" x2="72.9" y2="112.7" stroke="#b0b0b0" stroke-width="0.9" />
<line x1="37.0" y1="76.05" x2="37.0" y2="113.15" stroke="#555" stroke-width="0.9" />
<line x1="37.0" y1="112.7" x2="72.9" y2="112.7" stroke="#555" stroke-width="0.9" />
<line x1="35.8" y1="106.7" x2="37.0" y2="106.7" stroke="#333" stroke-width="0.8" />
<line x1="77.4" y1="99.9" x2="113.30000000000001" y2="99.9" stroke="#f08080" stroke-width="0.75" />
<line x1="95.4" y1="76.5" x2="95.4" y2="112.7" stroke="#c87070" stroke-width="0.75" />
<text x="78.80000000000001" y="81.9" font-size="4.6" font-weight="normal" text-anchor="start" fill="#111" stroke="#111" stroke-width="0.14" >7.7</text>
<text x="112.70000000000002" y="81.9" font-size="4.6" font-weight="normal" text-anchor="end" fill="#111" stroke="#111" stroke-width="0.14" >5.5</text>
<text x="112.70000000000002" y="112.0" font-size="4.6" font-weight="normal" text-anchor="end" fill="#111" stroke="#111" stroke-width="0.14" >17.8</text>
<line x1="77.4" y1="76.5" x2="113.30000000000001" y2="76.5" stroke="#8a8a8a" stroke-width="0.9" />
<line x1="113.30000000000001" y1="76.5" x2="113.30000000000001" y2="112.7" stroke="#b0b0b0" stroke-width="0.9" />
<line x1="77.4" y1="76.05" x2="77.4" y2="113.15" stroke="#555" stroke-width="0.9" />
<line x1="77.4" y1="112.7" x2="113.30000000000001" y2="112.7" stroke="#555" stroke-width="0.9" />
<line x1="76.2" y1="106.7" x2="77.4" y2="106.7" stroke="#333" stroke-width="0.8" />
<line x1="118.5" y1="99.9" x2="154.4" y2="99.9" stroke="#f08080" stroke-width="0.75" />
<line x1="136.7" y1="76.5" x2="136.7" y2="112.7" stroke="#c87070" stroke-width="0.75" />
<text x="119.9" y="81.9" font-size="4.6" font-weight="normal" text-anchor="start" fill="#111" stroke="#111" stroke-width="0.14" >6.5</text>
<text x="153.8" y="81.9" font-size="4.6" font-weight="normal" text-anchor="end" fill="#111" stroke="#111" stroke-width="0.14" >3.1</text>
<text x="153.8" y="112.0" font-size="4.6" font-weight="normal" text-anchor="end" fill="#111" stroke="#111" stroke-width="0.14" >10.6</text>
<line x1="118.5" y1="76.5" x2="154.4" y2="76.5" stroke="#8a8a8a" stroke-width="0.9" />
<line x1="154.4" y1="76.5" x2="154.4" y2="112.7" stroke="#b0b0b0" stroke-width="0.9" />
<line x1="118.5" y1="76.05" x2="118.5" y2="113.15" stroke="#555" stroke-width="0.9" />
<line x1="118.5" y1="112.7" x2="154.4" y2="112.7" stroke="#555" stroke-width="0.9" />
<line x1="117.3" y1="106.7" x2="118.5" y2="106.7" stroke="#333" stroke-width="0.8" />
<line x1="160.6" y1="99.9" x2="196.5" y2="99.9" stroke="#f08080" stroke-width="0.75" />
<line x1="178.7" y1="76.5" x2="178.7" y2="112.7" stroke="#c87070" stroke-width="0.75" />
<text x="162.0" y="81.9" font-size="4.6" font-weight="normal" text-anchor="start" fill="#111" stroke="#111" stroke-width="0.14" >3.5</text>
<text x="195.9" y="81.9" font-size="4.6" font-weight="normal" text-anchor="end" fill="#111" stroke="#111" stroke-width="0.14" >0.9</text>
<text x="195.9" y="112.0" font-size="4.6" font-weight="normal" text-anchor="end" fill="#111" stroke="#111" stroke-width="0.14" >6.1</text>
<line x1="160.6" y1="76.5" x2="196.5" y2="76.5" stroke="#8a8a8a" stroke-width="0.9" />
<line x1="196.5" y1="76.5" x2="196.5" y2="112.7" stroke="#b0b0b0" stroke-width="0.9" />
<line x1="160.6" y1="76.05" x2="160.6" y2="113.15" stroke="#555" stroke-width="0.9" />
<line x1="160.6" y1="112.7" x2="196.5" y2="112.7" stroke="#555" stroke-width="0.9" />
<line x1="159.4" y1="106.7" x2="160.6" y2="106.7" stroke="#333" stroke-width="0.8" />
<line x1="37.0" y1="142.9" x2="72.9" y2="142.9" stroke="#f08080" stroke-width="0.75" />
<line x1="55.25" y1="118.6" x2="55.25" y2="155.3" stroke="#c87070" stroke-width="0.75" />
<text x="38.4" y="124.0" font-size="4.6" font-weight="normal" text-anchor="start" fill="#111" stroke="#111" stroke-width="0.14" >1.5</text>
<text x="72.30000000000001" y="124.0" font-size="4.6" font-weight="normal" text-anchor="end" fill="#111" stroke="#111" stroke-width="0.14" >1.9</text>
<text x="72.30000000000001" y="154.60000000000002" font-size="4.6" font-weight="normal" text-anchor="end" fill="#111" stroke="#111" stroke-width="0.14" >11.5</text>
<line x1="37.0" y1="118.6" x2="72.9" y2="118.6" stroke="#8a8a8a" stroke-width="0.9" />
<line x1="72.9" y1="118.6" x2="72.9" y2="155.3" stroke="#b0b0b0" stroke-width="0.9" />
<line x1="37.0" y1="118.14999999999999" x2="37.0" y2="155.75" stroke="#555" stroke-width="0.9" />
<line x1="37.0" y1="155.3" x2="72.9" y2="155.3" stroke="#555" stroke-width="0.9" />
<line x1="35.8" y1="149.3" x2="37.0" y2="149.3" stroke="#333" stroke-width="0.8" />
<line x1="77.4" y1="142.9" x2="113.30000000000001" y2="142.9" stroke="#f08080" stroke-width="0.75" />
<line x1="95.4" y1="118.6" x2="95.4" y2="155.3" stroke="#c87070" stroke-width="0.75" />
<text x="78.80000000000001" y="124.0" font-size="4.6" font-weight="normal" text-anchor="start" fill="#111" stroke="#111" stroke-width="0.14" >4.6</text>
<text x="112.70000000000002" y="124.0" font-size="4.6" font-weight="normal" text-anchor="end" fill="#111" stroke="#111" stroke-width="0.14" >16.8</text>
<text x="112.70000000000002" y="154.60000000000002" font-size="4.6" font-weight="normal" text-anchor="end" fill="#111" stroke="#111" stroke-width="0.14" >50.1</text>
<line x1="77.4" y1="118.6" x2="113.30000000000001" y2="118.6" stroke="#8a8a8a" stroke-width="0.9" />
<line x1="113.30000000000001" y1="118.6" x2="113.30000000000001" y2="155.3" stroke="#b0b0b0" stroke-width="0.9" />
<line x1="77.4" y1="118.14999999999999" x2="77.4" y2="155.75" stroke="#555" stroke-width="0.9" />
<line x1="77.4" y1="155.3" x2="113.30000000000001" y2="155.3" stroke="#555" stroke-width="0.9" />
<line x1="76.2" y1="149.3" x2="77.4" y2="149.3" stroke="#333" stroke-width="0.8" />
<line x1="118.5" y1="142.9" x2="154.4" y2="142.9" stroke="#f08080" stroke-width="0.75" />
<line x1="136.7" y1="118.6" x2="136.7" y2="155.3" stroke="#c87070" stroke-width="0.75" />
<text x="119.9" y="124.0" font-size="4.6" font-weight="normal" text-anchor="start" fill="#111" stroke="#111" stroke-width="0.14" >6.71</text>
<text x="153.8" y="124.0" font-size="4.6" font-weight="normal" text-anchor="end" fill="#111" stroke="#111" stroke-width="0.14" >9.4</text>
<text x="153.8" y="154.60000000000002" font-size="4.6" font-weight="normal" text-anchor="end" fill="#111" stroke="#111" stroke-width="0.14" >15.3</text>
<line x1="118.5" y1="118.6" x2="154.4" y2="118.6" stroke="#8a8a8a" stroke-width="0.9" />
<line x1="154.4" y1="118.6" x2="154.4" y2="155.3" stroke="#b0b0b0" stroke-width="0.9" />
<line x1="118.5" y1="118.14999999999999" x2="118.5" y2="155.75" stroke="#555" stroke-width="0.9" />
<line x1="118.5" y1="155.3" x2="154.4" y2="155.3" stroke="#555" stroke-width="0.9" />
<line x1="117.3" y1="149.3" x2="118.5" y2="149.3" stroke="#333" stroke-width="0.8" />
<line x1="160.6" y1="142.9" x2="196.5" y2="142.9" stroke="#f08080" stroke-width="0.75" />
<line x1="178.7" y1="118.6" x2="178.7" y2="155.3" stroke="#c87070" stroke-width="0.75" />
<text x="162.0" y="124.0" font-size="4.6" font-weight="normal" text-anchor="start" fill="#111" stroke="#111" stroke-width="0.14" >2.7</text>
<text x="195.9" y="124.0" font-size="4.6" font-weight="normal" text-anchor="end" fill="#111" stroke="#111" stroke-width="0.14" >2.5</text>
<text x="195.9" y="154.60000000000002" font-size="4.6" font-weight="normal" text-anchor="end" fill="#111" stroke="#111" stroke-width="0.14" >9.1</text>
<line x1="160.6" y1="118.6" x2="196.5" y2="118.6" stroke="#8a8a8a" stroke-width="0.9" />
<line x1="196.5" y1="118.6" x2="196.5" y2="155.3" stroke="#b0b0b0" stroke-width="0.9" />
<line x1="160.6" y1="118.14999999999999" x2="160.6" y2="155.75" stroke="#555" stroke-width="0.9" />
<line x1="160.6" y1="155.3" x2="196.5" y2="155.3" stroke="#555" stroke-width="0.9" />
<line x1="159.4" y1="149.3" x2="160.6" y2="149.3" stroke="#333" stroke-width="0.8" />
<line x1="37.0" y1="231.3" x2="72.9" y2="231.3" stroke="#f08080" stroke-width="0.75" />
<line x1="54.7" y1="205.45" x2="54.7" y2="242.04999999999998" stroke="#c87070" stroke-width="0.75" />
<text x="38.4" y="210.85" font-size="4.6" font-weight="normal" text-anchor="start" fill="#111" stroke="#111" stroke-width="0.14" >90.7</text>
<text x="72.30000000000001" y="210.85" font-size="4.6" font-weight="normal" text-anchor="end" fill="#111" stroke="#111" stroke-width="0.14" >1.6</text>
<text x="72.30000000000001" y="241.35" font-size="4.6" font-weight="normal" text-anchor="end" fill="#111" stroke="#111" stroke-width="0.14" >0.2</text>
<line x1="37.0" y1="205.45" x2="72.9" y2="205.45" stroke="#8a8a8a" stroke-width="0.9" />
<line x1="72.9" y1="205.45" x2="72.9" y2="242.04999999999998" stroke="#b0b0b0" stroke-width="0.9" />
<line x1="37.0" y1="205.0" x2="37.0" y2="242.49999999999997" stroke="#555" stroke-width="0.9" />
<line x1="37.0" y1="242.04999999999998" x2="72.9" y2="242.04999999999998" stroke="#555" stroke-width="0.9" />
<line x1="35.8" y1="236.04999999999998" x2="37.0" y2="236.04999999999998" stroke="#333" stroke-width="0.8" />
<line x1="77.4" y1="231.3" x2="113.30000000000001" y2="231.3" stroke="#f08080" stroke-width="0.75" />
<line x1="94.5" y1="205.45" x2="94.5" y2="242.04999999999998" stroke="#c87070" stroke-width="0.75" />
<text x="78.80000000000001" y="210.85" font-size="4.6" font-weight="normal" text-anchor="start" fill="#111" stroke="#111" stroke-width="0.14" >75.1</text>
<text x="112.70000000000002" y="210.85" font-size="4.6" font-weight="normal" text-anchor="end" fill="#111" stroke="#111" stroke-width="0.14" >21.9</text>
<text x="112.70000000000002" y="241.35" font-size="4.6" font-weight="normal" text-anchor="end" fill="#111" stroke="#111" stroke-width="0.14" >0.2</text>
<line x1="77.4" y1="205.45" x2="113.30000000000001" y2="205.45" stroke="#8a8a8a" stroke-width="0.9" />
<line x1="113.30000000000001" y1="205.45" x2="113.30000000000001" y2="242.04999999999998" stroke="#b0b0b0" stroke-width="0.9" />
<line x1="77.4" y1="205.0" x2="77.4" y2="242.49999999999997" stroke="#555" stroke-width="0.9" />
<line x1="77.4" y1="242.04999999999998" x2="113.30000000000001" y2="242.04999999999998" stroke="#555" stroke-width="0.9" />
<line x1="76.2" y1="236.04999999999998" x2="77.4" y2="236.04999999999998" stroke="#333" stroke-width="0.8" />
<line x1="118.5" y1="231.3" x2="154.4" y2="231.3" stroke="#f08080" stroke-width="0.75" />
<line x1="137.0" y1="205.45" x2="137.0" y2="242.04999999999998" stroke="#c87070" stroke-width="0.75" />
<text x="119.9" y="210.85" font-size="4.6" font-weight="normal" text-anchor="start" fill="#111" stroke="#111" stroke-width="0.14" >92.1</text>
<text x="153.8" y="210.85" font-size="4.6" font-weight="normal" text-anchor="end" fill="#111" stroke="#111" stroke-width="0.14" >2.7</text>
<text x="153.8" y="241.35" font-size="4.6" font-weight="normal" text-anchor="end" fill="#111" stroke="#111" stroke-width="0.14" >0.3</text>
<line x1="118.5" y1="205.45" x2="154.4" y2="205.45" stroke="#8a8a8a" stroke-width="0.9" />
<line x1="154.4" y1="205.45" x2="154.4" y2="242.04999999999998" stroke="#b0b0b0" stroke-width="0.9" />
<line x1="118.5" y1="205.0" x2="118.5" y2="242.49999999999997" stroke="#555" stroke-width="0.9" />
<line x1="118.5" y1="242.04999999999998" x2="154.4" y2="242.04999999999998" stroke="#555" stroke-width="0.9" />
<line x1="117.3" y1="236.04999999999998" x2="118.5" y2="236.04999999999998" stroke="#333" stroke-width="0.8" />
<line x1="160.6" y1="231.3" x2="196.5" y2="231.3" stroke="#f08080" stroke-width="0.75" />
<line x1="177.5" y1="205.45" x2="177.5" y2="242.04999999999998" stroke="#c87070" stroke-width="0.75" />
<text x="162.0" y="210.85" font-size="4.6" font-weight="normal" text-anchor="start" fill="#111" stroke="#111" stroke-width="0.14" >90.6</text>
<text x="195.9" y="210.85" font-size="4.6" font-weight="normal" text-anchor="end" fill="#111" stroke="#111" stroke-width="0.14" >0.8</text>
<text x="195.9" y="241.35" font-size="4.6" font-weight="normal" text-anchor="end" fill="#111" stroke="#111" stroke-width="0.14" >0.1</text>
<line x1="160.6" y1="205.45" x2="196.5" y2="205.45" stroke="#8a8a8a" stroke-width="0.9" />
<line x1="196.5" y1="205.45" x2="196.5" y2="242.04999999999998" stroke="#b0b0b0" stroke-width="0.9" />
<line x1="160.6" y1="205.0" x2="160.6" y2="242.49999999999997" stroke="#555" stroke-width="0.9" />
<line x1="160.6" y1="242.04999999999998" x2="196.5" y2="242.04999999999998" stroke="#555" stroke-width="0.9" />
<line x1="159.4" y1="236.04999999999998" x2="160.6" y2="236.04999999999998" stroke="#333" stroke-width="0.8" />
<line x1="37.0" y1="273.8" x2="72.9" y2="273.8" stroke="#f08080" stroke-width="0.75" />
<line x1="54.7" y1="248.2" x2="54.7" y2="284.3" stroke="#c87070" stroke-width="0.75" />
<text x="38.4" y="253.6" font-size="4.6" font-weight="normal" text-anchor="start" fill="#111" stroke="#111" stroke-width="0.14" >39.7</text>
<text x="72.30000000000001" y="253.6" font-size="4.6" font-weight="normal" text-anchor="end" fill="#111" stroke="#111" stroke-width="0.14" >3.2</text>
<text x="72.30000000000001" y="283.6" font-size="4.6" font-weight="normal" text-anchor="end" fill="#111" stroke="#111" stroke-width="0.14" >1.9</text>
<line x1="37.0" y1="248.2" x2="72.9" y2="248.2" stroke="#8a8a8a" stroke-width="0.9" />
<line x1="72.9" y1="248.2" x2="72.9" y2="284.3" stroke="#b0b0b0" stroke-width="0.9" />
<line x1="37.0" y1="247.75" x2="37.0" y2="284.75" stroke="#555" stroke-width="0.9" />
<line x1="37.0" y1="284.3" x2="72.9" y2="284.3" stroke="#555" stroke-width="0.9" />
<line x1="35.8" y1="278.3" x2="37.0" y2="278.3" stroke="#333" stroke-width="0.8" />
<line x1="77.4" y1="273.8" x2="113.30000000000001" y2="273.8" stroke="#f08080" stroke-width="0.75" />
<line x1="94.5" y1="248.2" x2="94.5" y2="284.3" stroke="#c87070" stroke-width="0.75" />
<text x="78.80000000000001" y="253.6" font-size="4.6" font-weight="normal" text-anchor="start" fill="#111" stroke="#111" stroke-width="0.14" >31.6</text>
<text x="112.70000000000002" y="253.6" font-size="4.6" font-weight="normal" text-anchor="end" fill="#111" stroke="#111" stroke-width="0.14" >48.9</text>
<text x="112.70000000000002" y="283.6" font-size="4.6" font-weight="normal" text-anchor="end" fill="#111" stroke="#111" stroke-width="0.14" >8.9</text>
<line x1="77.4" y1="248.2" x2="113.30000000000001" y2="248.2" stroke="#8a8a8a" stroke-width="0.9" />
<line x1="113.30000000000001" y1="248.2" x2="113.30000000000001" y2="284.3" stroke="#b0b0b0" stroke-width="0.9" />
<line x1="77.4" y1="247.75" x2="77.4" y2="284.75" stroke="#555" stroke-width="0.9" />
<line x1="77.4" y1="284.3" x2="113.30000000000001" y2="284.3" stroke="#555" stroke-width="0.9" />
<line x1="76.2" y1="278.3" x2="77.4" y2="278.3" stroke="#333" stroke-width="0.8" />
<line x1="118.5" y1="273.8" x2="154.4" y2="273.8" stroke="#f08080" stroke-width="0.75" />
<line x1="137.0" y1="248.2" x2="137.0" y2="284.3" stroke="#c87070" stroke-width="0.75" />
<text x="119.9" y="253.6" font-size="4.6" font-weight="normal" text-anchor="start" fill="#111" stroke="#111" stroke-width="0.14" >58.0</text>
<text x="153.8" y="253.6" font-size="4.6" font-weight="normal" text-anchor="end" fill="#111" stroke="#111" stroke-width="0.14" >6.0</text>
<text x="153.8" y="283.6" font-size="4.6" font-weight="normal" text-anchor="end" fill="#111" stroke="#111" stroke-width="0.14" >2.5</text>
<line x1="118.5" y1="248.2" x2="154.4" y2="248.2" stroke="#8a8a8a" stroke-width="0.9" />
<line x1="154.4" y1="248.2" x2="154.4" y2="284.3" stroke="#b0b0b0" stroke-width="0.9" />
<line x1="118.5" y1="247.75" x2="118.5" y2="284.75" stroke="#555" stroke-width="0.9" />
<line x1="118.5" y1="284.3" x2="154.4" y2="284.3" stroke="#555" stroke-width="0.9" />
<line x1="117.3" y1="278.3" x2="118.5" y2="278.3" stroke="#333" stroke-width="0.8" />
<line x1="160.6" y1="273.8" x2="196.5" y2="273.8" stroke="#f08080" stroke-width="0.75" />
<line x1="177.5" y1="248.2" x2="177.5" y2="284.3" stroke="#c87070" stroke-width="0.75" />
<text x="162.0" y="253.6" font-size="4.6" font-weight="normal" text-anchor="start" fill="#111" stroke="#111" stroke-width="0.14" >44.2</text>
<text x="195.9" y="253.6" font-size="4.6" font-weight="normal" text-anchor="end" fill="#111" stroke="#111" stroke-width="0.14" >2.3</text>
<text x="195.9" y="283.6" font-size="4.6" font-weight="normal" text-anchor="end" fill="#111" stroke="#111" stroke-width="0.14" >0.8</text>
<line x1="160.6" y1="248.2" x2="196.5" y2="248.2" stroke="#8a8a8a" stroke-width="0.9" />
<line x1="196.5" y1="248.2" x2="196.5" y2="284.3" stroke="#b0b0b0" stroke-width="0.9" />
<line x1="160.6" y1="247.75" x2="160.6" y2="284.75" stroke="#555" stroke-width="0.9" />
<line x1="160.6" y1="284.3" x2="196.5" y2="284.3" stroke="#555" stroke-width="0.9" />
<line x1="159.4" y1="278.3" x2="160.6" y2="278.3" stroke="#333" stroke-width="0.8" />
<line x1="37.0" y1="316.0" x2="72.9" y2="316.0" stroke="#f08080" stroke-width="0.75" />
<line x1="54.7" y1="290.5" x2="54.7" y2="326.6" stroke="#c87070" stroke-width="0.75" />
<text x="38.4" y="295.9" font-size="4.6" font-weight="normal" text-anchor="start" fill="#111" stroke="#111" stroke-width="0.14" >13.2</text>
<text x="72.30000000000001" y="295.9" font-size="4.6" font-weight="normal" text-anchor="end" fill="#111" stroke="#111" stroke-width="0.14" >3.0</text>
<text x="72.30000000000001" y="325.90000000000003" font-size="4.6" font-weight="normal" text-anchor="end" fill="#111" stroke="#111" stroke-width="0.14" >3.7</text>
<line x1="37.0" y1="290.5" x2="72.9" y2="290.5" stroke="#8a8a8a" stroke-width="0.9" />
<line x1="72.9" y1="290.5" x2="72.9" y2="326.6" stroke="#b0b0b0" stroke-width="0.9" />
<line x1="37.0" y1="290.05" x2="37.0" y2="327.05" stroke="#555" stroke-width="0.9" />
<line x1="37.0" y1="326.6" x2="72.9" y2="326.6" stroke="#555" stroke-width="0.9" />
<line x1="35.8" y1="320.6" x2="37.0" y2="320.6" stroke="#333" stroke-width="0.8" />
<line x1="77.4" y1="316.0" x2="113.30000000000001" y2="316.0" stroke="#f08080" stroke-width="0.75" />
<line x1="94.5" y1="290.5" x2="94.5" y2="326.6" stroke="#c87070" stroke-width="0.75" />
<text x="78.80000000000001" y="295.9" font-size="4.6" font-weight="normal" text-anchor="start" fill="#111" stroke="#111" stroke-width="0.14" >14.2</text>
<text x="112.70000000000002" y="295.9" font-size="4.6" font-weight="normal" text-anchor="end" fill="#111" stroke="#111" stroke-width="0.14" >49.3</text>
<text x="112.70000000000002" y="325.90000000000003" font-size="4.6" font-weight="normal" text-anchor="end" fill="#111" stroke="#111" stroke-width="0.14" >25.7</text>
<line x1="77.4" y1="290.5" x2="113.30000000000001" y2="290.5" stroke="#8a8a8a" stroke-width="0.9" />
<line x1="113.30000000000001" y1="290.5" x2="113.30000000000001" y2="326.6" stroke="#b0b0b0" stroke-width="0.9" />
<line x1="77.4" y1="290.05" x2="77.4" y2="327.05" stroke="#555" stroke-width="0.9" />
<line x1="77.4" y1="326.6" x2="113.30000000000001" y2="326.6" stroke="#555" stroke-width="0.9" />
<line x1="76.2" y1="320.6" x2="77.4" y2="320.6" stroke="#333" stroke-width="0.8" />
<line x1="118.5" y1="316.0" x2="154.4" y2="316.0" stroke="#f08080" stroke-width="0.75" />
<line x1="137.0" y1="290.5" x2="137.0" y2="326.6" stroke="#c87070" stroke-width="0.75" />
<text x="119.9" y="295.9" font-size="4.6" font-weight="normal" text-anchor="start" fill="#111" stroke="#111" stroke-width="0.14" >26.7</text>
<text x="153.8" y="295.9" font-size="4.6" font-weight="normal" text-anchor="end" fill="#111" stroke="#111" stroke-width="0.14" >6.5</text>
<text x="153.8" y="325.90000000000003" font-size="4.6" font-weight="normal" text-anchor="end" fill="#111" stroke="#111" stroke-width="0.14" >5.6</text>
<line x1="118.5" y1="290.5" x2="154.4" y2="290.5" stroke="#8a8a8a" stroke-width="0.9" />
<line x1="154.4" y1="290.5" x2="154.4" y2="326.6" stroke="#b0b0b0" stroke-width="0.9" />
<line x1="118.5" y1="290.05" x2="118.5" y2="327.05" stroke="#555" stroke-width="0.9" />
<line x1="118.5" y1="326.6" x2="154.4" y2="326.6" stroke="#555" stroke-width="0.9" />
<line x1="117.3" y1="320.6" x2="118.5" y2="320.6" stroke="#333" stroke-width="0.8" />
<line x1="160.6" y1="316.0" x2="196.5" y2="316.0" stroke="#f08080" stroke-width="0.75" />
<line x1="177.5" y1="290.5" x2="177.5" y2="326.6" stroke="#c87070" stroke-width="0.75" />
<text x="162.0" y="295.9" font-size="4.6" font-weight="normal" text-anchor="start" fill="#111" stroke="#111" stroke-width="0.14" >16.6</text>
<text x="195.9" y="295.9" font-size="4.6" font-weight="normal" text-anchor="end" fill="#111" stroke="#111" stroke-width="0.14" >1.6</text>
<text x="195.9" y="325.90000000000003" font-size="4.6" font-weight="normal" text-anchor="end" fill="#111" stroke="#111" stroke-width="0.14" >1.2</text>
<line x1="160.6" y1="290.5" x2="196.5" y2="290.5" stroke="#8a8a8a" stroke-width="0.9" />
<line x1="196.5" y1="290.5" x2="196.5" y2="326.6" stroke="#b0b0b0" stroke-width="0.9" />
<line x1="160.6" y1="290.05" x2="160.6" y2="327.05" stroke="#555" stroke-width="0.9" />
<line x1="160.6" y1="326.6" x2="196.5" y2="326.6" stroke="#555" stroke-width="0.9" />
<line x1="159.4" y1="320.6" x2="160.6" y2="320.6" stroke="#333" stroke-width="0.8" />
<line x1="32.5" y1="161.3" x2="32.5" y2="140.5" stroke="#111" stroke-width="1.1" />
<path d="M30.7,141.2 L32.5,138 L34.3,141.2 Z" fill="#111"/>
<line x1="32.5" y1="161.3" x2="53.5" y2="161.3" stroke="#111" stroke-width="1.1" />
<path d="M52.8,159.5 L56,161.3 L52.8,163.10000000000002 Z" fill="#111"/>
<text x="0" y="0" font-size="6.4" transform="translate(28.9 151.3) rotate(-90)" text-anchor="middle">CD25</text>
<text x="42.5" y="170" font-size="6.4" font-weight="normal" text-anchor="middle" fill="#000" stroke="#000" stroke-width="0.14" >Ki-67</text>
<line x1="30.6" y1="331.5" x2="30.6" y2="309.5" stroke="#111" stroke-width="1.1" />
<path d="M28.8,310.2 L30.6,307 L32.4,310.2 Z" fill="#111"/>
<line x1="30.6" y1="331.5" x2="52.5" y2="331.5" stroke="#111" stroke-width="1.1" />
<path d="M51.8,329.7 L55,331.5 L51.8,333.3 Z" fill="#111"/>
<text x="0" y="0" font-size="6.4" transform="translate(28 320.4) rotate(-90)" text-anchor="middle">CD38</text>
<text x="40.6" y="340.6" font-size="6.4" font-weight="normal" text-anchor="middle" fill="#000" stroke="#000" stroke-width="0.14" >Ki-67</text>
<text x="216" y="15.6" font-size="11.3" font-weight="normal" text-anchor="start" fill="#000" stroke="#000" stroke-width="0.14" >B</text>
<text x="305.7" y="15.8" font-size="8.2" font-weight="bold" text-anchor="middle" fill="#000" stroke="#000" stroke-width="0.06" >CD4+</text>
<line x1="246" y1="18.3" x2="366" y2="18.3" stroke="#222" stroke-width="1" />
<text x="449.7" y="15.6" font-size="8.2" font-weight="bold" text-anchor="middle" fill="#000" stroke="#000" stroke-width="0.06" >CD8+</text>
<line x1="392" y1="18.3" x2="512" y2="18.3" stroke="#222" stroke-width="1" />
<text x="267.7" y="27.5" font-size="6.4" font-weight="bold">T<tspan font-size="4.7" dy="2.2">CM</tspan></text>
<text x="338.8" y="27.5" font-size="6.4" font-weight="bold">T<tspan font-size="4.7" dy="2.2">EM</tspan></text>
<text x="412.6" y="27.5" font-size="6.4" font-weight="bold">T<tspan font-size="4.7" dy="2.2">CM</tspan></text>
<text x="484.1" y="27.5" font-size="6.4" font-weight="bold">T<tspan font-size="4.7" dy="2.2">EM</tspan></text>
<text x="0" y="0" font-size="6.4" font-weight="bold" text-anchor="middle" transform="translate(225.8 68.75) rotate(-90)">% of Ki-67+</text>
<line x1="231.6" y1="85.7" x2="231.6" y2="50.4" stroke="#7a7a7a" stroke-width="1.5" />
<path d="M229.8,51.1 L231.6,47.9 L233.4,51.1 Z" fill="#111"/>
<line x1="245" y1="88" x2="245" y2="47" stroke="#8a8a8a" stroke-width="0.8" />
<line x1="245" y1="88" x2="304" y2="88" stroke="#8a8a8a" stroke-width="0.8" />
<line x1="243.7" y1="88" x2="245" y2="88" stroke="#8a8a8a" stroke-width="0.7" />
<text x="242.4" y="89.8" font-size="5" font-weight="normal" text-anchor="end" fill="#555" stroke="#555" stroke-width="0.14" >0</text>
<line x1="243.7" y1="74.5" x2="245" y2="74.5" stroke="#8a8a8a" stroke-width="0.7" />
<text x="242.4" y="76.3" font-size="5" font-weight="normal" text-anchor="end" fill="#555" stroke="#555" stroke-width="0.14" >5</text>
<line x1="243.7" y1="61" x2="245" y2="61" stroke="#8a8a8a" stroke-width="0.7" />
<text x="242.4" y="62.8" font-size="5" font-weight="normal" text-anchor="end" fill="#555" stroke="#555" stroke-width="0.14" >10</text>
<line x1="243.7" y1="47.5" x2="245" y2="47.5" stroke="#8a8a8a" stroke-width="0.7" />
<text x="242.4" y="49.3" font-size="5" font-weight="normal" text-anchor="end" fill="#555" stroke="#555" stroke-width="0.14" >15</text>
<circle cx="259.35" cy="43.2" r="1.3" fill="#111"/>
<circle cx="267.60" cy="43.2" r="1.3" fill="#111"/>
<circle cx="275.85" cy="43.2" r="1.3" fill="#111"/>
<line x1="314" y1="88" x2="314" y2="47" stroke="#8a8a8a" stroke-width="0.8" />
<line x1="314" y1="88" x2="373" y2="88" stroke="#8a8a8a" stroke-width="0.8" />
<line x1="312.7" y1="88" x2="314" y2="88" stroke="#8a8a8a" stroke-width="0.7" />
<text x="311.4" y="89.8" font-size="5" font-weight="normal" text-anchor="end" fill="#555" stroke="#555" stroke-width="0.14" >0</text>
<line x1="312.7" y1="67.8" x2="314" y2="67.8" stroke="#8a8a8a" stroke-width="0.7" />
<text x="311.4" y="69.6" font-size="5" font-weight="normal" text-anchor="end" fill="#555" stroke="#555" stroke-width="0.14" >40</text>
<line x1="312.7" y1="47.5" x2="314" y2="47.5" stroke="#8a8a8a" stroke-width="0.7" />
<text x="311.4" y="49.3" font-size="5" font-weight="normal" text-anchor="end" fill="#555" stroke="#555" stroke-width="0.14" >80</text>
<circle cx="329.40" cy="43.2" r="1.3" fill="#111"/>
<circle cx="337.70" cy="43.2" r="1.3" fill="#111"/>
<circle cx="354.30" cy="43.2" r="1.3" fill="#111"/>
<circle cx="362.60" cy="43.2" r="1.3" fill="#111"/>
<line x1="385.3" y1="88" x2="385.3" y2="47" stroke="#8a8a8a" stroke-width="0.8" />
<line x1="385.3" y1="88" x2="444.3" y2="88" stroke="#8a8a8a" stroke-width="0.8" />
<line x1="384.0" y1="88" x2="385.3" y2="88" stroke="#8a8a8a" stroke-width="0.7" />
<text x="382.7" y="89.8" font-size="5" font-weight="normal" text-anchor="end" fill="#555" stroke="#555" stroke-width="0.14" >0</text>
<line x1="384.0" y1="68" x2="385.3" y2="68" stroke="#8a8a8a" stroke-width="0.7" />
<text x="382.7" y="69.8" font-size="5" font-weight="normal" text-anchor="end" fill="#555" stroke="#555" stroke-width="0.14" >40</text>
<line x1="384.0" y1="48" x2="385.3" y2="48" stroke="#8a8a8a" stroke-width="0.7" />
<text x="382.7" y="49.8" font-size="5" font-weight="normal" text-anchor="end" fill="#555" stroke="#555" stroke-width="0.14" >80</text>
<circle cx="399.90" cy="43.2" r="1.3" fill="#111"/>
<circle cx="408.30" cy="43.2" r="1.3" fill="#111"/>
<circle cx="416.70" cy="43.2" r="1.3" fill="#111"/>
<circle cx="441.90" cy="43.2" r="1.3" fill="#111"/>
<line x1="455.5" y1="88" x2="455.5" y2="47" stroke="#8a8a8a" stroke-width="0.8" />
<line x1="455.5" y1="88" x2="514.5" y2="88" stroke="#8a8a8a" stroke-width="0.8" />
<line x1="454.2" y1="88" x2="455.5" y2="88" stroke="#8a8a8a" stroke-width="0.7" />
<text x="452.9" y="89.8" font-size="5" font-weight="normal" text-anchor="end" fill="#555" stroke="#555" stroke-width="0.14" >0</text>
<line x1="454.2" y1="68.6" x2="455.5" y2="68.6" stroke="#8a8a8a" stroke-width="0.7" />
<text x="452.9" y="70.39999999999999" font-size="5" font-weight="normal" text-anchor="end" fill="#555" stroke="#555" stroke-width="0.14" >40</text>
<line x1="454.2" y1="49.2" x2="455.5" y2="49.2" stroke="#8a8a8a" stroke-width="0.7" />
<text x="452.9" y="51.0" font-size="5" font-weight="normal" text-anchor="end" fill="#555" stroke="#555" stroke-width="0.14" >80</text>
<circle cx="470.15" cy="43.2" r="1.3" fill="#111"/>
<circle cx="478.60" cy="43.2" r="1.3" fill="#111"/>
<circle cx="487.05" cy="43.2" r="1.3" fill="#111"/>
<circle cx="495.50" cy="43.2" r="1.3" fill="#111"/>
<circle cx="503.95" cy="43.2" r="1.3" fill="#111"/>
<circle cx="512.40" cy="43.2" r="1.3" fill="#111"/>
<text x="0" y="0" font-size="6.4" font-weight="bold" text-anchor="middle" transform="translate(225.8 121.6) rotate(-90)">% of CD25+</text>
<line x1="231.6" y1="140.2" x2="231.6" y2="104.9" stroke="#7a7a7a" stroke-width="1.5" />
<path d="M229.8,105.60000000000001 L231.6,102.4 L233.4,105.60000000000001 Z" fill="#111"/>
<line x1="245" y1="142.2" x2="245" y2="101.19999999999999" stroke="#8a8a8a" stroke-width="0.8" />
<line x1="245" y1="142.2" x2="304" y2="142.2" stroke="#8a8a8a" stroke-width="0.8" />
<line x1="243.7" y1="142.2" x2="245" y2="142.2" stroke="#8a8a8a" stroke-width="0.7" />
<text x="242.4" y="144.0" font-size="5" font-weight="normal" text-anchor="end" fill="#555" stroke="#555" stroke-width="0.14" >0</text>
<line x1="243.7" y1="128.89999999999998" x2="245" y2="128.89999999999998" stroke="#8a8a8a" stroke-width="0.7" />
<text x="242.4" y="130.7" font-size="5" font-weight="normal" text-anchor="end" fill="#555" stroke="#555" stroke-width="0.14" >10</text>
<line x1="243.7" y1="115.6" x2="245" y2="115.6" stroke="#8a8a8a" stroke-width="0.7" />
<text x="242.4" y="117.39999999999999" font-size="5" font-weight="normal" text-anchor="end" fill="#555" stroke="#555" stroke-width="0.14" >20</text>
<line x1="243.7" y1="102.19999999999999" x2="245" y2="102.19999999999999" stroke="#8a8a8a" stroke-width="0.7" />
<text x="242.4" y="103.99999999999999" font-size="5" font-weight="normal" text-anchor="end" fill="#555" stroke="#555" stroke-width="0.14" >30</text>
<circle cx="259.35" cy="96.3" r="1.3" fill="#111"/>
<circle cx="267.60" cy="96.3" r="1.3" fill="#111"/>
<circle cx="275.85" cy="96.3" r="1.3" fill="#111"/>
<line x1="314" y1="142.2" x2="314" y2="101.19999999999999" stroke="#8a8a8a" stroke-width="0.8" />
<line x1="314" y1="142.2" x2="373" y2="142.2" stroke="#8a8a8a" stroke-width="0.8" />
<line x1="312.7" y1="142.2" x2="314" y2="142.2" stroke="#8a8a8a" stroke-width="0.7" />
<text x="311.4" y="144.0" font-size="5" font-weight="normal" text-anchor="end" fill="#555" stroke="#555" stroke-width="0.14" >0</text>
<line x1="312.7" y1="128.89999999999998" x2="314" y2="128.89999999999998" stroke="#8a8a8a" stroke-width="0.7" />
<text x="311.4" y="130.7" font-size="5" font-weight="normal" text-anchor="end" fill="#555" stroke="#555" stroke-width="0.14" >20</text>
<line x1="312.7" y1="115.6" x2="314" y2="115.6" stroke="#8a8a8a" stroke-width="0.7" />
<text x="311.4" y="117.39999999999999" font-size="5" font-weight="normal" text-anchor="end" fill="#555" stroke="#555" stroke-width="0.14" >40</text>
<line x1="312.7" y1="102.19999999999999" x2="314" y2="102.19999999999999" stroke="#8a8a8a" stroke-width="0.7" />
<text x="311.4" y="103.99999999999999" font-size="5" font-weight="normal" text-anchor="end" fill="#555" stroke="#555" stroke-width="0.14" >60</text>
<circle cx="329.40" cy="96.3" r="1.3" fill="#111"/>
<circle cx="337.70" cy="96.3" r="1.3" fill="#111"/>
<line x1="385.3" y1="142.2" x2="385.3" y2="101.19999999999999" stroke="#8a8a8a" stroke-width="0.8" />
<line x1="385.3" y1="142.2" x2="444.3" y2="142.2" stroke="#8a8a8a" stroke-width="0.8" />
<line x1="384.0" y1="142.2" x2="385.3" y2="142.2" stroke="#8a8a8a" stroke-width="0.7" />
<text x="382.7" y="144.0" font-size="5" font-weight="normal" text-anchor="end" fill="#555" stroke="#555" stroke-width="0.14" >0</text>
<line x1="384.0" y1="122.19999999999999" x2="385.3" y2="122.19999999999999" stroke="#8a8a8a" stroke-width="0.7" />
<text x="382.7" y="123.99999999999999" font-size="5" font-weight="normal" text-anchor="end" fill="#555" stroke="#555" stroke-width="0.14" >4</text>
<line x1="384.0" y1="102.19999999999999" x2="385.3" y2="102.19999999999999" stroke="#8a8a8a" stroke-width="0.7" />
<text x="382.7" y="103.99999999999999" font-size="5" font-weight="normal" text-anchor="end" fill="#555" stroke="#555" stroke-width="0.14" >8</text>
<circle cx="399.90" cy="96.3" r="1.3" fill="#111"/>
<circle cx="408.30" cy="96.3" r="1.3" fill="#111"/>
<line x1="455.5" y1="142.2" x2="455.5" y2="101.19999999999999" stroke="#8a8a8a" stroke-width="0.8" />
<line x1="455.5" y1="142.2" x2="514.5" y2="142.2" stroke="#8a8a8a" stroke-width="0.8" />
<line x1="454.2" y1="142.2" x2="455.5" y2="142.2" stroke="#8a8a8a" stroke-width="0.7" />
<text x="452.9" y="144.0" font-size="5" font-weight="normal" text-anchor="end" fill="#555" stroke="#555" stroke-width="0.14" >0</text>
<line x1="454.2" y1="122.19999999999999" x2="455.5" y2="122.19999999999999" stroke="#8a8a8a" stroke-width="0.7" />
<text x="452.9" y="123.99999999999999" font-size="5" font-weight="normal" text-anchor="end" fill="#555" stroke="#555" stroke-width="0.14" >4</text>
<line x1="454.2" y1="102.19999999999999" x2="455.5" y2="102.19999999999999" stroke="#8a8a8a" stroke-width="0.7" />
<text x="452.9" y="103.99999999999999" font-size="5" font-weight="normal" text-anchor="end" fill="#555" stroke="#555" stroke-width="0.14" >8</text>
<circle cx="470.15" cy="96.3" r="1.3" fill="#111"/>
<circle cx="503.95" cy="96.3" r="1.3" fill="#111"/>
<text x="0" y="0" font-size="6.4" font-weight="bold" text-anchor="middle" transform="translate(225.8 176.3) rotate(-90)">% of CD38+</text>
<line x1="231.6" y1="195.6" x2="231.6" y2="161.0" stroke="#7a7a7a" stroke-width="1.5" />
<path d="M229.8,161.7 L231.6,158.5 L233.4,161.7 Z" fill="#111"/>
<line x1="245" y1="197" x2="245" y2="156" stroke="#8a8a8a" stroke-width="0.8" />
<line x1="245" y1="197" x2="304" y2="197" stroke="#8a8a8a" stroke-width="0.8" />
<line x1="243.7" y1="197" x2="245" y2="197" stroke="#8a8a8a" stroke-width="0.7" />
<text x="242.4" y="198.8" font-size="5" font-weight="normal" text-anchor="end" fill="#555" stroke="#555" stroke-width="0.14" >0</text>
<line x1="243.7" y1="177.4" x2="245" y2="177.4" stroke="#8a8a8a" stroke-width="0.7" />
<text x="242.4" y="179.20000000000002" font-size="5" font-weight="normal" text-anchor="end" fill="#555" stroke="#555" stroke-width="0.14" >40</text>
<line x1="243.7" y1="157.8" x2="245" y2="157.8" stroke="#8a8a8a" stroke-width="0.7" />
<text x="242.4" y="159.60000000000002" font-size="5" font-weight="normal" text-anchor="end" fill="#555" stroke="#555" stroke-width="0.14" >80</text>
<circle cx="259.35" cy="151.7" r="1.3" fill="#111"/>
<line x1="314" y1="197" x2="314" y2="156" stroke="#8a8a8a" stroke-width="0.8" />
<line x1="314" y1="197" x2="373" y2="197" stroke="#8a8a8a" stroke-width="0.8" />
<line x1="312.7" y1="197" x2="314" y2="197" stroke="#8a8a8a" stroke-width="0.7" />
<text x="311.4" y="198.8" font-size="5" font-weight="normal" text-anchor="end" fill="#555" stroke="#555" stroke-width="0.14" >0</text>
<line x1="312.7" y1="183.7" x2="314" y2="183.7" stroke="#8a8a8a" stroke-width="0.7" />
<text x="311.4" y="185.5" font-size="5" font-weight="normal" text-anchor="end" fill="#555" stroke="#555" stroke-width="0.14" >20</text>
<line x1="312.7" y1="170.4" x2="314" y2="170.4" stroke="#8a8a8a" stroke-width="0.7" />
<text x="311.4" y="172.20000000000002" font-size="5" font-weight="normal" text-anchor="end" fill="#555" stroke="#555" stroke-width="0.14" >40</text>
<line x1="312.7" y1="157" x2="314" y2="157" stroke="#8a8a8a" stroke-width="0.7" />
<text x="311.4" y="158.8" font-size="5" font-weight="normal" text-anchor="end" fill="#555" stroke="#555" stroke-width="0.14" >60</text>
<circle cx="329.40" cy="151.7" r="1.3" fill="#111"/>
<circle cx="337.70" cy="151.7" r="1.3" fill="#111"/>
<line x1="385.3" y1="197" x2="385.3" y2="156" stroke="#8a8a8a" stroke-width="0.8" />
<line x1="385.3" y1="197" x2="444.3" y2="197" stroke="#8a8a8a" stroke-width="0.8" />
<line x1="384.0" y1="197" x2="385.3" y2="197" stroke="#8a8a8a" stroke-width="0.7" />
<text x="382.7" y="198.8" font-size="5" font-weight="normal" text-anchor="end" fill="#555" stroke="#555" stroke-width="0.14" >0</text>
<line x1="384.0" y1="180.9" x2="385.3" y2="180.9" stroke="#8a8a8a" stroke-width="0.7" />
<text x="382.7" y="182.70000000000002" font-size="5" font-weight="normal" text-anchor="end" fill="#555" stroke="#555" stroke-width="0.14" >40</text>
<line x1="384.0" y1="164.8" x2="385.3" y2="164.8" stroke="#8a8a8a" stroke-width="0.7" />
<text x="382.7" y="166.60000000000002" font-size="5" font-weight="normal" text-anchor="end" fill="#555" stroke="#555" stroke-width="0.14" >80</text>
<circle cx="399.90" cy="151.7" r="1.3" fill="#111"/>
<circle cx="408.30" cy="151.7" r="1.3" fill="#111"/>
<circle cx="416.70" cy="151.7" r="1.3" fill="#111"/>
<line x1="455.5" y1="197" x2="455.5" y2="156" stroke="#8a8a8a" stroke-width="0.8" />
<line x1="455.5" y1="197" x2="514.5" y2="197" stroke="#8a8a8a" stroke-width="0.8" />
<line x1="454.2" y1="197" x2="455.5" y2="197" stroke="#8a8a8a" stroke-width="0.7" />
<text x="452.9" y="198.8" font-size="5" font-weight="normal" text-anchor="end" fill="#555" stroke="#555" stroke-width="0.14" >0</text>
<line x1="454.2" y1="181" x2="455.5" y2="181" stroke="#8a8a8a" stroke-width="0.7" />
<text x="452.9" y="182.8" font-size="5" font-weight="normal" text-anchor="end" fill="#555" stroke="#555" stroke-width="0.14" >40</text>
<line x1="454.2" y1="164" x2="455.5" y2="164" stroke="#8a8a8a" stroke-width="0.7" />
<text x="452.9" y="165.8" font-size="5" font-weight="normal" text-anchor="end" fill="#555" stroke="#555" stroke-width="0.14" >80</text>
<circle cx="470.15" cy="151.7" r="1.3" fill="#111"/>
<circle cx="478.60" cy="151.7" r="1.3" fill="#111"/>
<circle cx="487.05" cy="151.7" r="1.3" fill="#111"/>
<text x="0" y="0" font-size="6.4" font-weight="bold" text-anchor="middle" transform="translate(225.8 233.2) rotate(-90)">CD122 MFI</text>
<line x1="231.6" y1="251.2" x2="231.6" y2="215.9" stroke="#7a7a7a" stroke-width="1.5" />
<path d="M229.8,216.6 L231.6,213.4 L233.4,216.6 Z" fill="#111"/>
<line x1="245" y1="251.8" x2="245" y2="210.8" stroke="#8a8a8a" stroke-width="0.8" />
<line x1="245" y1="251.8" x2="304" y2="251.8" stroke="#8a8a8a" stroke-width="0.8" />
<line x1="243.7" y1="251.8" x2="245" y2="251.8" stroke="#8a8a8a" stroke-width="0.7" />
<text x="242.4" y="253.60000000000002" font-size="5" font-weight="normal" text-anchor="end" fill="#555" stroke="#555" stroke-width="0.14" >0</text>
<line x1="243.7" y1="238.5" x2="245" y2="238.5" stroke="#8a8a8a" stroke-width="0.7" />
<text x="242.4" y="240.3" font-size="5" font-weight="normal" text-anchor="end" fill="#555" stroke="#555" stroke-width="0.14" >50</text>
<line x1="243.7" y1="225.20000000000002" x2="245" y2="225.20000000000002" stroke="#8a8a8a" stroke-width="0.7" />
<text x="242.4" y="227.00000000000003" font-size="5" font-weight="normal" text-anchor="end" fill="#555" stroke="#555" stroke-width="0.14" >100</text>
<line x1="243.7" y1="211.8" x2="245" y2="211.8" stroke="#8a8a8a" stroke-width="0.7" />
<text x="242.4" y="213.60000000000002" font-size="5" font-weight="normal" text-anchor="end" fill="#555" stroke="#555" stroke-width="0.14" >150</text>
<circle cx="267.60" cy="206.6" r="1.3" fill="#111"/>
<line x1="314" y1="251.8" x2="314" y2="212.3" stroke="#8a8a8a" stroke-width="0.8" />
<line x1="314" y1="251.8" x2="373" y2="251.8" stroke="#8a8a8a" stroke-width="0.8" />
<line x1="312.7" y1="251.8" x2="314" y2="251.8" stroke="#8a8a8a" stroke-width="0.7" />
<text x="311.4" y="253.60000000000002" font-size="5" font-weight="normal" text-anchor="end" fill="#555" stroke="#555" stroke-width="0.14" >0</text>
<line x1="312.7" y1="233.60000000000002" x2="314" y2="233.60000000000002" stroke="#8a8a8a" stroke-width="0.7" />
<text x="311.4" y="235.40000000000003" font-size="5" font-weight="normal" text-anchor="end" fill="#555" stroke="#555" stroke-width="0.14" >200</text>
<line x1="312.7" y1="215.3" x2="314" y2="215.3" stroke="#8a8a8a" stroke-width="0.7" />
<text x="311.4" y="217.10000000000002" font-size="5" font-weight="normal" text-anchor="end" fill="#555" stroke="#555" stroke-width="0.14" >400</text>
<circle cx="329.40" cy="206.6" r="1.3" fill="#111"/>
<circle cx="337.70" cy="206.6" r="1.3" fill="#111"/>
<line x1="385.3" y1="251.8" x2="385.3" y2="210.8" stroke="#8a8a8a" stroke-width="0.8" />
<line x1="385.3" y1="251.8" x2="444.3" y2="251.8" stroke="#8a8a8a" stroke-width="0.8" />
<line x1="384.0" y1="251.8" x2="385.3" y2="251.8" stroke="#8a8a8a" stroke-width="0.7" />
<text x="382.7" y="253.60000000000002" font-size="5" font-weight="normal" text-anchor="end" fill="#555" stroke="#555" stroke-width="0.14" >0</text>
<line x1="384.0" y1="235.10000000000002" x2="385.3" y2="235.10000000000002" stroke="#8a8a8a" stroke-width="0.7" />
<text x="382.7" y="236.90000000000003" font-size="5" font-weight="normal" text-anchor="end" fill="#555" stroke="#555" stroke-width="0.14" >200</text>
<line x1="384.0" y1="219.10000000000002" x2="385.3" y2="219.10000000000002" stroke="#8a8a8a" stroke-width="0.7" />
<text x="382.7" y="220.90000000000003" font-size="5" font-weight="normal" text-anchor="end" fill="#555" stroke="#555" stroke-width="0.14" >400</text>
<circle cx="408.30" cy="206.6" r="1.3" fill="#111"/>
<line x1="455.5" y1="251.8" x2="455.5" y2="210.8" stroke="#8a8a8a" stroke-width="0.8" />
<line x1="455.5" y1="251.8" x2="514.5" y2="251.8" stroke="#8a8a8a" stroke-width="0.8" />
<line x1="454.2" y1="251.8" x2="455.5" y2="251.8" stroke="#8a8a8a" stroke-width="0.7" />
<text x="452.9" y="253.60000000000002" font-size="5" font-weight="normal" text-anchor="end" fill="#555" stroke="#555" stroke-width="0.14" >0</text>
<line x1="454.2" y1="239.60000000000002" x2="455.5" y2="239.60000000000002" stroke="#8a8a8a" stroke-width="0.7" />
<text x="452.9" y="241.40000000000003" font-size="5" font-weight="normal" text-anchor="end" fill="#555" stroke="#555" stroke-width="0.14" >200</text>
<line x1="454.2" y1="227.8" x2="455.5" y2="227.8" stroke="#8a8a8a" stroke-width="0.7" />
<text x="452.9" y="229.60000000000002" font-size="5" font-weight="normal" text-anchor="end" fill="#555" stroke="#555" stroke-width="0.14" >400</text>
<line x1="454.2" y1="215.60000000000002" x2="455.5" y2="215.60000000000002" stroke="#8a8a8a" stroke-width="0.7" />
<text x="452.9" y="217.40000000000003" font-size="5" font-weight="normal" text-anchor="end" fill="#555" stroke="#555" stroke-width="0.14" >600</text>
<circle cx="478.60" cy="206.6" r="1.3" fill="#111"/>
<text x="0" y="0" font-size="6.4" font-weight="bold" text-anchor="middle" transform="translate(225.8 288) rotate(-90)">CD132 MFI</text>
<line x1="231.6" y1="306.7" x2="231.6" y2="270.7" stroke="#7a7a7a" stroke-width="1.5" />
<path d="M229.8,271.4 L231.6,268.2 L233.4,271.4 Z" fill="#111"/>
<line x1="245" y1="306.6" x2="245" y2="265.6" stroke="#8a8a8a" stroke-width="0.8" />
<line x1="245" y1="306.6" x2="304" y2="306.6" stroke="#8a8a8a" stroke-width="0.8" />
<line x1="243.7" y1="306.6" x2="245" y2="306.6" stroke="#8a8a8a" stroke-width="0.7" />
<text x="242.4" y="308.40000000000003" font-size="5" font-weight="normal" text-anchor="end" fill="#555" stroke="#555" stroke-width="0.14" >0</text>
<line x1="243.7" y1="286.8" x2="245" y2="286.8" stroke="#8a8a8a" stroke-width="0.7" />
<text x="242.4" y="288.6" font-size="5" font-weight="normal" text-anchor="end" fill="#555" stroke="#555" stroke-width="0.14" >200</text>
<line x1="243.7" y1="267.0" x2="245" y2="267.0" stroke="#8a8a8a" stroke-width="0.7" />
<text x="242.4" y="268.8" font-size="5" font-weight="normal" text-anchor="end" fill="#555" stroke="#555" stroke-width="0.14" >400</text>
<line x1="314" y1="306.6" x2="314" y2="265.6" stroke="#8a8a8a" stroke-width="0.8" />
<line x1="314" y1="306.6" x2="373" y2="306.6" stroke="#8a8a8a" stroke-width="0.8" />
<line x1="312.7" y1="306.6" x2="314" y2="306.6" stroke="#8a8a8a" stroke-width="0.7" />
<text x="311.4" y="308.40000000000003" font-size="5" font-weight="normal" text-anchor="end" fill="#555" stroke="#555" stroke-width="0.14" >0</text>
<line x1="312.7" y1="290.1" x2="314" y2="290.1" stroke="#8a8a8a" stroke-width="0.7" />
<text x="311.4" y="291.90000000000003" font-size="5" font-weight="normal" text-anchor="end" fill="#555" stroke="#555" stroke-width="0.14" >200</text>
<line x1="312.7" y1="272.6" x2="314" y2="272.6" stroke="#8a8a8a" stroke-width="0.7" />
<text x="311.4" y="274.40000000000003" font-size="5" font-weight="normal" text-anchor="end" fill="#555" stroke="#555" stroke-width="0.14" >400</text>
<line x1="385.3" y1="306.6" x2="385.3" y2="265.6" stroke="#8a8a8a" stroke-width="0.8" />
<line x1="385.3" y1="306.6" x2="444.3" y2="306.6" stroke="#8a8a8a" stroke-width="0.8" />
<line x1="384.0" y1="306.6" x2="385.3" y2="306.6" stroke="#8a8a8a" stroke-width="0.7" />
<text x="382.7" y="308.40000000000003" font-size="5" font-weight="normal" text-anchor="end" fill="#555" stroke="#555" stroke-width="0.14" >0</text>
<line x1="384.0" y1="287.0" x2="385.3" y2="287.0" stroke="#8a8a8a" stroke-width="0.7" />
<text x="382.7" y="288.8" font-size="5" font-weight="normal" text-anchor="end" fill="#555" stroke="#555" stroke-width="0.14" >200</text>
<line x1="384.0" y1="267.6" x2="385.3" y2="267.6" stroke="#8a8a8a" stroke-width="0.7" />
<text x="382.7" y="269.40000000000003" font-size="5" font-weight="normal" text-anchor="end" fill="#555" stroke="#555" stroke-width="0.14" >400</text>
<line x1="455.5" y1="306.6" x2="455.5" y2="265.6" stroke="#8a8a8a" stroke-width="0.8" />
<line x1="455.5" y1="306.6" x2="514.5" y2="306.6" stroke="#8a8a8a" stroke-width="0.8" />
<line x1="454.2" y1="306.6" x2="455.5" y2="306.6" stroke="#8a8a8a" stroke-width="0.7" />
<text x="452.9" y="308.40000000000003" font-size="5" font-weight="normal" text-anchor="end" fill="#555" stroke="#555" stroke-width="0.14" >0</text>
<line x1="454.2" y1="287.0" x2="455.5" y2="287.0" stroke="#8a8a8a" stroke-width="0.7" />
<text x="452.9" y="288.8" font-size="5" font-weight="normal" text-anchor="end" fill="#555" stroke="#555" stroke-width="0.14" >200</text>
<line x1="454.2" y1="267.6" x2="455.5" y2="267.6" stroke="#8a8a8a" stroke-width="0.7" />
<text x="452.9" y="269.40000000000003" font-size="5" font-weight="normal" text-anchor="end" fill="#555" stroke="#555" stroke-width="0.14" >400</text>
<path d="M246.9 83.3h1.35v1.35h-1.35zM248.1 77.9h1.35v1.35h-1.35zM247.3 80.5h1.35v1.35h-1.35zM247.3 79.4h1.35v1.35h-1.35zM248.3 81.3h1.35v1.35h-1.35zM247.6 81.6h1.35v1.35h-1.35zM248.1 81.3h1.35v1.35h-1.35zM247.6 82.9h1.35v1.35h-1.35zM256.5 83.3h1.35v1.35h-1.35zM255.8 75.2h1.35v1.35h-1.35zM256.1 83.3h1.35v1.35h-1.35zM255.6 80.0h1.35v1.35h-1.35zM255.9 76.2h1.35v1.35h-1.35zM255.7 80.5h1.35v1.35h-1.35zM255.7 80.7h1.35v1.35h-1.35zM256.0 81.5h1.35v1.35h-1.35zM264.6 83.3h1.35v1.35h-1.35zM263.5 80.6h1.35v1.35h-1.35zM264.3 81.2h1.35v1.35h-1.35zM263.5 81.5h1.35v1.35h-1.35zM264.4 82.2h1.35v1.35h-1.35zM263.9 81.7h1.35v1.35h-1.35zM264.7 81.6h1.35v1.35h-1.35zM264.8 81.2h1.35v1.35h-1.35zM272.0 81.9h1.35v1.35h-1.35zM272.1 73.8h1.35v1.35h-1.35zM273.0 81.0h1.35v1.35h-1.35zM272.4 79.9h1.35v1.35h-1.35zM272.4 74.3h1.35v1.35h-1.35zM271.7 80.7h1.35v1.35h-1.35zM272.3 79.3h1.35v1.35h-1.35zM272.5 76.1h1.35v1.35h-1.35zM280.7 84.6h1.35v1.35h-1.35zM281.0 77.9h1.35v1.35h-1.35zM280.4 80.3h1.35v1.35h-1.35zM280.2 78.1h1.35v1.35h-1.35zM281.1 82.6h1.35v1.35h-1.35zM280.3 80.6h1.35v1.35h-1.35zM280.2 77.9h1.35v1.35h-1.35zM280.5 84.4h1.35v1.35h-1.35zM289.3 80.6h1.35v1.35h-1.35zM288.6 77.9h1.35v1.35h-1.35zM288.7 79.0h1.35v1.35h-1.35zM288.8 79.8h1.35v1.35h-1.35zM288.8 78.4h1.35v1.35h-1.35zM288.7 79.4h1.35v1.35h-1.35zM289.5 79.0h1.35v1.35h-1.35zM288.4 79.8h1.35v1.35h-1.35zM296.4 83.3h1.35v1.35h-1.35zM297.5 79.2h1.35v1.35h-1.35zM296.7 80.3h1.35v1.35h-1.35zM296.8 81.7h1.35v1.35h-1.35zM297.4 79.5h1.35v1.35h-1.35zM297.2 80.0h1.35v1.35h-1.35zM297.0 82.0h1.35v1.35h-1.35zM297.7 80.9h1.35v1.35h-1.35zM317.0 84.8h1.35v1.35h-1.35zM317.1 79.7h1.35v1.35h-1.35zM317.1 82.4h1.35v1.35h-1.35zM317.0 81.2h1.35v1.35h-1.35zM318.3 82.7h1.35v1.35h-1.35zM318.1 83.7h1.35v1.35h-1.35zM317.0 82.0h1.35v1.35h-1.35zM317.6 84.8h1.35v1.35h-1.35zM325.9 84.8h1.35v1.35h-1.35zM325.6 74.7h1.35v1.35h-1.35zM326.0 83.7h1.35v1.35h-1.35zM326.2 81.6h1.35v1.35h-1.35zM325.3 79.8h1.35v1.35h-1.35zM325.8 82.8h1.35v1.35h-1.35zM325.8 84.0h1.35v1.35h-1.35zM326.5 77.8h1.35v1.35h-1.35zM333.7 82.3h1.35v1.35h-1.35zM334.7 79.7h1.35v1.35h-1.35zM334.5 80.6h1.35v1.35h-1.35zM334.7 80.6h1.35v1.35h-1.35zM334.9 80.0h1.35v1.35h-1.35zM334.3 80.7h1.35v1.35h-1.35zM334.6 80.7h1.35v1.35h-1.35zM333.6 80.1h1.35v1.35h-1.35zM342.8 82.3h1.35v1.35h-1.35zM342.9 79.7h1.35v1.35h-1.35zM342.8 80.3h1.35v1.35h-1.35zM342.5 80.5h1.35v1.35h-1.35zM342.5 79.8h1.35v1.35h-1.35zM342.7 81.3h1.35v1.35h-1.35zM343.1 80.4h1.35v1.35h-1.35zM342.0 81.9h1.35v1.35h-1.35zM350.6 82.3h1.35v1.35h-1.35zM351.2 74.2h1.35v1.35h-1.35zM350.3 78.7h1.35v1.35h-1.35zM351.5 78.4h1.35v1.35h-1.35zM350.8 78.4h1.35v1.35h-1.35zM351.0 79.3h1.35v1.35h-1.35zM350.8 78.2h1.35v1.35h-1.35zM351.3 79.3h1.35v1.35h-1.35zM359.4 83.3h1.35v1.35h-1.35zM358.5 79.2h1.35v1.35h-1.35zM358.6 79.8h1.35v1.35h-1.35zM359.6 81.9h1.35v1.35h-1.35zM358.8 82.2h1.35v1.35h-1.35zM358.9 80.4h1.35v1.35h-1.35zM359.2 81.2h1.35v1.35h-1.35zM359.4 81.6h1.35v1.35h-1.35zM368.1 83.3h1.35v1.35h-1.35zM367.7 78.2h1.35v1.35h-1.35zM367.5 81.6h1.35v1.35h-1.35zM366.9 80.0h1.35v1.35h-1.35zM367.4 80.0h1.35v1.35h-1.35zM367.2 81.0h1.35v1.35h-1.35zM367.7 81.9h1.35v1.35h-1.35zM367.7 79.5h1.35v1.35h-1.35zM388.5 86.8h1.35v1.35h-1.35zM387.4 85.3h1.35v1.35h-1.35zM388.0 86.3h1.35v1.35h-1.35zM387.7 86.6h1.35v1.35h-1.35zM388.4 85.7h1.35v1.35h-1.35zM387.8 86.4h1.35v1.35h-1.35zM387.8 86.2h1.35v1.35h-1.35zM387.9 86.2h1.35v1.35h-1.35zM396.8 86.8h1.35v1.35h-1.35zM397.0 84.8h1.35v1.35h-1.35zM397.1 86.3h1.35v1.35h-1.35zM396.3 85.9h1.35v1.35h-1.35zM396.5 86.4h1.35v1.35h-1.35zM396.5 85.8h1.35v1.35h-1.35zM396.6 85.2h1.35v1.35h-1.35zM397.1 86.8h1.35v1.35h-1.35zM404.5 86.8h1.35v1.35h-1.35zM404.2 85.8h1.35v1.35h-1.35zM404.9 86.3h1.35v1.35h-1.35zM405.4 86.4h1.35v1.35h-1.35zM404.6 86.0h1.35v1.35h-1.35zM405.3 86.4h1.35v1.35h-1.35zM405.1 86.4h1.35v1.35h-1.35zM404.3 86.5h1.35v1.35h-1.35zM412.8 86.3h1.35v1.35h-1.35zM413.8 79.8h1.35v1.35h-1.35zM413.5 86.2h1.35v1.35h-1.35zM413.0 84.1h1.35v1.35h-1.35zM413.0 84.3h1.35v1.35h-1.35zM413.3 86.3h1.35v1.35h-1.35zM413.4 84.4h1.35v1.35h-1.35zM412.8 83.7h1.35v1.35h-1.35zM421.6 87.1h1.35v1.35h-1.35zM421.2 86.3h1.35v1.35h-1.35zM421.8 86.9h1.35v1.35h-1.35zM421.4 86.8h1.35v1.35h-1.35zM421.1 87.1h1.35v1.35h-1.35zM421.0 86.7h1.35v1.35h-1.35zM421.9 86.8h1.35v1.35h-1.35zM421.3 87.0h1.35v1.35h-1.35zM430.6 87.1h1.35v1.35h-1.35zM429.4 86.3h1.35v1.35h-1.35zM429.8 86.8h1.35v1.35h-1.35zM430.2 86.9h1.35v1.35h-1.35zM430.7 86.3h1.35v1.35h-1.35zM429.4 87.0h1.35v1.35h-1.35zM429.7 86.8h1.35v1.35h-1.35zM430.5 86.4h1.35v1.35h-1.35zM438.4 87.1h1.35v1.35h-1.35zM438.8 86.3h1.35v1.35h-1.35zM438.7 86.9h1.35v1.35h-1.35zM437.9 86.9h1.35v1.35h-1.35zM438.1 86.7h1.35v1.35h-1.35zM438.9 86.7h1.35v1.35h-1.35zM438.6 86.7h1.35v1.35h-1.35zM439.0 87.1h1.35v1.35h-1.35zM458.4 85.9h1.35v1.35h-1.35zM458.6 83.9h1.35v1.35h-1.35zM458.3 84.8h1.35v1.35h-1.35zM457.8 84.1h1.35v1.35h-1.35zM457.8 85.4h1.35v1.35h-1.35zM457.6 85.2h1.35v1.35h-1.35zM458.7 85.0h1.35v1.35h-1.35zM457.7 84.4h1.35v1.35h-1.35zM466.1 86.4h1.35v1.35h-1.35zM466.7 80.5h1.35v1.35h-1.35zM467.0 86.4h1.35v1.35h-1.35zM466.6 85.6h1.35v1.35h-1.35zM466.9 82.1h1.35v1.35h-1.35zM466.8 84.6h1.35v1.35h-1.35zM466.3 85.0h1.35v1.35h-1.35zM466.5 83.5h1.35v1.35h-1.35zM475.4 85.9h1.35v1.35h-1.35zM474.8 83.9h1.35v1.35h-1.35zM475.2 84.2h1.35v1.35h-1.35zM475.3 84.9h1.35v1.35h-1.35zM474.5 85.3h1.35v1.35h-1.35zM475.5 84.7h1.35v1.35h-1.35zM474.8 85.0h1.35v1.35h-1.35zM475.0 85.7h1.35v1.35h-1.35zM483.3 83.4h1.35v1.35h-1.35zM483.2 81.0h1.35v1.35h-1.35zM484.0 82.5h1.35v1.35h-1.35zM482.9 81.4h1.35v1.35h-1.35zM483.1 82.8h1.35v1.35h-1.35zM483.6 82.8h1.35v1.35h-1.35zM483.6 81.8h1.35v1.35h-1.35zM483.1 81.5h1.35v1.35h-1.35zM491.7 84.9h1.35v1.35h-1.35zM491.5 82.5h1.35v1.35h-1.35zM492.4 83.0h1.35v1.35h-1.35zM492.4 83.3h1.35v1.35h-1.35zM492.0 83.4h1.35v1.35h-1.35zM492.5 83.8h1.35v1.35h-1.35zM492.1 84.2h1.35v1.35h-1.35zM491.7 82.9h1.35v1.35h-1.35zM500.4 85.4h1.35v1.35h-1.35zM501.0 83.0h1.35v1.35h-1.35zM500.9 83.8h1.35v1.35h-1.35zM501.1 84.3h1.35v1.35h-1.35zM500.6 83.1h1.35v1.35h-1.35zM499.8 83.7h1.35v1.35h-1.35zM500.6 83.6h1.35v1.35h-1.35zM500.5 84.1h1.35v1.35h-1.35zM508.3 85.9h1.35v1.35h-1.35zM508.5 83.9h1.35v1.35h-1.35zM508.5 85.0h1.35v1.35h-1.35zM508.3 84.6h1.35v1.35h-1.35zM509.0 85.3h1.35v1.35h-1.35zM509.3 84.7h1.35v1.35h-1.35zM509.4 84.7h1.35v1.35h-1.35zM509.1 84.0h1.35v1.35h-1.35zM248.3 133.5h1.35v1.35h-1.35zM247.7 128.2h1.35v1.35h-1.35zM247.5 130.8h1.35v1.35h-1.35zM247.1 131.4h1.35v1.35h-1.35zM247.5 132.5h1.35v1.35h-1.35zM248.3 130.1h1.35v1.35h-1.35zM247.3 132.5h1.35v1.35h-1.35zM247.1 133.3h1.35v1.35h-1.35zM256.0 132.2h1.35v1.35h-1.35zM256.5 129.5h1.35v1.35h-1.35zM256.4 131.4h1.35v1.35h-1.35zM255.4 130.7h1.35v1.35h-1.35zM256.5 131.0h1.35v1.35h-1.35zM256.4 131.7h1.35v1.35h-1.35zM255.4 131.0h1.35v1.35h-1.35zM255.5 131.7h1.35v1.35h-1.35zM264.6 132.2h1.35v1.35h-1.35zM264.6 129.5h1.35v1.35h-1.35zM263.8 131.1h1.35v1.35h-1.35zM264.8 130.6h1.35v1.35h-1.35zM263.8 131.2h1.35v1.35h-1.35zM263.6 131.9h1.35v1.35h-1.35zM264.1 131.6h1.35v1.35h-1.35zM264.5 129.7h1.35v1.35h-1.35zM272.7 132.2h1.35v1.35h-1.35zM272.2 129.5h1.35v1.35h-1.35zM272.1 131.1h1.35v1.35h-1.35zM272.4 130.6h1.35v1.35h-1.35zM272.2 130.7h1.35v1.35h-1.35zM272.2 130.5h1.35v1.35h-1.35zM272.6 131.2h1.35v1.35h-1.35zM272.9 129.9h1.35v1.35h-1.35zM281.1 133.5h1.35v1.35h-1.35zM280.8 128.2h1.35v1.35h-1.35zM280.0 130.2h1.35v1.35h-1.35zM280.0 131.5h1.35v1.35h-1.35zM280.4 131.0h1.35v1.35h-1.35zM279.9 130.3h1.35v1.35h-1.35zM281.1 131.3h1.35v1.35h-1.35zM280.2 132.5h1.35v1.35h-1.35zM288.3 132.2h1.35v1.35h-1.35zM289.1 129.5h1.35v1.35h-1.35zM288.2 131.1h1.35v1.35h-1.35zM289.5 130.5h1.35v1.35h-1.35zM288.9 130.6h1.35v1.35h-1.35zM289.0 130.6h1.35v1.35h-1.35zM288.3 131.1h1.35v1.35h-1.35zM288.5 131.1h1.35v1.35h-1.35zM297.7 134.9h1.35v1.35h-1.35zM296.6 132.2h1.35v1.35h-1.35zM297.7 133.9h1.35v1.35h-1.35zM297.0 133.4h1.35v1.35h-1.35zM296.7 134.3h1.35v1.35h-1.35zM296.7 133.3h1.35v1.35h-1.35zM296.5 133.8h1.35v1.35h-1.35zM297.1 132.7h1.35v1.35h-1.35zM317.5 139.5h1.35v1.35h-1.35zM317.0 132.9h1.35v1.35h-1.35zM318.0 135.4h1.35v1.35h-1.35zM318.1 134.5h1.35v1.35h-1.35zM317.6 136.9h1.35v1.35h-1.35zM317.7 137.6h1.35v1.35h-1.35zM317.3 136.6h1.35v1.35h-1.35zM318.2 135.3h1.35v1.35h-1.35zM325.6 141.5h1.35v1.35h-1.35zM326.5 132.2h1.35v1.35h-1.35zM326.5 138.7h1.35v1.35h-1.35zM326.0 137.6h1.35v1.35h-1.35zM326.6 139.6h1.35v1.35h-1.35zM326.4 134.0h1.35v1.35h-1.35zM326.3 134.7h1.35v1.35h-1.35zM325.6 136.4h1.35v1.35h-1.35zM334.3 137.5h1.35v1.35h-1.35zM334.8 132.2h1.35v1.35h-1.35zM334.7 132.2h1.35v1.35h-1.35zM334.2 132.5h1.35v1.35h-1.35zM334.1 136.4h1.35v1.35h-1.35zM333.6 133.4h1.35v1.35h-1.35zM333.9 132.9h1.35v1.35h-1.35zM334.0 137.0h1.35v1.35h-1.35zM342.2 140.2h1.35v1.35h-1.35zM342.5 133.5h1.35v1.35h-1.35zM342.3 137.1h1.35v1.35h-1.35zM343.0 133.5h1.35v1.35h-1.35zM342.9 138.0h1.35v1.35h-1.35zM342.5 134.1h1.35v1.35h-1.35zM342.8 134.9h1.35v1.35h-1.35zM342.4 135.7h1.35v1.35h-1.35zM350.9 140.2h1.35v1.35h-1.35zM351.1 132.9h1.35v1.35h-1.35zM351.0 132.9h1.35v1.35h-1.35zM350.4 132.9h1.35v1.35h-1.35zM350.3 134.8h1.35v1.35h-1.35zM351.0 135.5h1.35v1.35h-1.35zM351.4 133.3h1.35v1.35h-1.35zM350.3 139.1h1.35v1.35h-1.35zM359.5 140.2h1.35v1.35h-1.35zM358.9 135.5h1.35v1.35h-1.35zM358.7 135.9h1.35v1.35h-1.35zM359.0 137.0h1.35v1.35h-1.35zM358.6 137.1h1.35v1.35h-1.35zM358.9 136.4h1.35v1.35h-1.35zM359.2 135.7h1.35v1.35h-1.35zM359.2 138.1h1.35v1.35h-1.35zM367.2 138.9h1.35v1.35h-1.35zM368.1 135.5h1.35v1.35h-1.35zM366.9 136.9h1.35v1.35h-1.35zM367.4 136.6h1.35v1.35h-1.35zM367.4 137.4h1.35v1.35h-1.35zM367.1 135.5h1.35v1.35h-1.35zM368.0 135.5h1.35v1.35h-1.35zM367.3 138.3h1.35v1.35h-1.35zM388.3 140.0h1.35v1.35h-1.35zM388.0 136.5h1.35v1.35h-1.35zM388.7 138.5h1.35v1.35h-1.35zM387.3 139.2h1.35v1.35h-1.35zM387.4 137.3h1.35v1.35h-1.35zM388.3 139.3h1.35v1.35h-1.35zM388.6 138.6h1.35v1.35h-1.35zM387.9 139.7h1.35v1.35h-1.35zM396.4 139.0h1.35v1.35h-1.35zM396.1 135.0h1.35v1.35h-1.35zM397.0 137.3h1.35v1.35h-1.35zM396.5 137.0h1.35v1.35h-1.35zM396.2 138.1h1.35v1.35h-1.35zM396.3 136.4h1.35v1.35h-1.35zM395.8 136.2h1.35v1.35h-1.35zM396.8 138.3h1.35v1.35h-1.35zM404.3 138.0h1.35v1.35h-1.35zM405.2 137.0h1.35v1.35h-1.35zM405.4 137.4h1.35v1.35h-1.35zM404.3 137.6h1.35v1.35h-1.35zM405.0 137.1h1.35v1.35h-1.35zM405.5 137.4h1.35v1.35h-1.35zM404.5 137.8h1.35v1.35h-1.35zM405.3 137.0h1.35v1.35h-1.35zM413.3 140.5h1.35v1.35h-1.35zM413.3 136.5h1.35v1.35h-1.35zM413.1 139.1h1.35v1.35h-1.35zM413.2 139.7h1.35v1.35h-1.35zM412.9 136.9h1.35v1.35h-1.35zM413.7 139.8h1.35v1.35h-1.35zM413.8 139.0h1.35v1.35h-1.35zM413.6 139.7h1.35v1.35h-1.35zM421.3 141.0h1.35v1.35h-1.35zM421.1 138.5h1.35v1.35h-1.35zM421.7 139.3h1.35v1.35h-1.35zM421.0 139.5h1.35v1.35h-1.35zM422.1 140.0h1.35v1.35h-1.35zM421.4 140.4h1.35v1.35h-1.35zM421.2 139.5h1.35v1.35h-1.35zM421.4 139.5h1.35v1.35h-1.35zM430.0 140.5h1.35v1.35h-1.35zM430.3 137.5h1.35v1.35h-1.35zM429.6 139.1h1.35v1.35h-1.35zM430.7 139.0h1.35v1.35h-1.35zM429.5 138.9h1.35v1.35h-1.35zM430.5 139.6h1.35v1.35h-1.35zM429.6 138.9h1.35v1.35h-1.35zM430.4 139.2h1.35v1.35h-1.35zM438.0 140.5h1.35v1.35h-1.35zM438.7 138.0h1.35v1.35h-1.35zM437.8 139.4h1.35v1.35h-1.35zM438.4 139.4h1.35v1.35h-1.35zM439.0 138.4h1.35v1.35h-1.35zM438.0 139.6h1.35v1.35h-1.35zM438.7 138.9h1.35v1.35h-1.35zM438.8 140.5h1.35v1.35h-1.35zM458.0 140.5h1.35v1.35h-1.35zM458.0 137.5h1.35v1.35h-1.35zM458.6 139.0h1.35v1.35h-1.35zM458.6 138.6h1.35v1.35h-1.35zM457.9 139.2h1.35v1.35h-1.35zM457.6 140.0h1.35v1.35h-1.35zM458.8 139.1h1.35v1.35h-1.35zM458.5 138.4h1.35v1.35h-1.35zM467.0 140.0h1.35v1.35h-1.35zM466.3 136.5h1.35v1.35h-1.35zM466.3 138.4h1.35v1.35h-1.35zM466.2 139.0h1.35v1.35h-1.35zM466.8 137.1h1.35v1.35h-1.35zM466.8 137.9h1.35v1.35h-1.35zM466.0 138.2h1.35v1.35h-1.35zM466.2 138.5h1.35v1.35h-1.35zM474.4 137.5h1.35v1.35h-1.35zM474.5 135.5h1.35v1.35h-1.35zM474.6 136.6h1.35v1.35h-1.35zM474.6 136.4h1.35v1.35h-1.35zM475.6 136.4h1.35v1.35h-1.35zM475.2 136.8h1.35v1.35h-1.35zM474.8 136.2h1.35v1.35h-1.35zM475.4 136.8h1.35v1.35h-1.35zM483.0 139.0h1.35v1.35h-1.35zM483.9 136.0h1.35v1.35h-1.35zM483.4 137.1h1.35v1.35h-1.35zM484.1 137.6h1.35v1.35h-1.35zM483.9 138.1h1.35v1.35h-1.35zM483.8 137.3h1.35v1.35h-1.35zM484.1 137.3h1.35v1.35h-1.35zM482.9 136.6h1.35v1.35h-1.35zM492.5 140.0h1.35v1.35h-1.35zM492.6 137.0h1.35v1.35h-1.35zM491.6 138.3h1.35v1.35h-1.35zM492.5 137.9h1.35v1.35h-1.35zM492.5 138.6h1.35v1.35h-1.35zM492.7 137.5h1.35v1.35h-1.35zM492.4 138.8h1.35v1.35h-1.35zM491.9 138.3h1.35v1.35h-1.35zM500.5 141.0h1.35v1.35h-1.35zM500.3 140.0h1.35v1.35h-1.35zM500.6 140.4h1.35v1.35h-1.35zM500.4 140.3h1.35v1.35h-1.35zM500.7 140.2h1.35v1.35h-1.35zM500.8 140.6h1.35v1.35h-1.35zM501.2 140.6h1.35v1.35h-1.35zM499.9 140.3h1.35v1.35h-1.35zM508.2 138.5h1.35v1.35h-1.35zM509.0 135.5h1.35v1.35h-1.35zM508.9 136.5h1.35v1.35h-1.35zM508.3 136.2h1.35v1.35h-1.35zM508.8 136.2h1.35v1.35h-1.35zM509.5 137.0h1.35v1.35h-1.35zM509.1 137.2h1.35v1.35h-1.35zM508.7 136.1h1.35v1.35h-1.35zM247.2 174.3h1.35v1.35h-1.35zM247.2 163.5h1.35v1.35h-1.35zM248.0 163.5h1.35v1.35h-1.35zM247.2 168.2h1.35v1.35h-1.35zM248.3 174.3h1.35v1.35h-1.35zM247.6 167.5h1.35v1.35h-1.35zM248.2 166.7h1.35v1.35h-1.35zM248.1 165.7h1.35v1.35h-1.35zM255.4 175.7h1.35v1.35h-1.35zM256.1 161.0h1.35v1.35h-1.35zM255.2 163.3h1.35v1.35h-1.35zM255.3 166.1h1.35v1.35h-1.35zM256.3 166.6h1.35v1.35h-1.35zM256.4 166.9h1.35v1.35h-1.35zM256.4 170.0h1.35v1.35h-1.35zM256.3 174.7h1.35v1.35h-1.35zM264.0 173.3h1.35v1.35h-1.35zM264.5 167.9h1.35v1.35h-1.35zM263.5 167.9h1.35v1.35h-1.35zM264.7 169.9h1.35v1.35h-1.35zM263.5 171.1h1.35v1.35h-1.35zM264.8 169.2h1.35v1.35h-1.35zM263.8 169.1h1.35v1.35h-1.35zM264.6 172.0h1.35v1.35h-1.35zM272.0 171.8h1.35v1.35h-1.35zM272.7 165.5h1.35v1.35h-1.35zM272.1 170.1h1.35v1.35h-1.35zM272.5 171.8h1.35v1.35h-1.35zM272.4 169.4h1.35v1.35h-1.35zM272.6 170.9h1.35v1.35h-1.35zM271.9 170.2h1.35v1.35h-1.35zM272.0 168.3h1.35v1.35h-1.35zM280.4 170.4h1.35v1.35h-1.35zM280.9 160.1h1.35v1.35h-1.35zM280.8 169.1h1.35v1.35h-1.35zM280.5 170.4h1.35v1.35h-1.35zM280.5 160.7h1.35v1.35h-1.35zM280.7 167.3h1.35v1.35h-1.35zM281.3 168.4h1.35v1.35h-1.35zM280.7 160.3h1.35v1.35h-1.35zM288.3 166.9h1.35v1.35h-1.35zM289.0 163.5h1.35v1.35h-1.35zM288.4 166.1h1.35v1.35h-1.35zM288.2 166.4h1.35v1.35h-1.35zM288.8 164.4h1.35v1.35h-1.35zM288.9 166.4h1.35v1.35h-1.35zM289.0 166.2h1.35v1.35h-1.35zM288.7 164.2h1.35v1.35h-1.35zM297.8 170.8h1.35v1.35h-1.35zM296.5 168.9h1.35v1.35h-1.35zM296.8 170.1h1.35v1.35h-1.35zM297.8 170.2h1.35v1.35h-1.35zM296.5 169.9h1.35v1.35h-1.35zM297.6 169.9h1.35v1.35h-1.35zM297.2 170.1h1.35v1.35h-1.35zM296.5 169.4h1.35v1.35h-1.35zM317.4 194.3h1.35v1.35h-1.35zM318.2 181.7h1.35v1.35h-1.35zM318.1 191.6h1.35v1.35h-1.35zM317.4 188.3h1.35v1.35h-1.35zM317.4 183.4h1.35v1.35h-1.35zM317.1 190.3h1.35v1.35h-1.35zM318.1 189.0h1.35v1.35h-1.35zM317.5 183.7h1.35v1.35h-1.35zM326.3 194.3h1.35v1.35h-1.35zM326.3 177.6h1.35v1.35h-1.35zM325.3 191.5h1.35v1.35h-1.35zM326.4 190.9h1.35v1.35h-1.35zM325.8 178.0h1.35v1.35h-1.35zM325.2 188.9h1.35v1.35h-1.35zM326.3 188.2h1.35v1.35h-1.35zM326.5 177.8h1.35v1.35h-1.35zM334.0 189.0h1.35v1.35h-1.35zM334.7 187.7h1.35v1.35h-1.35zM333.9 187.8h1.35v1.35h-1.35zM334.8 187.9h1.35v1.35h-1.35zM334.0 188.3h1.35v1.35h-1.35zM334.8 188.4h1.35v1.35h-1.35zM333.8 188.5h1.35v1.35h-1.35zM334.1 188.8h1.35v1.35h-1.35zM341.9 191.0h1.35v1.35h-1.35zM342.6 187.0h1.35v1.35h-1.35zM342.0 187.8h1.35v1.35h-1.35zM342.7 187.1h1.35v1.35h-1.35zM343.0 187.8h1.35v1.35h-1.35zM342.5 187.5h1.35v1.35h-1.35zM342.2 187.6h1.35v1.35h-1.35zM342.7 188.3h1.35v1.35h-1.35zM350.5 191.0h1.35v1.35h-1.35zM351.2 175.6h1.35v1.35h-1.35zM351.0 187.5h1.35v1.35h-1.35zM350.7 185.4h1.35v1.35h-1.35zM350.8 183.2h1.35v1.35h-1.35zM351.0 187.8h1.35v1.35h-1.35zM351.1 185.3h1.35v1.35h-1.35zM350.2 187.7h1.35v1.35h-1.35zM358.8 191.0h1.35v1.35h-1.35zM358.7 177.6h1.35v1.35h-1.35zM358.9 186.8h1.35v1.35h-1.35zM359.3 188.2h1.35v1.35h-1.35zM358.5 178.9h1.35v1.35h-1.35zM359.1 186.0h1.35v1.35h-1.35zM359.0 190.2h1.35v1.35h-1.35zM359.4 188.9h1.35v1.35h-1.35zM368.0 192.3h1.35v1.35h-1.35zM366.9 181.7h1.35v1.35h-1.35zM367.7 190.7h1.35v1.35h-1.35zM367.2 188.4h1.35v1.35h-1.35zM366.9 191.4h1.35v1.35h-1.35zM368.0 189.6h1.35v1.35h-1.35zM368.0 189.1h1.35v1.35h-1.35zM367.8 181.9h1.35v1.35h-1.35zM388.3 180.2h1.35v1.35h-1.35zM387.5 172.2h1.35v1.35h-1.35zM388.6 177.9h1.35v1.35h-1.35zM387.9 180.2h1.35v1.35h-1.35zM387.9 178.0h1.35v1.35h-1.35zM388.4 178.8h1.35v1.35h-1.35zM388.2 177.7h1.35v1.35h-1.35zM387.9 176.5h1.35v1.35h-1.35zM396.8 178.2h1.35v1.35h-1.35zM397.0 160.9h1.35v1.35h-1.35zM396.1 178.2h1.35v1.35h-1.35zM396.0 173.5h1.35v1.35h-1.35zM397.0 172.7h1.35v1.35h-1.35zM397.1 173.7h1.35v1.35h-1.35zM395.9 178.2h1.35v1.35h-1.35zM396.8 174.7h1.35v1.35h-1.35zM405.4 180.2h1.35v1.35h-1.35zM404.7 175.4h1.35v1.35h-1.35zM404.2 177.9h1.35v1.35h-1.35zM404.6 179.9h1.35v1.35h-1.35zM404.1 175.4h1.35v1.35h-1.35zM404.5 178.9h1.35v1.35h-1.35zM405.0 180.2h1.35v1.35h-1.35zM404.5 176.5h1.35v1.35h-1.35zM413.3 180.2h1.35v1.35h-1.35zM413.0 166.5h1.35v1.35h-1.35zM413.4 175.3h1.35v1.35h-1.35zM413.7 173.3h1.35v1.35h-1.35zM413.4 170.3h1.35v1.35h-1.35zM413.6 176.3h1.35v1.35h-1.35zM412.9 174.6h1.35v1.35h-1.35zM413.7 175.4h1.35v1.35h-1.35zM421.5 180.2h1.35v1.35h-1.35zM421.2 167.3h1.35v1.35h-1.35zM420.9 171.8h1.35v1.35h-1.35zM421.9 174.9h1.35v1.35h-1.35zM422.0 170.6h1.35v1.35h-1.35zM421.0 172.6h1.35v1.35h-1.35zM421.0 175.3h1.35v1.35h-1.35zM421.4 170.5h1.35v1.35h-1.35zM429.7 178.6h1.35v1.35h-1.35zM429.6 172.2h1.35v1.35h-1.35zM430.6 172.6h1.35v1.35h-1.35zM430.7 173.3h1.35v1.35h-1.35zM430.5 172.3h1.35v1.35h-1.35zM430.1 175.7h1.35v1.35h-1.35zM430.1 172.2h1.35v1.35h-1.35zM430.4 173.7h1.35v1.35h-1.35zM438.7 181.4h1.35v1.35h-1.35zM438.9 173.4h1.35v1.35h-1.35zM438.9 176.4h1.35v1.35h-1.35zM437.8 177.1h1.35v1.35h-1.35zM438.7 180.9h1.35v1.35h-1.35zM438.8 176.1h1.35v1.35h-1.35zM438.7 175.0h1.35v1.35h-1.35zM438.9 178.8h1.35v1.35h-1.35zM458.8 181.9h1.35v1.35h-1.35zM458.0 173.6h1.35v1.35h-1.35zM458.7 179.0h1.35v1.35h-1.35zM458.1 179.1h1.35v1.35h-1.35zM458.0 178.7h1.35v1.35h-1.35zM458.7 177.0h1.35v1.35h-1.35zM457.9 178.3h1.35v1.35h-1.35zM458.2 180.7h1.35v1.35h-1.35zM466.8 181.9h1.35v1.35h-1.35zM466.7 171.6h1.35v1.35h-1.35zM467.3 178.1h1.35v1.35h-1.35zM466.3 176.2h1.35v1.35h-1.35zM466.7 172.0h1.35v1.35h-1.35zM466.6 175.9h1.35v1.35h-1.35zM466.3 174.7h1.35v1.35h-1.35zM466.6 176.7h1.35v1.35h-1.35zM474.5 181.5h1.35v1.35h-1.35zM475.7 173.6h1.35v1.35h-1.35zM475.6 181.0h1.35v1.35h-1.35zM475.6 179.9h1.35v1.35h-1.35zM474.9 179.1h1.35v1.35h-1.35zM475.1 179.9h1.35v1.35h-1.35zM475.2 179.6h1.35v1.35h-1.35zM475.5 181.1h1.35v1.35h-1.35zM483.8 177.8h1.35v1.35h-1.35zM483.3 167.4h1.35v1.35h-1.35zM483.8 170.6h1.35v1.35h-1.35zM483.9 173.6h1.35v1.35h-1.35zM483.5 171.6h1.35v1.35h-1.35zM484.1 172.6h1.35v1.35h-1.35zM483.3 172.0h1.35v1.35h-1.35zM483.6 170.1h1.35v1.35h-1.35zM492.6 177.8h1.35v1.35h-1.35zM491.9 169.1h1.35v1.35h-1.35zM492.3 170.2h1.35v1.35h-1.35zM492.4 169.1h1.35v1.35h-1.35zM492.3 173.1h1.35v1.35h-1.35zM491.9 171.5h1.35v1.35h-1.35zM491.6 169.1h1.35v1.35h-1.35zM492.4 169.7h1.35v1.35h-1.35zM500.4 181.9h1.35v1.35h-1.35zM500.3 171.6h1.35v1.35h-1.35zM500.1 173.8h1.35v1.35h-1.35zM500.7 173.0h1.35v1.35h-1.35zM500.7 172.6h1.35v1.35h-1.35zM500.1 176.6h1.35v1.35h-1.35zM500.0 176.9h1.35v1.35h-1.35zM500.5 180.1h1.35v1.35h-1.35zM508.6 179.8h1.35v1.35h-1.35zM508.4 173.6h1.35v1.35h-1.35zM509.5 173.6h1.35v1.35h-1.35zM509.3 174.0h1.35v1.35h-1.35zM509.6 178.8h1.35v1.35h-1.35zM509.4 173.6h1.35v1.35h-1.35zM508.7 175.5h1.35v1.35h-1.35zM509.3 178.5h1.35v1.35h-1.35zM247.8 248.5h1.35v1.35h-1.35zM247.0 224.5h1.35v1.35h-1.35zM247.5 236.3h1.35v1.35h-1.35zM247.9 246.1h1.35v1.35h-1.35zM247.3 241.4h1.35v1.35h-1.35zM247.1 242.3h1.35v1.35h-1.35zM248.0 238.2h1.35v1.35h-1.35zM247.2 243.0h1.35v1.35h-1.35zM256.0 251.1h1.35v1.35h-1.35zM256.0 224.5h1.35v1.35h-1.35zM255.3 243.1h1.35v1.35h-1.35zM255.8 237.8h1.35v1.35h-1.35zM256.3 249.5h1.35v1.35h-1.35zM255.8 240.9h1.35v1.35h-1.35zM256.2 249.3h1.35v1.35h-1.35zM255.5 247.1h1.35v1.35h-1.35zM263.6 251.1h1.35v1.35h-1.35zM264.6 243.1h1.35v1.35h-1.35zM264.6 246.9h1.35v1.35h-1.35zM264.0 244.0h1.35v1.35h-1.35zM263.5 247.2h1.35v1.35h-1.35zM263.5 247.5h1.35v1.35h-1.35zM264.5 249.4h1.35v1.35h-1.35zM264.4 250.1h1.35v1.35h-1.35zM272.1 240.5h1.35v1.35h-1.35zM272.6 219.1h1.35v1.35h-1.35zM272.3 220.7h1.35v1.35h-1.35zM272.9 219.3h1.35v1.35h-1.35zM272.6 235.4h1.35v1.35h-1.35zM272.8 223.3h1.35v1.35h-1.35zM272.3 219.1h1.35v1.35h-1.35zM272.2 232.6h1.35v1.35h-1.35zM281.3 240.5h1.35v1.35h-1.35zM280.3 212.5h1.35v1.35h-1.35zM280.2 226.4h1.35v1.35h-1.35zM280.0 225.2h1.35v1.35h-1.35zM280.6 233.6h1.35v1.35h-1.35zM280.6 223.1h1.35v1.35h-1.35zM281.0 218.3h1.35v1.35h-1.35zM280.9 234.1h1.35v1.35h-1.35zM289.3 240.5h1.35v1.35h-1.35zM288.4 215.1h1.35v1.35h-1.35zM288.4 226.6h1.35v1.35h-1.35zM288.5 229.4h1.35v1.35h-1.35zM288.3 216.0h1.35v1.35h-1.35zM289.4 231.4h1.35v1.35h-1.35zM288.9 223.6h1.35v1.35h-1.35zM288.8 215.6h1.35v1.35h-1.35zM297.7 243.1h1.35v1.35h-1.35zM297.7 215.1h1.35v1.35h-1.35zM297.5 218.2h1.35v1.35h-1.35zM296.5 222.9h1.35v1.35h-1.35zM296.9 230.7h1.35v1.35h-1.35zM297.1 219.6h1.35v1.35h-1.35zM296.5 220.1h1.35v1.35h-1.35zM297.5 221.6h1.35v1.35h-1.35zM317.0 243.8h1.35v1.35h-1.35zM318.2 225.6h1.35v1.35h-1.35zM318.1 233.0h1.35v1.35h-1.35zM317.2 229.0h1.35v1.35h-1.35zM317.8 227.6h1.35v1.35h-1.35zM317.2 235.7h1.35v1.35h-1.35zM318.0 233.2h1.35v1.35h-1.35zM317.5 241.0h1.35v1.35h-1.35zM325.9 243.8h1.35v1.35h-1.35zM325.4 230.1h1.35v1.35h-1.35zM326.3 237.4h1.35v1.35h-1.35zM326.6 234.0h1.35v1.35h-1.35zM326.0 236.0h1.35v1.35h-1.35zM325.8 235.3h1.35v1.35h-1.35zM325.7 236.4h1.35v1.35h-1.35zM325.9 237.3h1.35v1.35h-1.35zM334.5 241.1h1.35v1.35h-1.35zM334.8 230.1h1.35v1.35h-1.35zM333.8 237.2h1.35v1.35h-1.35zM334.9 235.8h1.35v1.35h-1.35zM333.9 231.2h1.35v1.35h-1.35zM334.5 239.5h1.35v1.35h-1.35zM334.8 236.8h1.35v1.35h-1.35zM334.2 238.1h1.35v1.35h-1.35zM342.9 242.0h1.35v1.35h-1.35zM342.2 224.6h1.35v1.35h-1.35zM342.7 227.8h1.35v1.35h-1.35zM341.9 226.0h1.35v1.35h-1.35zM343.0 235.7h1.35v1.35h-1.35zM342.7 225.0h1.35v1.35h-1.35zM342.8 225.5h1.35v1.35h-1.35zM342.4 225.8h1.35v1.35h-1.35zM350.8 243.8h1.35v1.35h-1.35zM351.0 227.4h1.35v1.35h-1.35zM350.9 227.4h1.35v1.35h-1.35zM351.3 227.4h1.35v1.35h-1.35zM350.3 241.8h1.35v1.35h-1.35zM351.1 227.6h1.35v1.35h-1.35zM350.6 228.4h1.35v1.35h-1.35zM351.5 242.5h1.35v1.35h-1.35zM359.2 243.8h1.35v1.35h-1.35zM359.3 228.3h1.35v1.35h-1.35zM358.9 228.9h1.35v1.35h-1.35zM359.4 228.5h1.35v1.35h-1.35zM359.0 228.5h1.35v1.35h-1.35zM359.0 229.7h1.35v1.35h-1.35zM358.9 231.2h1.35v1.35h-1.35zM359.5 232.3h1.35v1.35h-1.35zM367.9 246.6h1.35v1.35h-1.35zM367.9 226.5h1.35v1.35h-1.35zM367.9 230.1h1.35v1.35h-1.35zM367.3 226.5h1.35v1.35h-1.35zM366.8 245.1h1.35v1.35h-1.35zM368.1 229.7h1.35v1.35h-1.35zM367.2 232.7h1.35v1.35h-1.35zM367.9 235.1h1.35v1.35h-1.35zM388.4 243.1h1.35v1.35h-1.35zM387.6 229.1h1.35v1.35h-1.35zM387.7 238.7h1.35v1.35h-1.35zM387.7 238.9h1.35v1.35h-1.35zM388.6 235.2h1.35v1.35h-1.35zM387.5 241.5h1.35v1.35h-1.35zM387.7 240.1h1.35v1.35h-1.35zM388.0 238.2h1.35v1.35h-1.35zM397.0 243.1h1.35v1.35h-1.35zM395.7 235.1h1.35v1.35h-1.35zM395.9 236.9h1.35v1.35h-1.35zM396.6 236.8h1.35v1.35h-1.35zM396.0 238.6h1.35v1.35h-1.35zM396.5 236.7h1.35v1.35h-1.35zM396.2 237.3h1.35v1.35h-1.35zM397.1 242.6h1.35v1.35h-1.35zM405.3 243.1h1.35v1.35h-1.35zM404.1 239.1h1.35v1.35h-1.35zM404.6 241.6h1.35v1.35h-1.35zM404.8 240.5h1.35v1.35h-1.35zM404.6 242.8h1.35v1.35h-1.35zM405.4 241.3h1.35v1.35h-1.35zM405.5 239.2h1.35v1.35h-1.35zM404.5 242.1h1.35v1.35h-1.35zM412.7 245.1h1.35v1.35h-1.35zM412.7 229.1h1.35v1.35h-1.35zM413.7 229.7h1.35v1.35h-1.35zM413.1 234.0h1.35v1.35h-1.35zM412.5 241.4h1.35v1.35h-1.35zM412.9 229.1h1.35v1.35h-1.35zM413.3 229.1h1.35v1.35h-1.35zM413.2 242.7h1.35v1.35h-1.35zM421.8 248.1h1.35v1.35h-1.35zM421.3 229.1h1.35v1.35h-1.35zM422.0 231.3h1.35v1.35h-1.35zM421.8 233.6h1.35v1.35h-1.35zM421.4 246.7h1.35v1.35h-1.35zM422.0 230.6h1.35v1.35h-1.35zM421.4 233.2h1.35v1.35h-1.35zM421.1 231.4h1.35v1.35h-1.35zM430.3 248.1h1.35v1.35h-1.35zM430.2 229.1h1.35v1.35h-1.35zM430.5 229.1h1.35v1.35h-1.35zM430.2 229.2h1.35v1.35h-1.35zM430.5 242.3h1.35v1.35h-1.35zM430.7 229.7h1.35v1.35h-1.35zM430.5 230.3h1.35v1.35h-1.35zM430.2 240.6h1.35v1.35h-1.35zM438.2 248.1h1.35v1.35h-1.35zM438.4 229.1h1.35v1.35h-1.35zM438.4 229.1h1.35v1.35h-1.35zM438.1 230.5h1.35v1.35h-1.35zM438.2 243.9h1.35v1.35h-1.35zM438.1 229.9h1.35v1.35h-1.35zM438.0 232.4h1.35v1.35h-1.35zM438.4 246.9h1.35v1.35h-1.35zM458.1 248.1h1.35v1.35h-1.35zM458.1 229.1h1.35v1.35h-1.35zM458.9 231.8h1.35v1.35h-1.35zM457.8 233.3h1.35v1.35h-1.35zM458.7 237.5h1.35v1.35h-1.35zM457.7 236.4h1.35v1.35h-1.35zM458.5 233.7h1.35v1.35h-1.35zM458.1 239.1h1.35v1.35h-1.35zM466.6 240.1h1.35v1.35h-1.35zM466.2 233.1h1.35v1.35h-1.35zM467.2 237.3h1.35v1.35h-1.35zM466.6 235.5h1.35v1.35h-1.35zM467.0 237.6h1.35v1.35h-1.35zM466.6 235.9h1.35v1.35h-1.35zM466.1 233.6h1.35v1.35h-1.35zM467.0 233.8h1.35v1.35h-1.35zM475.3 238.1h1.35v1.35h-1.35zM475.4 234.1h1.35v1.35h-1.35zM475.3 236.3h1.35v1.35h-1.35zM475.0 236.5h1.35v1.35h-1.35zM474.6 235.0h1.35v1.35h-1.35zM475.0 235.2h1.35v1.35h-1.35zM474.9 235.9h1.35v1.35h-1.35zM475.6 234.5h1.35v1.35h-1.35zM483.3 248.1h1.35v1.35h-1.35zM484.0 221.1h1.35v1.35h-1.35zM483.8 228.2h1.35v1.35h-1.35zM484.1 224.2h1.35v1.35h-1.35zM482.9 230.6h1.35v1.35h-1.35zM484.0 225.9h1.35v1.35h-1.35zM483.4 237.4h1.35v1.35h-1.35zM484.0 246.5h1.35v1.35h-1.35zM492.6 248.1h1.35v1.35h-1.35zM492.2 221.1h1.35v1.35h-1.35zM492.3 236.5h1.35v1.35h-1.35zM491.6 236.2h1.35v1.35h-1.35zM491.4 236.6h1.35v1.35h-1.35zM491.4 230.5h1.35v1.35h-1.35zM491.3 229.0h1.35v1.35h-1.35zM491.6 221.6h1.35v1.35h-1.35zM500.4 248.1h1.35v1.35h-1.35zM499.8 229.1h1.35v1.35h-1.35zM500.5 234.4h1.35v1.35h-1.35zM500.4 238.1h1.35v1.35h-1.35zM500.3 236.0h1.35v1.35h-1.35zM500.8 235.8h1.35v1.35h-1.35zM501.0 234.7h1.35v1.35h-1.35zM500.3 240.1h1.35v1.35h-1.35zM509.6 248.1h1.35v1.35h-1.35zM509.0 228.1h1.35v1.35h-1.35zM509.2 228.4h1.35v1.35h-1.35zM508.2 228.1h1.35v1.35h-1.35zM509.2 243.5h1.35v1.35h-1.35zM509.0 230.4h1.35v1.35h-1.35zM509.3 228.1h1.35v1.35h-1.35zM508.7 235.7h1.35v1.35h-1.35zM247.8 294.9h1.35v1.35h-1.35zM247.0 285.9h1.35v1.35h-1.35zM247.2 290.5h1.35v1.35h-1.35zM247.0 293.0h1.35v1.35h-1.35zM248.1 291.3h1.35v1.35h-1.35zM248.1 290.9h1.35v1.35h-1.35zM248.2 289.2h1.35v1.35h-1.35zM247.5 286.8h1.35v1.35h-1.35zM255.2 295.9h1.35v1.35h-1.35zM255.3 281.9h1.35v1.35h-1.35zM255.7 295.4h1.35v1.35h-1.35zM255.3 289.5h1.35v1.35h-1.35zM256.1 294.1h1.35v1.35h-1.35zM256.6 290.7h1.35v1.35h-1.35zM255.6 294.1h1.35v1.35h-1.35zM256.2 290.5h1.35v1.35h-1.35zM264.6 297.9h1.35v1.35h-1.35zM264.0 277.9h1.35v1.35h-1.35zM263.5 287.5h1.35v1.35h-1.35zM264.7 291.0h1.35v1.35h-1.35zM263.7 291.5h1.35v1.35h-1.35zM264.0 281.0h1.35v1.35h-1.35zM263.6 287.0h1.35v1.35h-1.35zM264.2 294.6h1.35v1.35h-1.35zM273.1 295.9h1.35v1.35h-1.35zM272.1 277.9h1.35v1.35h-1.35zM272.5 286.3h1.35v1.35h-1.35zM272.4 287.9h1.35v1.35h-1.35zM273.0 280.8h1.35v1.35h-1.35zM273.1 287.6h1.35v1.35h-1.35zM271.8 286.2h1.35v1.35h-1.35zM272.2 283.3h1.35v1.35h-1.35zM279.9 298.9h1.35v1.35h-1.35zM280.1 293.9h1.35v1.35h-1.35zM281.3 297.2h1.35v1.35h-1.35zM280.8 298.3h1.35v1.35h-1.35zM280.0 296.2h1.35v1.35h-1.35zM281.0 297.0h1.35v1.35h-1.35zM281.0 295.3h1.35v1.35h-1.35zM280.0 296.5h1.35v1.35h-1.35zM288.6 291.9h1.35v1.35h-1.35zM289.5 286.9h1.35v1.35h-1.35zM288.3 291.7h1.35v1.35h-1.35zM288.9 289.6h1.35v1.35h-1.35zM288.3 289.3h1.35v1.35h-1.35zM288.7 289.3h1.35v1.35h-1.35zM289.4 291.4h1.35v1.35h-1.35zM289.3 287.9h1.35v1.35h-1.35zM297.3 290.9h1.35v1.35h-1.35zM296.9 286.9h1.35v1.35h-1.35zM297.3 290.2h1.35v1.35h-1.35zM296.9 289.4h1.35v1.35h-1.35zM297.6 290.0h1.35v1.35h-1.35zM296.4 289.5h1.35v1.35h-1.35zM297.5 289.8h1.35v1.35h-1.35zM297.7 288.8h1.35v1.35h-1.35zM318.2 298.9h1.35v1.35h-1.35zM317.4 288.9h1.35v1.35h-1.35zM317.1 298.9h1.35v1.35h-1.35zM317.2 296.9h1.35v1.35h-1.35zM317.9 294.2h1.35v1.35h-1.35zM318.2 298.6h1.35v1.35h-1.35zM317.8 296.8h1.35v1.35h-1.35zM318.3 296.4h1.35v1.35h-1.35zM326.0 300.9h1.35v1.35h-1.35zM326.2 285.9h1.35v1.35h-1.35zM325.5 298.0h1.35v1.35h-1.35zM326.2 297.8h1.35v1.35h-1.35zM325.6 300.8h1.35v1.35h-1.35zM326.1 296.3h1.35v1.35h-1.35zM326.6 297.1h1.35v1.35h-1.35zM326.1 289.6h1.35v1.35h-1.35zM334.0 299.9h1.35v1.35h-1.35zM334.7 280.9h1.35v1.35h-1.35zM333.8 287.5h1.35v1.35h-1.35zM334.6 282.3h1.35v1.35h-1.35zM333.6 294.8h1.35v1.35h-1.35zM334.2 290.1h1.35v1.35h-1.35zM334.1 287.2h1.35v1.35h-1.35zM334.4 299.2h1.35v1.35h-1.35zM342.3 297.9h1.35v1.35h-1.35zM343.2 285.9h1.35v1.35h-1.35zM343.0 295.7h1.35v1.35h-1.35zM342.7 293.9h1.35v1.35h-1.35zM343.2 295.5h1.35v1.35h-1.35zM343.1 295.3h1.35v1.35h-1.35zM342.0 293.4h1.35v1.35h-1.35zM341.9 296.6h1.35v1.35h-1.35zM350.4 300.9h1.35v1.35h-1.35zM351.4 293.9h1.35v1.35h-1.35zM350.4 298.3h1.35v1.35h-1.35zM351.4 295.5h1.35v1.35h-1.35zM350.7 298.0h1.35v1.35h-1.35zM351.0 300.3h1.35v1.35h-1.35zM350.5 299.2h1.35v1.35h-1.35zM351.3 294.8h1.35v1.35h-1.35zM359.0 300.9h1.35v1.35h-1.35zM359.1 288.9h1.35v1.35h-1.35zM358.5 293.7h1.35v1.35h-1.35zM358.6 298.4h1.35v1.35h-1.35zM359.7 296.5h1.35v1.35h-1.35zM359.1 294.8h1.35v1.35h-1.35zM359.4 297.7h1.35v1.35h-1.35zM359.1 290.1h1.35v1.35h-1.35zM367.7 295.9h1.35v1.35h-1.35zM367.5 287.9h1.35v1.35h-1.35zM367.8 292.6h1.35v1.35h-1.35zM367.9 293.9h1.35v1.35h-1.35zM367.7 289.1h1.35v1.35h-1.35zM366.9 292.6h1.35v1.35h-1.35zM367.4 293.4h1.35v1.35h-1.35zM366.8 295.5h1.35v1.35h-1.35zM387.5 297.9h1.35v1.35h-1.35zM387.5 289.9h1.35v1.35h-1.35zM388.3 292.8h1.35v1.35h-1.35zM388.0 294.6h1.35v1.35h-1.35zM388.6 294.9h1.35v1.35h-1.35zM388.0 292.3h1.35v1.35h-1.35zM387.4 295.3h1.35v1.35h-1.35zM388.0 289.9h1.35v1.35h-1.35zM396.9 297.9h1.35v1.35h-1.35zM396.2 284.9h1.35v1.35h-1.35zM396.8 293.7h1.35v1.35h-1.35zM395.9 291.1h1.35v1.35h-1.35zM396.2 289.0h1.35v1.35h-1.35zM396.1 294.3h1.35v1.35h-1.35zM396.0 291.8h1.35v1.35h-1.35zM395.9 293.1h1.35v1.35h-1.35zM404.4 296.9h1.35v1.35h-1.35zM405.4 280.9h1.35v1.35h-1.35zM405.5 285.6h1.35v1.35h-1.35zM405.1 287.4h1.35v1.35h-1.35zM405.4 293.1h1.35v1.35h-1.35zM404.9 290.5h1.35v1.35h-1.35zM405.2 286.6h1.35v1.35h-1.35zM404.7 292.4h1.35v1.35h-1.35zM413.8 296.9h1.35v1.35h-1.35zM412.6 284.9h1.35v1.35h-1.35zM413.1 287.2h1.35v1.35h-1.35zM412.9 289.9h1.35v1.35h-1.35zM413.4 287.9h1.35v1.35h-1.35zM413.1 289.1h1.35v1.35h-1.35zM413.7 288.6h1.35v1.35h-1.35zM412.8 296.5h1.35v1.35h-1.35zM421.4 300.9h1.35v1.35h-1.35zM422.3 297.9h1.35v1.35h-1.35zM421.1 298.9h1.35v1.35h-1.35zM422.0 298.3h1.35v1.35h-1.35zM421.7 299.8h1.35v1.35h-1.35zM421.3 299.3h1.35v1.35h-1.35zM421.5 298.2h1.35v1.35h-1.35zM421.4 298.0h1.35v1.35h-1.35zM430.3 295.9h1.35v1.35h-1.35zM430.3 283.9h1.35v1.35h-1.35zM430.6 289.8h1.35v1.35h-1.35zM429.7 292.8h1.35v1.35h-1.35zM430.7 287.0h1.35v1.35h-1.35zM430.2 293.8h1.35v1.35h-1.35zM429.8 290.8h1.35v1.35h-1.35zM430.3 286.7h1.35v1.35h-1.35zM438.2 297.9h1.35v1.35h-1.35zM438.2 288.9h1.35v1.35h-1.35zM438.0 293.2h1.35v1.35h-1.35zM438.5 293.4h1.35v1.35h-1.35zM438.9 294.7h1.35v1.35h-1.35zM437.9 293.8h1.35v1.35h-1.35zM438.4 292.7h1.35v1.35h-1.35zM438.1 290.2h1.35v1.35h-1.35zM458.1 300.9h1.35v1.35h-1.35zM458.9 295.9h1.35v1.35h-1.35zM457.9 299.2h1.35v1.35h-1.35zM458.2 297.6h1.35v1.35h-1.35zM457.8 296.8h1.35v1.35h-1.35zM458.7 297.7h1.35v1.35h-1.35zM458.2 298.2h1.35v1.35h-1.35zM458.7 296.6h1.35v1.35h-1.35zM466.2 300.9h1.35v1.35h-1.35zM466.3 287.9h1.35v1.35h-1.35zM466.6 300.9h1.35v1.35h-1.35zM467.2 300.8h1.35v1.35h-1.35zM466.9 296.8h1.35v1.35h-1.35zM466.6 295.0h1.35v1.35h-1.35zM466.8 297.9h1.35v1.35h-1.35zM466.5 292.4h1.35v1.35h-1.35zM475.2 299.9h1.35v1.35h-1.35zM474.4 289.9h1.35v1.35h-1.35zM475.6 290.7h1.35v1.35h-1.35zM474.6 289.9h1.35v1.35h-1.35zM475.5 290.6h1.35v1.35h-1.35zM475.6 291.7h1.35v1.35h-1.35zM474.8 290.8h1.35v1.35h-1.35zM475.2 299.3h1.35v1.35h-1.35zM483.0 297.9h1.35v1.35h-1.35zM483.2 293.9h1.35v1.35h-1.35zM483.8 296.5h1.35v1.35h-1.35zM483.4 295.8h1.35v1.35h-1.35zM483.5 295.1h1.35v1.35h-1.35zM483.2 295.9h1.35v1.35h-1.35zM483.2 295.4h1.35v1.35h-1.35zM483.8 297.2h1.35v1.35h-1.35zM491.9 301.9h1.35v1.35h-1.35zM491.7 295.9h1.35v1.35h-1.35zM491.9 300.1h1.35v1.35h-1.35zM492.1 301.8h1.35v1.35h-1.35zM492.5 296.3h1.35v1.35h-1.35zM491.8 299.5h1.35v1.35h-1.35zM492.1 301.9h1.35v1.35h-1.35zM491.7 300.2h1.35v1.35h-1.35zM500.4 299.9h1.35v1.35h-1.35zM500.9 288.9h1.35v1.35h-1.35zM500.9 299.7h1.35v1.35h-1.35zM501.0 299.6h1.35v1.35h-1.35zM500.7 297.7h1.35v1.35h-1.35zM500.4 296.9h1.35v1.35h-1.35zM500.4 297.2h1.35v1.35h-1.35zM500.9 291.9h1.35v1.35h-1.35zM509.1 299.9h1.35v1.35h-1.35zM509.3 292.9h1.35v1.35h-1.35zM509.4 297.0h1.35v1.35h-1.35zM508.5 295.9h1.35v1.35h-1.35zM509.4 296.4h1.35v1.35h-1.35zM508.3 296.2h1.35v1.35h-1.35zM508.9 297.5h1.35v1.35h-1.35zM509.3 295.9h1.35v1.35h-1.35z" fill="#2c3c80" opacity="1" filter="url(#bdot)"/>
<path d="M251.0 84.6h1.35v1.35h-1.35zM250.5 76.5h1.35v1.35h-1.35zM250.2 81.1h1.35v1.35h-1.35zM251.3 81.2h1.35v1.35h-1.35zM250.8 79.5h1.35v1.35h-1.35zM251.1 79.5h1.35v1.35h-1.35zM251.4 81.8h1.35v1.35h-1.35zM251.1 78.6h1.35v1.35h-1.35zM251.4 80.8h1.35v1.35h-1.35zM250.7 81.0h1.35v1.35h-1.35zM251.2 78.5h1.35v1.35h-1.35zM259.7 81.9h1.35v1.35h-1.35zM259.6 49.5h1.35v1.35h-1.35zM259.2 79.9h1.35v1.35h-1.35zM259.4 75.7h1.35v1.35h-1.35zM258.7 59.8h1.35v1.35h-1.35zM259.5 60.2h1.35v1.35h-1.35zM259.2 74.4h1.35v1.35h-1.35zM258.8 49.8h1.35v1.35h-1.35zM258.5 71.3h1.35v1.35h-1.35zM259.6 72.6h1.35v1.35h-1.35zM259.8 54.0h1.35v1.35h-1.35zM266.8 77.9h1.35v1.35h-1.35zM266.7 67.1h1.35v1.35h-1.35zM267.8 77.6h1.35v1.35h-1.35zM267.1 71.3h1.35v1.35h-1.35zM268.0 74.5h1.35v1.35h-1.35zM267.9 69.0h1.35v1.35h-1.35zM267.2 70.0h1.35v1.35h-1.35zM267.3 77.5h1.35v1.35h-1.35zM267.4 70.5h1.35v1.35h-1.35zM267.5 69.4h1.35v1.35h-1.35zM267.5 71.3h1.35v1.35h-1.35zM275.9 79.2h1.35v1.35h-1.35zM274.9 68.4h1.35v1.35h-1.35zM275.0 71.9h1.35v1.35h-1.35zM275.8 74.1h1.35v1.35h-1.35zM276.2 72.4h1.35v1.35h-1.35zM275.2 72.0h1.35v1.35h-1.35zM275.5 73.4h1.35v1.35h-1.35zM275.7 74.2h1.35v1.35h-1.35zM275.3 75.1h1.35v1.35h-1.35zM275.4 75.9h1.35v1.35h-1.35zM275.3 71.6h1.35v1.35h-1.35zM284.0 86.0h1.35v1.35h-1.35zM284.4 76.5h1.35v1.35h-1.35zM283.8 81.3h1.35v1.35h-1.35zM283.4 81.8h1.35v1.35h-1.35zM283.3 82.9h1.35v1.35h-1.35zM283.9 82.6h1.35v1.35h-1.35zM283.4 78.5h1.35v1.35h-1.35zM284.3 81.8h1.35v1.35h-1.35zM284.3 80.5h1.35v1.35h-1.35zM283.4 81.9h1.35v1.35h-1.35zM283.5 82.8h1.35v1.35h-1.35zM292.5 83.3h1.35v1.35h-1.35zM292.3 77.9h1.35v1.35h-1.35zM292.1 79.0h1.35v1.35h-1.35zM291.8 81.1h1.35v1.35h-1.35zM291.9 78.5h1.35v1.35h-1.35zM291.7 80.2h1.35v1.35h-1.35zM291.5 81.2h1.35v1.35h-1.35zM292.2 78.1h1.35v1.35h-1.35zM291.8 80.5h1.35v1.35h-1.35zM292.5 81.4h1.35v1.35h-1.35zM291.4 79.2h1.35v1.35h-1.35zM300.8 85.2h1.35v1.35h-1.35zM299.9 77.1h1.35v1.35h-1.35zM300.7 83.4h1.35v1.35h-1.35zM300.9 83.3h1.35v1.35h-1.35zM300.8 83.1h1.35v1.35h-1.35zM300.8 81.5h1.35v1.35h-1.35zM299.6 83.6h1.35v1.35h-1.35zM300.5 78.8h1.35v1.35h-1.35zM300.8 83.0h1.35v1.35h-1.35zM299.7 81.7h1.35v1.35h-1.35zM300.0 80.8h1.35v1.35h-1.35zM320.9 84.8h1.35v1.35h-1.35zM321.1 76.2h1.35v1.35h-1.35zM320.7 82.8h1.35v1.35h-1.35zM320.2 81.1h1.35v1.35h-1.35zM320.4 81.8h1.35v1.35h-1.35zM320.6 83.4h1.35v1.35h-1.35zM321.0 83.8h1.35v1.35h-1.35zM321.2 81.7h1.35v1.35h-1.35zM320.7 81.8h1.35v1.35h-1.35zM321.2 81.1h1.35v1.35h-1.35zM321.0 83.7h1.35v1.35h-1.35zM329.7 73.2h1.35v1.35h-1.35zM329.5 50.9h1.35v1.35h-1.35zM329.4 57.7h1.35v1.35h-1.35zM329.5 62.4h1.35v1.35h-1.35zM329.2 53.2h1.35v1.35h-1.35zM328.6 60.3h1.35v1.35h-1.35zM329.2 63.8h1.35v1.35h-1.35zM328.4 62.8h1.35v1.35h-1.35zM328.6 56.2h1.35v1.35h-1.35zM329.5 56.3h1.35v1.35h-1.35zM328.5 58.4h1.35v1.35h-1.35zM337.9 75.2h1.35v1.35h-1.35zM337.1 63.0h1.35v1.35h-1.35zM337.0 68.3h1.35v1.35h-1.35zM337.1 71.0h1.35v1.35h-1.35zM337.6 66.5h1.35v1.35h-1.35zM337.8 66.0h1.35v1.35h-1.35zM337.3 66.5h1.35v1.35h-1.35zM337.2 63.8h1.35v1.35h-1.35zM337.3 66.9h1.35v1.35h-1.35zM337.2 67.9h1.35v1.35h-1.35zM337.3 68.3h1.35v1.35h-1.35zM345.8 80.7h1.35v1.35h-1.35zM345.5 77.2h1.35v1.35h-1.35zM345.4 77.9h1.35v1.35h-1.35zM346.0 78.2h1.35v1.35h-1.35zM346.4 77.5h1.35v1.35h-1.35zM345.4 79.4h1.35v1.35h-1.35zM346.0 78.8h1.35v1.35h-1.35zM345.6 78.2h1.35v1.35h-1.35zM346.2 78.5h1.35v1.35h-1.35zM345.8 78.3h1.35v1.35h-1.35zM345.4 80.0h1.35v1.35h-1.35zM353.6 86.3h1.35v1.35h-1.35zM353.7 81.3h1.35v1.35h-1.35zM354.3 84.3h1.35v1.35h-1.35zM354.3 85.8h1.35v1.35h-1.35zM354.7 83.9h1.35v1.35h-1.35zM354.5 85.1h1.35v1.35h-1.35zM353.7 86.3h1.35v1.35h-1.35zM353.6 84.3h1.35v1.35h-1.35zM353.7 85.0h1.35v1.35h-1.35zM353.6 86.3h1.35v1.35h-1.35zM354.3 83.9h1.35v1.35h-1.35zM361.8 86.8h1.35v1.35h-1.35zM362.0 80.2h1.35v1.35h-1.35zM362.6 83.8h1.35v1.35h-1.35zM361.8 84.8h1.35v1.35h-1.35zM362.9 83.9h1.35v1.35h-1.35zM362.9 85.5h1.35v1.35h-1.35zM361.8 84.7h1.35v1.35h-1.35zM362.9 83.0h1.35v1.35h-1.35zM362.1 83.7h1.35v1.35h-1.35zM362.7 85.1h1.35v1.35h-1.35zM362.7 83.2h1.35v1.35h-1.35zM370.1 85.8h1.35v1.35h-1.35zM370.4 81.3h1.35v1.35h-1.35zM370.9 83.7h1.35v1.35h-1.35zM370.8 83.5h1.35v1.35h-1.35zM370.7 82.9h1.35v1.35h-1.35zM370.8 83.6h1.35v1.35h-1.35zM370.6 83.6h1.35v1.35h-1.35zM370.4 81.8h1.35v1.35h-1.35zM370.2 83.5h1.35v1.35h-1.35zM370.0 83.6h1.35v1.35h-1.35zM370.9 81.6h1.35v1.35h-1.35zM391.5 86.8h1.35v1.35h-1.35zM390.8 84.8h1.35v1.35h-1.35zM390.8 86.4h1.35v1.35h-1.35zM391.1 86.0h1.35v1.35h-1.35zM391.6 86.1h1.35v1.35h-1.35zM391.7 85.7h1.35v1.35h-1.35zM391.6 86.0h1.35v1.35h-1.35zM391.4 86.3h1.35v1.35h-1.35zM390.7 85.7h1.35v1.35h-1.35zM391.1 85.7h1.35v1.35h-1.35zM390.8 85.3h1.35v1.35h-1.35zM399.6 86.3h1.35v1.35h-1.35zM399.7 49.8h1.35v1.35h-1.35zM399.6 71.8h1.35v1.35h-1.35zM399.2 74.6h1.35v1.35h-1.35zM399.7 54.9h1.35v1.35h-1.35zM399.0 78.0h1.35v1.35h-1.35zM399.6 69.0h1.35v1.35h-1.35zM399.8 59.8h1.35v1.35h-1.35zM399.5 59.4h1.35v1.35h-1.35zM399.7 69.7h1.35v1.35h-1.35zM400.3 62.2h1.35v1.35h-1.35zM407.9 83.3h1.35v1.35h-1.35zM408.4 73.3h1.35v1.35h-1.35zM408.0 77.4h1.35v1.35h-1.35zM407.5 80.6h1.35v1.35h-1.35zM407.4 74.1h1.35v1.35h-1.35zM407.4 79.4h1.35v1.35h-1.35zM407.6 81.5h1.35v1.35h-1.35zM407.6 79.9h1.35v1.35h-1.35zM408.0 77.5h1.35v1.35h-1.35zM408.3 82.4h1.35v1.35h-1.35zM408.1 74.7h1.35v1.35h-1.35zM416.0 84.8h1.35v1.35h-1.35zM415.8 77.3h1.35v1.35h-1.35zM415.9 81.5h1.35v1.35h-1.35zM416.0 82.3h1.35v1.35h-1.35zM416.4 79.0h1.35v1.35h-1.35zM415.8 81.5h1.35v1.35h-1.35zM415.8 81.2h1.35v1.35h-1.35zM416.4 83.4h1.35v1.35h-1.35zM416.3 82.1h1.35v1.35h-1.35zM416.7 81.6h1.35v1.35h-1.35zM415.8 81.8h1.35v1.35h-1.35zM424.3 86.8h1.35v1.35h-1.35zM425.1 85.8h1.35v1.35h-1.35zM425.5 86.3h1.35v1.35h-1.35zM425.0 86.5h1.35v1.35h-1.35zM424.1 85.9h1.35v1.35h-1.35zM424.2 86.4h1.35v1.35h-1.35zM424.3 86.2h1.35v1.35h-1.35zM424.4 86.6h1.35v1.35h-1.35zM424.2 86.2h1.35v1.35h-1.35zM424.2 86.5h1.35v1.35h-1.35zM425.0 86.5h1.35v1.35h-1.35zM433.3 86.8h1.35v1.35h-1.35zM433.8 85.8h1.35v1.35h-1.35zM433.0 86.2h1.35v1.35h-1.35zM433.1 86.2h1.35v1.35h-1.35zM432.8 86.5h1.35v1.35h-1.35zM433.6 86.5h1.35v1.35h-1.35zM433.2 86.7h1.35v1.35h-1.35zM432.9 86.7h1.35v1.35h-1.35zM432.8 86.3h1.35v1.35h-1.35zM433.5 86.6h1.35v1.35h-1.35zM433.4 86.0h1.35v1.35h-1.35zM441.1 86.8h1.35v1.35h-1.35zM441.7 85.8h1.35v1.35h-1.35zM441.1 86.2h1.35v1.35h-1.35zM441.0 86.5h1.35v1.35h-1.35zM441.8 85.9h1.35v1.35h-1.35zM441.3 86.3h1.35v1.35h-1.35zM441.0 86.5h1.35v1.35h-1.35zM441.1 86.5h1.35v1.35h-1.35zM441.8 86.2h1.35v1.35h-1.35zM441.7 86.3h1.35v1.35h-1.35zM440.9 85.9h1.35v1.35h-1.35zM461.6 85.9h1.35v1.35h-1.35zM461.8 80.0h1.35v1.35h-1.35zM461.9 81.9h1.35v1.35h-1.35zM461.2 84.0h1.35v1.35h-1.35zM461.6 84.7h1.35v1.35h-1.35zM461.3 84.1h1.35v1.35h-1.35zM460.9 84.7h1.35v1.35h-1.35zM461.9 83.2h1.35v1.35h-1.35zM461.6 84.1h1.35v1.35h-1.35zM461.9 82.6h1.35v1.35h-1.35zM461.0 82.3h1.35v1.35h-1.35zM470.6 67.0h1.35v1.35h-1.35zM470.0 43.7h1.35v1.35h-1.35zM470.5 52.3h1.35v1.35h-1.35zM469.9 55.9h1.35v1.35h-1.35zM469.8 56.9h1.35v1.35h-1.35zM470.5 53.5h1.35v1.35h-1.35zM470.4 54.4h1.35v1.35h-1.35zM470.5 63.1h1.35v1.35h-1.35zM469.9 50.1h1.35v1.35h-1.35zM470.3 58.4h1.35v1.35h-1.35zM469.7 46.6h1.35v1.35h-1.35zM478.7 75.2h1.35v1.35h-1.35zM478.6 65.5h1.35v1.35h-1.35zM479.0 72.8h1.35v1.35h-1.35zM479.0 69.1h1.35v1.35h-1.35zM478.9 68.0h1.35v1.35h-1.35zM478.1 71.5h1.35v1.35h-1.35zM477.9 70.6h1.35v1.35h-1.35zM478.1 72.3h1.35v1.35h-1.35zM478.3 71.9h1.35v1.35h-1.35zM478.4 71.0h1.35v1.35h-1.35zM478.4 73.7h1.35v1.35h-1.35zM486.1 80.0h1.35v1.35h-1.35zM486.7 75.2h1.35v1.35h-1.35zM486.5 77.1h1.35v1.35h-1.35zM486.1 77.5h1.35v1.35h-1.35zM486.8 76.3h1.35v1.35h-1.35zM486.2 79.8h1.35v1.35h-1.35zM486.5 77.1h1.35v1.35h-1.35zM486.4 76.2h1.35v1.35h-1.35zM487.2 77.4h1.35v1.35h-1.35zM486.7 77.7h1.35v1.35h-1.35zM486.4 79.2h1.35v1.35h-1.35zM495.4 86.8h1.35v1.35h-1.35zM495.1 84.4h1.35v1.35h-1.35zM495.3 85.8h1.35v1.35h-1.35zM494.8 85.8h1.35v1.35h-1.35zM494.8 85.3h1.35v1.35h-1.35zM495.5 85.2h1.35v1.35h-1.35zM495.9 86.4h1.35v1.35h-1.35zM495.3 85.7h1.35v1.35h-1.35zM495.1 86.3h1.35v1.35h-1.35zM495.0 86.7h1.35v1.35h-1.35zM495.2 84.9h1.35v1.35h-1.35zM504.3 86.8h1.35v1.35h-1.35zM503.9 84.4h1.35v1.35h-1.35zM503.2 86.2h1.35v1.35h-1.35zM504.3 85.8h1.35v1.35h-1.35zM503.2 85.1h1.35v1.35h-1.35zM503.5 85.7h1.35v1.35h-1.35zM504.1 86.0h1.35v1.35h-1.35zM503.4 85.2h1.35v1.35h-1.35zM503.4 86.2h1.35v1.35h-1.35zM504.3 85.5h1.35v1.35h-1.35zM504.3 84.7h1.35v1.35h-1.35zM511.5 86.4h1.35v1.35h-1.35zM511.8 83.9h1.35v1.35h-1.35zM512.8 85.4h1.35v1.35h-1.35zM511.6 85.4h1.35v1.35h-1.35zM512.7 85.7h1.35v1.35h-1.35zM511.7 85.2h1.35v1.35h-1.35zM512.8 85.4h1.35v1.35h-1.35zM512.4 85.7h1.35v1.35h-1.35zM512.3 85.7h1.35v1.35h-1.35zM511.6 85.4h1.35v1.35h-1.35zM511.5 85.0h1.35v1.35h-1.35zM250.5 136.2h1.35v1.35h-1.35zM250.6 125.5h1.35v1.35h-1.35zM251.5 130.3h1.35v1.35h-1.35zM250.8 130.1h1.35v1.35h-1.35zM251.1 132.4h1.35v1.35h-1.35zM250.6 130.2h1.35v1.35h-1.35zM250.2 131.2h1.35v1.35h-1.35zM250.6 134.1h1.35v1.35h-1.35zM251.2 125.5h1.35v1.35h-1.35zM251.2 133.1h1.35v1.35h-1.35zM250.9 125.7h1.35v1.35h-1.35zM259.8 129.5h1.35v1.35h-1.35zM259.3 108.2h1.35v1.35h-1.35zM259.1 119.9h1.35v1.35h-1.35zM259.4 119.1h1.35v1.35h-1.35zM258.5 108.7h1.35v1.35h-1.35zM259.1 126.3h1.35v1.35h-1.35zM259.0 116.3h1.35v1.35h-1.35zM258.6 127.1h1.35v1.35h-1.35zM259.2 113.0h1.35v1.35h-1.35zM258.8 119.6h1.35v1.35h-1.35zM259.1 112.6h1.35v1.35h-1.35zM267.4 128.2h1.35v1.35h-1.35zM267.2 108.2h1.35v1.35h-1.35zM267.5 122.8h1.35v1.35h-1.35zM266.7 116.2h1.35v1.35h-1.35zM267.2 122.5h1.35v1.35h-1.35zM267.8 116.6h1.35v1.35h-1.35zM267.7 121.0h1.35v1.35h-1.35zM266.7 118.6h1.35v1.35h-1.35zM267.8 126.9h1.35v1.35h-1.35zM267.2 121.5h1.35v1.35h-1.35zM268.0 108.5h1.35v1.35h-1.35zM274.9 130.9h1.35v1.35h-1.35zM275.6 116.2h1.35v1.35h-1.35zM276.2 125.4h1.35v1.35h-1.35zM275.6 124.9h1.35v1.35h-1.35zM275.9 127.6h1.35v1.35h-1.35zM276.0 126.5h1.35v1.35h-1.35zM276.0 121.7h1.35v1.35h-1.35zM276.2 128.8h1.35v1.35h-1.35zM275.5 122.3h1.35v1.35h-1.35zM275.8 123.1h1.35v1.35h-1.35zM275.0 126.7h1.35v1.35h-1.35zM284.1 136.2h1.35v1.35h-1.35zM283.2 124.2h1.35v1.35h-1.35zM283.7 129.8h1.35v1.35h-1.35zM284.2 127.6h1.35v1.35h-1.35zM284.5 130.1h1.35v1.35h-1.35zM283.2 132.1h1.35v1.35h-1.35zM283.1 128.4h1.35v1.35h-1.35zM283.8 128.3h1.35v1.35h-1.35zM283.7 130.4h1.35v1.35h-1.35zM284.4 129.2h1.35v1.35h-1.35zM284.3 124.4h1.35v1.35h-1.35zM292.6 136.2h1.35v1.35h-1.35zM291.6 126.9h1.35v1.35h-1.35zM292.1 133.9h1.35v1.35h-1.35zM292.2 130.3h1.35v1.35h-1.35zM291.9 131.2h1.35v1.35h-1.35zM292.5 131.8h1.35v1.35h-1.35zM292.6 126.9h1.35v1.35h-1.35zM292.6 130.0h1.35v1.35h-1.35zM292.4 131.9h1.35v1.35h-1.35zM291.7 131.0h1.35v1.35h-1.35zM291.5 133.4h1.35v1.35h-1.35zM300.6 137.5h1.35v1.35h-1.35zM300.1 128.2h1.35v1.35h-1.35zM299.8 134.5h1.35v1.35h-1.35zM299.9 130.2h1.35v1.35h-1.35zM300.2 129.8h1.35v1.35h-1.35zM300.4 130.7h1.35v1.35h-1.35zM300.0 131.6h1.35v1.35h-1.35zM300.6 133.9h1.35v1.35h-1.35zM299.9 131.7h1.35v1.35h-1.35zM300.6 131.1h1.35v1.35h-1.35zM300.5 135.1h1.35v1.35h-1.35zM320.6 141.5h1.35v1.35h-1.35zM321.2 132.2h1.35v1.35h-1.35zM320.9 138.0h1.35v1.35h-1.35zM320.3 138.5h1.35v1.35h-1.35zM320.9 133.9h1.35v1.35h-1.35zM321.3 136.1h1.35v1.35h-1.35zM320.8 137.6h1.35v1.35h-1.35zM320.9 132.2h1.35v1.35h-1.35zM321.3 138.5h1.35v1.35h-1.35zM320.8 137.4h1.35v1.35h-1.35zM320.8 134.8h1.35v1.35h-1.35zM329.0 138.2h1.35v1.35h-1.35zM328.6 123.5h1.35v1.35h-1.35zM329.2 130.5h1.35v1.35h-1.35zM328.9 133.9h1.35v1.35h-1.35zM329.4 127.4h1.35v1.35h-1.35zM328.7 135.8h1.35v1.35h-1.35zM329.0 131.9h1.35v1.35h-1.35zM328.7 129.9h1.35v1.35h-1.35zM329.0 134.2h1.35v1.35h-1.35zM329.2 130.4h1.35v1.35h-1.35zM328.6 129.9h1.35v1.35h-1.35zM337.4 133.5h1.35v1.35h-1.35zM337.0 108.2h1.35v1.35h-1.35zM337.0 119.5h1.35v1.35h-1.35zM338.1 122.3h1.35v1.35h-1.35zM337.8 109.5h1.35v1.35h-1.35zM337.8 126.0h1.35v1.35h-1.35zM338.0 120.9h1.35v1.35h-1.35zM336.9 126.9h1.35v1.35h-1.35zM337.7 118.9h1.35v1.35h-1.35zM337.8 122.1h1.35v1.35h-1.35zM337.0 119.0h1.35v1.35h-1.35zM346.1 138.9h1.35v1.35h-1.35zM345.7 130.2h1.35v1.35h-1.35zM346.4 135.1h1.35v1.35h-1.35zM346.2 136.6h1.35v1.35h-1.35zM346.0 134.1h1.35v1.35h-1.35zM345.5 136.8h1.35v1.35h-1.35zM345.1 136.3h1.35v1.35h-1.35zM345.8 138.5h1.35v1.35h-1.35zM346.1 134.5h1.35v1.35h-1.35zM346.3 133.7h1.35v1.35h-1.35zM345.3 137.0h1.35v1.35h-1.35zM353.3 139.5h1.35v1.35h-1.35zM353.7 134.9h1.35v1.35h-1.35zM354.3 136.5h1.35v1.35h-1.35zM353.6 136.8h1.35v1.35h-1.35zM353.4 135.9h1.35v1.35h-1.35zM354.1 137.5h1.35v1.35h-1.35zM353.8 136.3h1.35v1.35h-1.35zM354.7 134.9h1.35v1.35h-1.35zM353.5 137.3h1.35v1.35h-1.35zM354.4 137.2h1.35v1.35h-1.35zM353.9 136.3h1.35v1.35h-1.35zM362.5 139.5h1.35v1.35h-1.35zM362.6 134.9h1.35v1.35h-1.35zM362.7 137.4h1.35v1.35h-1.35zM362.4 137.2h1.35v1.35h-1.35zM362.2 139.4h1.35v1.35h-1.35zM362.1 136.2h1.35v1.35h-1.35zM361.7 136.7h1.35v1.35h-1.35zM362.7 138.6h1.35v1.35h-1.35zM362.3 137.4h1.35v1.35h-1.35zM361.8 137.1h1.35v1.35h-1.35zM362.9 136.0h1.35v1.35h-1.35zM370.6 138.9h1.35v1.35h-1.35zM370.3 133.5h1.35v1.35h-1.35zM370.4 135.9h1.35v1.35h-1.35zM370.1 136.8h1.35v1.35h-1.35zM370.8 138.8h1.35v1.35h-1.35zM370.0 137.3h1.35v1.35h-1.35zM371.3 138.6h1.35v1.35h-1.35zM370.0 134.0h1.35v1.35h-1.35zM371.3 135.6h1.35v1.35h-1.35zM370.2 136.5h1.35v1.35h-1.35zM370.0 137.2h1.35v1.35h-1.35zM391.2 140.0h1.35v1.35h-1.35zM390.9 131.5h1.35v1.35h-1.35zM391.0 137.0h1.35v1.35h-1.35zM391.4 138.3h1.35v1.35h-1.35zM391.6 136.7h1.35v1.35h-1.35zM391.9 138.4h1.35v1.35h-1.35zM391.2 136.1h1.35v1.35h-1.35zM390.8 139.8h1.35v1.35h-1.35zM391.0 137.3h1.35v1.35h-1.35zM390.6 134.3h1.35v1.35h-1.35zM390.9 137.8h1.35v1.35h-1.35zM399.9 136.5h1.35v1.35h-1.35zM399.1 110.0h1.35v1.35h-1.35zM400.0 129.0h1.35v1.35h-1.35zM399.6 133.2h1.35v1.35h-1.35zM399.5 117.3h1.35v1.35h-1.35zM399.6 129.5h1.35v1.35h-1.35zM399.5 125.9h1.35v1.35h-1.35zM399.2 130.5h1.35v1.35h-1.35zM399.5 127.0h1.35v1.35h-1.35zM399.8 123.3h1.35v1.35h-1.35zM399.9 119.5h1.35v1.35h-1.35zM407.7 139.0h1.35v1.35h-1.35zM407.4 114.0h1.35v1.35h-1.35zM408.7 123.8h1.35v1.35h-1.35zM407.8 130.0h1.35v1.35h-1.35zM407.9 135.4h1.35v1.35h-1.35zM408.7 125.8h1.35v1.35h-1.35zM407.7 119.9h1.35v1.35h-1.35zM407.4 128.5h1.35v1.35h-1.35zM408.6 129.3h1.35v1.35h-1.35zM407.7 123.4h1.35v1.35h-1.35zM407.6 115.8h1.35v1.35h-1.35zM415.9 140.0h1.35v1.35h-1.35zM416.3 127.5h1.35v1.35h-1.35zM415.8 134.7h1.35v1.35h-1.35zM417.0 135.7h1.35v1.35h-1.35zM416.1 136.9h1.35v1.35h-1.35zM416.1 134.7h1.35v1.35h-1.35zM417.0 133.9h1.35v1.35h-1.35zM416.0 127.9h1.35v1.35h-1.35zM417.0 131.2h1.35v1.35h-1.35zM416.2 137.6h1.35v1.35h-1.35zM416.7 133.1h1.35v1.35h-1.35zM425.2 141.5h1.35v1.35h-1.35zM424.8 135.5h1.35v1.35h-1.35zM424.3 137.4h1.35v1.35h-1.35zM424.4 137.5h1.35v1.35h-1.35zM425.3 138.3h1.35v1.35h-1.35zM424.8 138.8h1.35v1.35h-1.35zM424.7 137.5h1.35v1.35h-1.35zM424.8 139.8h1.35v1.35h-1.35zM425.3 139.8h1.35v1.35h-1.35zM424.7 137.9h1.35v1.35h-1.35zM424.6 138.9h1.35v1.35h-1.35zM432.7 141.5h1.35v1.35h-1.35zM433.6 136.5h1.35v1.35h-1.35zM433.2 139.0h1.35v1.35h-1.35zM433.6 138.7h1.35v1.35h-1.35zM433.6 138.8h1.35v1.35h-1.35zM433.9 138.2h1.35v1.35h-1.35zM433.5 140.4h1.35v1.35h-1.35zM433.8 137.1h1.35v1.35h-1.35zM433.3 138.8h1.35v1.35h-1.35zM432.6 139.1h1.35v1.35h-1.35zM433.8 139.6h1.35v1.35h-1.35zM441.1 141.5h1.35v1.35h-1.35zM442.1 135.5h1.35v1.35h-1.35zM441.5 139.8h1.35v1.35h-1.35zM441.7 139.7h1.35v1.35h-1.35zM441.9 137.3h1.35v1.35h-1.35zM441.1 137.9h1.35v1.35h-1.35zM441.9 138.5h1.35v1.35h-1.35zM442.0 138.3h1.35v1.35h-1.35zM442.1 137.8h1.35v1.35h-1.35zM441.3 138.7h1.35v1.35h-1.35zM441.3 138.0h1.35v1.35h-1.35zM462.1 141.5h1.35v1.35h-1.35zM461.6 131.5h1.35v1.35h-1.35zM461.4 138.9h1.35v1.35h-1.35zM461.6 138.5h1.35v1.35h-1.35zM461.6 131.9h1.35v1.35h-1.35zM461.6 138.6h1.35v1.35h-1.35zM461.4 137.0h1.35v1.35h-1.35zM461.5 140.5h1.35v1.35h-1.35zM461.4 138.9h1.35v1.35h-1.35zM461.9 135.7h1.35v1.35h-1.35zM461.0 137.9h1.35v1.35h-1.35zM469.8 139.0h1.35v1.35h-1.35zM469.9 110.5h1.35v1.35h-1.35zM469.2 131.8h1.35v1.35h-1.35zM470.3 124.2h1.35v1.35h-1.35zM469.6 126.1h1.35v1.35h-1.35zM469.6 139.0h1.35v1.35h-1.35zM470.1 137.1h1.35v1.35h-1.35zM470.0 120.2h1.35v1.35h-1.35zM469.9 132.8h1.35v1.35h-1.35zM470.4 139.0h1.35v1.35h-1.35zM469.9 139.0h1.35v1.35h-1.35zM478.8 141.5h1.35v1.35h-1.35zM478.4 119.0h1.35v1.35h-1.35zM477.8 137.4h1.35v1.35h-1.35zM478.2 137.5h1.35v1.35h-1.35zM478.6 124.6h1.35v1.35h-1.35zM477.7 134.8h1.35v1.35h-1.35zM478.9 123.7h1.35v1.35h-1.35zM478.8 138.3h1.35v1.35h-1.35zM478.9 137.2h1.35v1.35h-1.35zM478.6 133.8h1.35v1.35h-1.35zM478.5 122.1h1.35v1.35h-1.35zM486.8 141.5h1.35v1.35h-1.35zM487.1 128.0h1.35v1.35h-1.35zM487.2 138.2h1.35v1.35h-1.35zM486.6 135.9h1.35v1.35h-1.35zM486.6 135.7h1.35v1.35h-1.35zM486.9 140.2h1.35v1.35h-1.35zM486.4 141.5h1.35v1.35h-1.35zM487.3 131.5h1.35v1.35h-1.35zM486.1 134.9h1.35v1.35h-1.35zM487.0 139.5h1.35v1.35h-1.35zM486.8 136.7h1.35v1.35h-1.35zM495.5 141.5h1.35v1.35h-1.35zM495.1 131.5h1.35v1.35h-1.35zM495.3 138.4h1.35v1.35h-1.35zM495.1 136.7h1.35v1.35h-1.35zM495.4 139.4h1.35v1.35h-1.35zM495.2 138.9h1.35v1.35h-1.35zM494.9 141.2h1.35v1.35h-1.35zM495.9 133.3h1.35v1.35h-1.35zM495.8 139.9h1.35v1.35h-1.35zM495.6 137.9h1.35v1.35h-1.35zM494.9 132.5h1.35v1.35h-1.35zM503.4 141.5h1.35v1.35h-1.35zM503.8 136.5h1.35v1.35h-1.35zM503.2 141.5h1.35v1.35h-1.35zM503.7 140.9h1.35v1.35h-1.35zM503.3 138.2h1.35v1.35h-1.35zM504.3 141.5h1.35v1.35h-1.35zM504.1 140.8h1.35v1.35h-1.35zM503.6 141.4h1.35v1.35h-1.35zM504.0 139.7h1.35v1.35h-1.35zM503.5 141.1h1.35v1.35h-1.35zM503.7 138.6h1.35v1.35h-1.35zM511.6 140.0h1.35v1.35h-1.35zM512.2 130.0h1.35v1.35h-1.35zM512.6 134.9h1.35v1.35h-1.35zM512.3 137.0h1.35v1.35h-1.35zM511.9 131.1h1.35v1.35h-1.35zM512.5 136.1h1.35v1.35h-1.35zM512.6 135.1h1.35v1.35h-1.35zM512.2 130.3h1.35v1.35h-1.35zM512.3 134.4h1.35v1.35h-1.35zM511.9 135.0h1.35v1.35h-1.35zM512.0 132.3h1.35v1.35h-1.35zM250.4 171.8h1.35v1.35h-1.35zM250.7 161.0h1.35v1.35h-1.35zM250.2 166.1h1.35v1.35h-1.35zM250.6 163.9h1.35v1.35h-1.35zM251.4 167.4h1.35v1.35h-1.35zM250.8 166.8h1.35v1.35h-1.35zM250.3 166.4h1.35v1.35h-1.35zM250.5 164.2h1.35v1.35h-1.35zM251.0 168.3h1.35v1.35h-1.35zM250.5 167.5h1.35v1.35h-1.35zM251.4 162.8h1.35v1.35h-1.35zM258.5 165.9h1.35v1.35h-1.35zM259.7 157.1h1.35v1.35h-1.35zM259.2 164.8h1.35v1.35h-1.35zM259.4 163.0h1.35v1.35h-1.35zM259.6 159.8h1.35v1.35h-1.35zM258.7 163.5h1.35v1.35h-1.35zM259.6 162.6h1.35v1.35h-1.35zM259.7 165.7h1.35v1.35h-1.35zM258.7 161.1h1.35v1.35h-1.35zM258.6 161.4h1.35v1.35h-1.35zM259.5 161.9h1.35v1.35h-1.35zM266.7 171.8h1.35v1.35h-1.35zM267.9 159.6h1.35v1.35h-1.35zM267.1 163.8h1.35v1.35h-1.35zM266.7 170.6h1.35v1.35h-1.35zM267.0 166.1h1.35v1.35h-1.35zM266.7 166.5h1.35v1.35h-1.35zM267.0 167.6h1.35v1.35h-1.35zM267.6 161.6h1.35v1.35h-1.35zM268.0 162.7h1.35v1.35h-1.35zM267.5 163.3h1.35v1.35h-1.35zM267.8 164.6h1.35v1.35h-1.35zM275.9 172.8h1.35v1.35h-1.35zM275.8 160.1h1.35v1.35h-1.35zM275.1 169.9h1.35v1.35h-1.35zM275.6 170.7h1.35v1.35h-1.35zM275.7 164.3h1.35v1.35h-1.35zM275.5 167.3h1.35v1.35h-1.35zM275.8 169.8h1.35v1.35h-1.35zM276.1 160.6h1.35v1.35h-1.35zM276.0 172.8h1.35v1.35h-1.35zM276.0 172.7h1.35v1.35h-1.35zM275.1 166.1h1.35v1.35h-1.35zM283.5 171.8h1.35v1.35h-1.35zM283.8 162.0h1.35v1.35h-1.35zM283.3 167.1h1.35v1.35h-1.35zM283.4 168.8h1.35v1.35h-1.35zM284.3 164.9h1.35v1.35h-1.35zM284.1 169.5h1.35v1.35h-1.35zM284.3 169.1h1.35v1.35h-1.35zM283.4 163.2h1.35v1.35h-1.35zM283.3 163.7h1.35v1.35h-1.35zM283.7 165.4h1.35v1.35h-1.35zM283.8 165.8h1.35v1.35h-1.35zM291.6 171.8h1.35v1.35h-1.35zM291.9 159.6h1.35v1.35h-1.35zM292.3 166.1h1.35v1.35h-1.35zM291.9 170.9h1.35v1.35h-1.35zM292.3 169.9h1.35v1.35h-1.35zM292.7 164.2h1.35v1.35h-1.35zM292.5 169.2h1.35v1.35h-1.35zM292.3 166.8h1.35v1.35h-1.35zM292.3 168.4h1.35v1.35h-1.35zM291.8 168.6h1.35v1.35h-1.35zM292.3 163.2h1.35v1.35h-1.35zM300.7 176.7h1.35v1.35h-1.35zM299.8 161.0h1.35v1.35h-1.35zM299.7 168.6h1.35v1.35h-1.35zM299.8 168.6h1.35v1.35h-1.35zM300.8 163.4h1.35v1.35h-1.35zM300.0 170.3h1.35v1.35h-1.35zM300.1 162.8h1.35v1.35h-1.35zM300.2 162.7h1.35v1.35h-1.35zM300.4 166.7h1.35v1.35h-1.35zM300.2 166.4h1.35v1.35h-1.35zM301.0 174.3h1.35v1.35h-1.35zM320.7 193.0h1.35v1.35h-1.35zM320.4 182.3h1.35v1.35h-1.35zM321.3 189.6h1.35v1.35h-1.35zM321.4 188.1h1.35v1.35h-1.35zM320.9 190.6h1.35v1.35h-1.35zM320.5 188.3h1.35v1.35h-1.35zM321.4 189.7h1.35v1.35h-1.35zM320.4 187.1h1.35v1.35h-1.35zM320.4 190.5h1.35v1.35h-1.35zM321.0 190.5h1.35v1.35h-1.35zM321.3 187.6h1.35v1.35h-1.35zM329.6 189.7h1.35v1.35h-1.35zM329.4 160.3h1.35v1.35h-1.35zM328.7 173.2h1.35v1.35h-1.35zM329.4 176.7h1.35v1.35h-1.35zM329.2 163.2h1.35v1.35h-1.35zM329.1 180.4h1.35v1.35h-1.35zM329.2 174.7h1.35v1.35h-1.35zM328.9 166.8h1.35v1.35h-1.35zM328.7 189.7h1.35v1.35h-1.35zM329.7 172.1h1.35v1.35h-1.35zM328.9 164.5h1.35v1.35h-1.35zM336.8 188.3h1.35v1.35h-1.35zM337.3 181.7h1.35v1.35h-1.35zM337.9 182.6h1.35v1.35h-1.35zM337.5 182.5h1.35v1.35h-1.35zM337.1 184.8h1.35v1.35h-1.35zM338.1 183.9h1.35v1.35h-1.35zM336.9 181.9h1.35v1.35h-1.35zM336.9 186.9h1.35v1.35h-1.35zM336.7 183.3h1.35v1.35h-1.35zM337.3 182.1h1.35v1.35h-1.35zM337.9 182.3h1.35v1.35h-1.35zM345.5 195.0h1.35v1.35h-1.35zM345.3 186.3h1.35v1.35h-1.35zM345.1 189.1h1.35v1.35h-1.35zM345.2 189.5h1.35v1.35h-1.35zM345.3 192.9h1.35v1.35h-1.35zM346.3 190.2h1.35v1.35h-1.35zM345.6 187.8h1.35v1.35h-1.35zM345.6 192.6h1.35v1.35h-1.35zM346.4 189.6h1.35v1.35h-1.35zM346.4 189.9h1.35v1.35h-1.35zM346.1 187.1h1.35v1.35h-1.35zM353.8 193.7h1.35v1.35h-1.35zM353.5 187.0h1.35v1.35h-1.35zM354.1 189.6h1.35v1.35h-1.35zM353.7 191.4h1.35v1.35h-1.35zM354.4 191.4h1.35v1.35h-1.35zM354.1 188.5h1.35v1.35h-1.35zM353.7 190.8h1.35v1.35h-1.35zM354.5 191.3h1.35v1.35h-1.35zM354.0 189.1h1.35v1.35h-1.35zM353.4 190.1h1.35v1.35h-1.35zM353.7 190.7h1.35v1.35h-1.35zM361.9 196.3h1.35v1.35h-1.35zM362.0 184.3h1.35v1.35h-1.35zM362.8 190.1h1.35v1.35h-1.35zM362.1 192.8h1.35v1.35h-1.35zM361.9 189.1h1.35v1.35h-1.35zM362.0 191.3h1.35v1.35h-1.35zM362.4 188.8h1.35v1.35h-1.35zM362.2 188.7h1.35v1.35h-1.35zM362.1 188.7h1.35v1.35h-1.35zM362.1 190.2h1.35v1.35h-1.35zM361.9 190.3h1.35v1.35h-1.35zM370.7 193.0h1.35v1.35h-1.35zM370.8 180.3h1.35v1.35h-1.35zM370.4 192.1h1.35v1.35h-1.35zM371.1 192.7h1.35v1.35h-1.35zM371.1 185.9h1.35v1.35h-1.35zM370.9 189.7h1.35v1.35h-1.35zM370.7 191.1h1.35v1.35h-1.35zM370.9 182.1h1.35v1.35h-1.35zM370.2 187.2h1.35v1.35h-1.35zM371.1 189.7h1.35v1.35h-1.35zM370.1 190.4h1.35v1.35h-1.35zM391.3 181.4h1.35v1.35h-1.35zM391.3 166.9h1.35v1.35h-1.35zM391.5 178.5h1.35v1.35h-1.35zM391.0 175.2h1.35v1.35h-1.35zM391.6 181.0h1.35v1.35h-1.35zM390.5 178.0h1.35v1.35h-1.35zM391.7 173.3h1.35v1.35h-1.35zM391.0 179.7h1.35v1.35h-1.35zM391.4 173.8h1.35v1.35h-1.35zM391.0 175.4h1.35v1.35h-1.35zM391.6 176.0h1.35v1.35h-1.35zM399.9 171.4h1.35v1.35h-1.35zM399.3 160.1h1.35v1.35h-1.35zM399.0 162.8h1.35v1.35h-1.35zM399.1 164.7h1.35v1.35h-1.35zM399.3 162.6h1.35v1.35h-1.35zM400.3 165.1h1.35v1.35h-1.35zM400.0 161.0h1.35v1.35h-1.35zM400.2 165.6h1.35v1.35h-1.35zM400.0 165.1h1.35v1.35h-1.35zM399.1 164.0h1.35v1.35h-1.35zM399.5 164.0h1.35v1.35h-1.35zM408.6 171.0h1.35v1.35h-1.35zM408.2 160.1h1.35v1.35h-1.35zM408.2 164.9h1.35v1.35h-1.35zM408.5 164.1h1.35v1.35h-1.35zM407.3 167.1h1.35v1.35h-1.35zM408.6 167.3h1.35v1.35h-1.35zM407.8 165.2h1.35v1.35h-1.35zM408.2 160.7h1.35v1.35h-1.35zM407.9 163.7h1.35v1.35h-1.35zM408.4 164.3h1.35v1.35h-1.35zM407.7 170.1h1.35v1.35h-1.35zM415.9 174.2h1.35v1.35h-1.35zM416.6 164.1h1.35v1.35h-1.35zM417.1 165.0h1.35v1.35h-1.35zM416.0 167.7h1.35v1.35h-1.35zM416.6 174.0h1.35v1.35h-1.35zM416.9 164.5h1.35v1.35h-1.35zM416.6 165.5h1.35v1.35h-1.35zM416.2 165.5h1.35v1.35h-1.35zM416.1 167.3h1.35v1.35h-1.35zM416.8 168.9h1.35v1.35h-1.35zM417.0 168.8h1.35v1.35h-1.35zM425.1 180.2h1.35v1.35h-1.35zM424.7 166.1h1.35v1.35h-1.35zM424.4 171.2h1.35v1.35h-1.35zM425.5 168.5h1.35v1.35h-1.35zM425.2 177.5h1.35v1.35h-1.35zM424.9 174.7h1.35v1.35h-1.35zM424.8 173.7h1.35v1.35h-1.35zM425.0 175.3h1.35v1.35h-1.35zM424.5 170.6h1.35v1.35h-1.35zM424.2 174.2h1.35v1.35h-1.35zM424.9 173.0h1.35v1.35h-1.35zM433.1 181.0h1.35v1.35h-1.35zM433.8 169.0h1.35v1.35h-1.35zM433.4 172.5h1.35v1.35h-1.35zM433.5 177.6h1.35v1.35h-1.35zM432.7 177.5h1.35v1.35h-1.35zM433.3 171.9h1.35v1.35h-1.35zM433.5 178.6h1.35v1.35h-1.35zM433.8 174.1h1.35v1.35h-1.35zM433.8 172.9h1.35v1.35h-1.35zM432.9 174.1h1.35v1.35h-1.35zM433.2 173.2h1.35v1.35h-1.35zM442.1 182.2h1.35v1.35h-1.35zM441.9 170.2h1.35v1.35h-1.35zM442.0 175.1h1.35v1.35h-1.35zM441.6 178.7h1.35v1.35h-1.35zM441.6 171.8h1.35v1.35h-1.35zM441.0 177.1h1.35v1.35h-1.35zM441.2 176.5h1.35v1.35h-1.35zM441.1 178.8h1.35v1.35h-1.35zM441.7 174.5h1.35v1.35h-1.35zM441.7 176.9h1.35v1.35h-1.35zM441.0 176.5h1.35v1.35h-1.35zM461.1 188.1h1.35v1.35h-1.35zM461.8 169.5h1.35v1.35h-1.35zM461.0 182.0h1.35v1.35h-1.35zM462.0 183.3h1.35v1.35h-1.35zM461.1 175.0h1.35v1.35h-1.35zM461.7 172.5h1.35v1.35h-1.35zM461.7 174.6h1.35v1.35h-1.35zM461.1 170.4h1.35v1.35h-1.35zM461.5 173.9h1.35v1.35h-1.35zM461.6 178.0h1.35v1.35h-1.35zM461.1 185.7h1.35v1.35h-1.35zM469.3 169.5h1.35v1.35h-1.35zM469.3 157.1h1.35v1.35h-1.35zM470.5 165.2h1.35v1.35h-1.35zM469.9 162.7h1.35v1.35h-1.35zM469.8 159.9h1.35v1.35h-1.35zM469.3 157.9h1.35v1.35h-1.35zM470.4 163.8h1.35v1.35h-1.35zM470.6 166.8h1.35v1.35h-1.35zM470.1 166.8h1.35v1.35h-1.35zM470.5 159.7h1.35v1.35h-1.35zM470.0 168.5h1.35v1.35h-1.35zM478.5 167.4h1.35v1.35h-1.35zM477.8 159.2h1.35v1.35h-1.35zM478.0 161.8h1.35v1.35h-1.35zM478.5 159.7h1.35v1.35h-1.35zM477.8 162.9h1.35v1.35h-1.35zM478.3 160.6h1.35v1.35h-1.35zM478.4 162.3h1.35v1.35h-1.35zM478.2 167.4h1.35v1.35h-1.35zM478.7 163.6h1.35v1.35h-1.35zM478.8 159.6h1.35v1.35h-1.35zM478.0 166.0h1.35v1.35h-1.35zM487.5 181.9h1.35v1.35h-1.35zM486.4 163.3h1.35v1.35h-1.35zM487.3 172.5h1.35v1.35h-1.35zM486.7 170.4h1.35v1.35h-1.35zM486.8 178.5h1.35v1.35h-1.35zM486.1 169.4h1.35v1.35h-1.35zM487.3 170.0h1.35v1.35h-1.35zM486.4 172.0h1.35v1.35h-1.35zM486.5 173.2h1.35v1.35h-1.35zM486.5 167.2h1.35v1.35h-1.35zM486.4 166.0h1.35v1.35h-1.35zM495.6 186.0h1.35v1.35h-1.35zM494.7 164.1h1.35v1.35h-1.35zM495.4 173.5h1.35v1.35h-1.35zM494.8 174.4h1.35v1.35h-1.35zM494.8 171.4h1.35v1.35h-1.35zM494.6 165.8h1.35v1.35h-1.35zM494.9 169.0h1.35v1.35h-1.35zM495.7 166.4h1.35v1.35h-1.35zM495.3 169.8h1.35v1.35h-1.35zM495.6 171.9h1.35v1.35h-1.35zM495.9 170.9h1.35v1.35h-1.35zM503.2 188.1h1.35v1.35h-1.35zM503.5 167.4h1.35v1.35h-1.35zM504.0 176.1h1.35v1.35h-1.35zM504.0 179.8h1.35v1.35h-1.35zM503.4 174.9h1.35v1.35h-1.35zM503.7 170.3h1.35v1.35h-1.35zM503.1 178.4h1.35v1.35h-1.35zM503.8 179.0h1.35v1.35h-1.35zM503.6 175.0h1.35v1.35h-1.35zM504.0 180.0h1.35v1.35h-1.35zM504.2 181.0h1.35v1.35h-1.35zM512.0 188.1h1.35v1.35h-1.35zM512.2 168.3h1.35v1.35h-1.35zM512.1 177.5h1.35v1.35h-1.35zM512.4 173.4h1.35v1.35h-1.35zM511.6 179.6h1.35v1.35h-1.35zM511.7 176.6h1.35v1.35h-1.35zM511.5 178.4h1.35v1.35h-1.35zM512.0 177.0h1.35v1.35h-1.35zM512.6 181.0h1.35v1.35h-1.35zM512.3 178.1h1.35v1.35h-1.35zM512.3 178.8h1.35v1.35h-1.35zM250.2 251.1h1.35v1.35h-1.35zM251.4 224.5h1.35v1.35h-1.35zM250.9 230.1h1.35v1.35h-1.35zM250.9 238.7h1.35v1.35h-1.35zM251.4 227.4h1.35v1.35h-1.35zM251.1 240.2h1.35v1.35h-1.35zM250.5 236.2h1.35v1.35h-1.35zM250.5 244.2h1.35v1.35h-1.35zM251.0 224.8h1.35v1.35h-1.35zM251.1 231.2h1.35v1.35h-1.35zM250.4 245.3h1.35v1.35h-1.35zM258.8 245.8h1.35v1.35h-1.35zM258.6 219.1h1.35v1.35h-1.35zM258.8 220.5h1.35v1.35h-1.35zM259.1 227.2h1.35v1.35h-1.35zM258.6 230.9h1.35v1.35h-1.35zM259.2 223.0h1.35v1.35h-1.35zM259.7 226.8h1.35v1.35h-1.35zM259.4 245.7h1.35v1.35h-1.35zM259.7 229.7h1.35v1.35h-1.35zM258.5 226.1h1.35v1.35h-1.35zM259.3 239.3h1.35v1.35h-1.35zM267.5 245.8h1.35v1.35h-1.35zM266.8 219.1h1.35v1.35h-1.35zM267.7 237.1h1.35v1.35h-1.35zM267.5 227.7h1.35v1.35h-1.35zM267.2 224.2h1.35v1.35h-1.35zM266.7 225.1h1.35v1.35h-1.35zM266.9 232.1h1.35v1.35h-1.35zM267.2 219.7h1.35v1.35h-1.35zM267.9 226.2h1.35v1.35h-1.35zM267.3 239.2h1.35v1.35h-1.35zM267.8 234.1h1.35v1.35h-1.35zM275.1 245.8h1.35v1.35h-1.35zM275.5 213.8h1.35v1.35h-1.35zM275.9 242.2h1.35v1.35h-1.35zM275.3 222.4h1.35v1.35h-1.35zM275.2 215.6h1.35v1.35h-1.35zM275.6 232.8h1.35v1.35h-1.35zM275.6 229.7h1.35v1.35h-1.35zM274.9 243.5h1.35v1.35h-1.35zM275.0 222.5h1.35v1.35h-1.35zM275.4 232.8h1.35v1.35h-1.35zM275.9 232.6h1.35v1.35h-1.35zM283.5 243.1h1.35v1.35h-1.35zM283.1 227.1h1.35v1.35h-1.35zM284.0 240.0h1.35v1.35h-1.35zM284.1 239.4h1.35v1.35h-1.35zM283.3 228.3h1.35v1.35h-1.35zM283.5 239.1h1.35v1.35h-1.35zM284.2 237.2h1.35v1.35h-1.35zM284.1 240.3h1.35v1.35h-1.35zM283.3 242.4h1.35v1.35h-1.35zM284.5 241.2h1.35v1.35h-1.35zM284.1 238.1h1.35v1.35h-1.35zM291.6 244.5h1.35v1.35h-1.35zM292.0 224.5h1.35v1.35h-1.35zM292.6 237.8h1.35v1.35h-1.35zM291.9 232.3h1.35v1.35h-1.35zM292.2 235.7h1.35v1.35h-1.35zM291.7 235.7h1.35v1.35h-1.35zM292.5 238.5h1.35v1.35h-1.35zM291.8 227.1h1.35v1.35h-1.35zM291.9 231.3h1.35v1.35h-1.35zM292.5 240.7h1.35v1.35h-1.35zM291.5 229.5h1.35v1.35h-1.35zM299.9 245.8h1.35v1.35h-1.35zM300.0 224.5h1.35v1.35h-1.35zM300.7 233.6h1.35v1.35h-1.35zM300.7 226.4h1.35v1.35h-1.35zM300.2 231.4h1.35v1.35h-1.35zM299.7 232.8h1.35v1.35h-1.35zM300.7 229.2h1.35v1.35h-1.35zM300.0 236.2h1.35v1.35h-1.35zM299.8 232.3h1.35v1.35h-1.35zM300.7 231.9h1.35v1.35h-1.35zM300.9 236.8h1.35v1.35h-1.35zM321.5 245.6h1.35v1.35h-1.35zM320.8 224.6h1.35v1.35h-1.35zM321.3 234.3h1.35v1.35h-1.35zM321.1 236.9h1.35v1.35h-1.35zM320.5 243.9h1.35v1.35h-1.35zM320.7 237.5h1.35v1.35h-1.35zM321.3 235.0h1.35v1.35h-1.35zM320.8 244.7h1.35v1.35h-1.35zM320.8 230.2h1.35v1.35h-1.35zM321.1 232.2h1.35v1.35h-1.35zM320.3 230.5h1.35v1.35h-1.35zM329.6 243.8h1.35v1.35h-1.35zM328.8 211.9h1.35v1.35h-1.35zM328.5 231.2h1.35v1.35h-1.35zM329.8 225.2h1.35v1.35h-1.35zM328.4 213.5h1.35v1.35h-1.35zM329.0 230.8h1.35v1.35h-1.35zM329.1 225.6h1.35v1.35h-1.35zM329.8 222.8h1.35v1.35h-1.35zM328.9 223.3h1.35v1.35h-1.35zM328.8 228.1h1.35v1.35h-1.35zM328.8 225.9h1.35v1.35h-1.35zM336.8 227.4h1.35v1.35h-1.35zM337.9 220.1h1.35v1.35h-1.35zM337.2 223.5h1.35v1.35h-1.35zM338.0 225.2h1.35v1.35h-1.35zM337.2 224.2h1.35v1.35h-1.35zM337.0 223.2h1.35v1.35h-1.35zM337.3 225.4h1.35v1.35h-1.35zM337.9 227.0h1.35v1.35h-1.35zM338.0 223.8h1.35v1.35h-1.35zM337.5 223.4h1.35v1.35h-1.35zM337.1 224.9h1.35v1.35h-1.35zM345.2 242.0h1.35v1.35h-1.35zM345.6 219.2h1.35v1.35h-1.35zM346.1 232.0h1.35v1.35h-1.35zM345.4 222.8h1.35v1.35h-1.35zM345.6 234.7h1.35v1.35h-1.35zM346.3 223.9h1.35v1.35h-1.35zM346.2 224.7h1.35v1.35h-1.35zM346.2 221.1h1.35v1.35h-1.35zM345.1 225.8h1.35v1.35h-1.35zM346.4 224.2h1.35v1.35h-1.35zM345.8 229.1h1.35v1.35h-1.35zM354.0 244.7h1.35v1.35h-1.35zM354.2 224.6h1.35v1.35h-1.35zM353.7 233.7h1.35v1.35h-1.35zM353.5 233.8h1.35v1.35h-1.35zM353.9 242.1h1.35v1.35h-1.35zM354.3 227.8h1.35v1.35h-1.35zM354.3 231.5h1.35v1.35h-1.35zM353.6 240.5h1.35v1.35h-1.35zM354.2 235.3h1.35v1.35h-1.35zM354.5 227.3h1.35v1.35h-1.35zM354.3 238.3h1.35v1.35h-1.35zM361.7 245.6h1.35v1.35h-1.35zM362.7 225.6h1.35v1.35h-1.35zM362.3 230.2h1.35v1.35h-1.35zM362.8 234.1h1.35v1.35h-1.35zM362.8 244.1h1.35v1.35h-1.35zM362.8 232.0h1.35v1.35h-1.35zM362.9 226.3h1.35v1.35h-1.35zM362.2 238.5h1.35v1.35h-1.35zM362.8 225.6h1.35v1.35h-1.35zM362.3 231.5h1.35v1.35h-1.35zM362.5 236.9h1.35v1.35h-1.35zM371.1 246.6h1.35v1.35h-1.35zM370.2 223.7h1.35v1.35h-1.35zM370.4 231.8h1.35v1.35h-1.35zM370.8 226.1h1.35v1.35h-1.35zM370.4 234.2h1.35v1.35h-1.35zM371.2 234.7h1.35v1.35h-1.35zM371.0 230.2h1.35v1.35h-1.35zM370.4 233.2h1.35v1.35h-1.35zM370.5 226.0h1.35v1.35h-1.35zM371.0 224.2h1.35v1.35h-1.35zM370.6 244.4h1.35v1.35h-1.35zM390.6 249.1h1.35v1.35h-1.35zM390.8 226.1h1.35v1.35h-1.35zM391.7 235.5h1.35v1.35h-1.35zM391.0 239.6h1.35v1.35h-1.35zM391.1 246.3h1.35v1.35h-1.35zM391.3 238.9h1.35v1.35h-1.35zM391.8 230.2h1.35v1.35h-1.35zM390.6 245.8h1.35v1.35h-1.35zM390.8 229.0h1.35v1.35h-1.35zM391.1 229.2h1.35v1.35h-1.35zM391.4 249.1h1.35v1.35h-1.35zM399.5 246.1h1.35v1.35h-1.35zM399.7 219.1h1.35v1.35h-1.35zM400.3 230.1h1.35v1.35h-1.35zM400.0 228.1h1.35v1.35h-1.35zM399.6 241.3h1.35v1.35h-1.35zM400.0 234.0h1.35v1.35h-1.35zM400.0 225.4h1.35v1.35h-1.35zM399.3 226.8h1.35v1.35h-1.35zM399.5 227.8h1.35v1.35h-1.35zM400.0 231.5h1.35v1.35h-1.35zM399.4 220.9h1.35v1.35h-1.35zM407.8 241.1h1.35v1.35h-1.35zM407.7 211.1h1.35v1.35h-1.35zM407.8 214.3h1.35v1.35h-1.35zM407.9 213.1h1.35v1.35h-1.35zM408.2 217.3h1.35v1.35h-1.35zM407.9 223.4h1.35v1.35h-1.35zM407.8 221.8h1.35v1.35h-1.35zM407.6 240.8h1.35v1.35h-1.35zM408.2 224.5h1.35v1.35h-1.35zM408.6 228.7h1.35v1.35h-1.35zM407.6 227.1h1.35v1.35h-1.35zM416.7 245.1h1.35v1.35h-1.35zM416.9 221.1h1.35v1.35h-1.35zM416.2 224.5h1.35v1.35h-1.35zM416.1 222.9h1.35v1.35h-1.35zM416.2 228.4h1.35v1.35h-1.35zM416.4 229.6h1.35v1.35h-1.35zM415.8 225.7h1.35v1.35h-1.35zM416.3 239.0h1.35v1.35h-1.35zM416.2 223.7h1.35v1.35h-1.35zM415.9 228.4h1.35v1.35h-1.35zM416.9 238.5h1.35v1.35h-1.35zM425.3 246.1h1.35v1.35h-1.35zM424.4 224.1h1.35v1.35h-1.35zM425.4 226.3h1.35v1.35h-1.35zM425.0 229.8h1.35v1.35h-1.35zM425.3 240.1h1.35v1.35h-1.35zM425.4 230.5h1.35v1.35h-1.35zM424.6 230.2h1.35v1.35h-1.35zM424.7 229.1h1.35v1.35h-1.35zM425.4 232.4h1.35v1.35h-1.35zM424.5 224.1h1.35v1.35h-1.35zM424.3 226.5h1.35v1.35h-1.35zM433.0 246.1h1.35v1.35h-1.35zM433.2 226.1h1.35v1.35h-1.35zM433.0 238.4h1.35v1.35h-1.35zM433.3 232.7h1.35v1.35h-1.35zM433.6 241.7h1.35v1.35h-1.35zM433.8 235.2h1.35v1.35h-1.35zM433.4 231.1h1.35v1.35h-1.35zM433.8 237.4h1.35v1.35h-1.35zM433.0 236.2h1.35v1.35h-1.35zM433.2 234.2h1.35v1.35h-1.35zM433.0 226.5h1.35v1.35h-1.35zM442.2 246.1h1.35v1.35h-1.35zM441.0 225.1h1.35v1.35h-1.35zM441.6 234.8h1.35v1.35h-1.35zM442.0 232.9h1.35v1.35h-1.35zM440.9 226.6h1.35v1.35h-1.35zM441.7 232.5h1.35v1.35h-1.35zM441.3 237.4h1.35v1.35h-1.35zM442.0 235.0h1.35v1.35h-1.35zM442.1 234.6h1.35v1.35h-1.35zM442.2 234.7h1.35v1.35h-1.35zM442.0 235.3h1.35v1.35h-1.35zM461.7 248.1h1.35v1.35h-1.35zM461.0 221.1h1.35v1.35h-1.35zM460.7 238.2h1.35v1.35h-1.35zM460.8 231.0h1.35v1.35h-1.35zM462.0 244.5h1.35v1.35h-1.35zM461.4 233.3h1.35v1.35h-1.35zM462.1 229.6h1.35v1.35h-1.35zM461.2 242.9h1.35v1.35h-1.35zM461.3 230.2h1.35v1.35h-1.35zM461.6 239.8h1.35v1.35h-1.35zM461.9 231.1h1.35v1.35h-1.35zM469.3 247.1h1.35v1.35h-1.35zM469.2 211.1h1.35v1.35h-1.35zM469.9 219.0h1.35v1.35h-1.35zM469.5 221.4h1.35v1.35h-1.35zM470.2 241.0h1.35v1.35h-1.35zM470.1 230.4h1.35v1.35h-1.35zM469.9 229.7h1.35v1.35h-1.35zM470.5 239.2h1.35v1.35h-1.35zM470.5 231.7h1.35v1.35h-1.35zM469.6 232.3h1.35v1.35h-1.35zM470.3 243.0h1.35v1.35h-1.35zM478.2 226.1h1.35v1.35h-1.35zM478.6 211.1h1.35v1.35h-1.35zM477.9 213.3h1.35v1.35h-1.35zM478.1 222.7h1.35v1.35h-1.35zM478.3 221.1h1.35v1.35h-1.35zM478.4 213.9h1.35v1.35h-1.35zM477.8 221.5h1.35v1.35h-1.35zM477.9 225.8h1.35v1.35h-1.35zM477.6 219.2h1.35v1.35h-1.35zM478.1 218.5h1.35v1.35h-1.35zM479.0 224.9h1.35v1.35h-1.35zM486.7 246.1h1.35v1.35h-1.35zM486.4 223.1h1.35v1.35h-1.35zM487.0 233.2h1.35v1.35h-1.35zM487.5 231.9h1.35v1.35h-1.35zM487.3 234.0h1.35v1.35h-1.35zM487.2 223.1h1.35v1.35h-1.35zM486.3 228.7h1.35v1.35h-1.35zM486.5 226.0h1.35v1.35h-1.35zM486.5 233.4h1.35v1.35h-1.35zM486.9 234.6h1.35v1.35h-1.35zM487.3 229.2h1.35v1.35h-1.35zM494.8 248.1h1.35v1.35h-1.35zM495.4 225.1h1.35v1.35h-1.35zM494.7 232.1h1.35v1.35h-1.35zM494.7 237.7h1.35v1.35h-1.35zM495.6 243.1h1.35v1.35h-1.35zM494.9 236.5h1.35v1.35h-1.35zM495.4 236.7h1.35v1.35h-1.35zM494.9 247.8h1.35v1.35h-1.35zM495.5 234.8h1.35v1.35h-1.35zM494.5 234.5h1.35v1.35h-1.35zM494.9 244.5h1.35v1.35h-1.35zM503.4 246.1h1.35v1.35h-1.35zM503.1 223.1h1.35v1.35h-1.35zM504.2 239.3h1.35v1.35h-1.35zM503.8 230.9h1.35v1.35h-1.35zM504.1 228.7h1.35v1.35h-1.35zM504.0 242.4h1.35v1.35h-1.35zM504.1 237.5h1.35v1.35h-1.35zM503.5 238.3h1.35v1.35h-1.35zM504.2 237.9h1.35v1.35h-1.35zM503.8 242.1h1.35v1.35h-1.35zM503.5 226.4h1.35v1.35h-1.35zM512.2 248.1h1.35v1.35h-1.35zM512.8 211.1h1.35v1.35h-1.35zM512.7 235.7h1.35v1.35h-1.35zM512.1 236.9h1.35v1.35h-1.35zM512.4 219.2h1.35v1.35h-1.35zM511.6 241.7h1.35v1.35h-1.35zM512.7 226.5h1.35v1.35h-1.35zM512.3 216.0h1.35v1.35h-1.35zM511.5 238.3h1.35v1.35h-1.35zM511.4 232.5h1.35v1.35h-1.35zM512.6 222.0h1.35v1.35h-1.35zM251.3 293.9h1.35v1.35h-1.35zM250.5 273.9h1.35v1.35h-1.35zM250.5 283.6h1.35v1.35h-1.35zM251.2 282.0h1.35v1.35h-1.35zM250.3 288.8h1.35v1.35h-1.35zM250.2 285.0h1.35v1.35h-1.35zM251.5 280.4h1.35v1.35h-1.35zM250.8 287.1h1.35v1.35h-1.35zM250.7 284.0h1.35v1.35h-1.35zM251.2 289.7h1.35v1.35h-1.35zM251.4 286.3h1.35v1.35h-1.35zM258.7 292.9h1.35v1.35h-1.35zM259.7 269.9h1.35v1.35h-1.35zM259.3 290.0h1.35v1.35h-1.35zM259.1 288.1h1.35v1.35h-1.35zM259.1 275.1h1.35v1.35h-1.35zM259.6 292.6h1.35v1.35h-1.35zM259.3 284.7h1.35v1.35h-1.35zM258.7 289.3h1.35v1.35h-1.35zM259.7 287.4h1.35v1.35h-1.35zM259.6 289.7h1.35v1.35h-1.35zM259.5 288.4h1.35v1.35h-1.35zM267.4 282.9h1.35v1.35h-1.35zM267.1 269.9h1.35v1.35h-1.35zM267.4 277.8h1.35v1.35h-1.35zM266.8 274.9h1.35v1.35h-1.35zM267.0 270.5h1.35v1.35h-1.35zM266.7 271.5h1.35v1.35h-1.35zM267.2 276.0h1.35v1.35h-1.35zM267.0 277.7h1.35v1.35h-1.35zM267.8 272.5h1.35v1.35h-1.35zM267.0 274.5h1.35v1.35h-1.35zM266.9 278.8h1.35v1.35h-1.35zM275.7 293.9h1.35v1.35h-1.35zM275.9 273.9h1.35v1.35h-1.35zM276.1 280.7h1.35v1.35h-1.35zM275.0 285.2h1.35v1.35h-1.35zM275.8 283.7h1.35v1.35h-1.35zM274.9 282.4h1.35v1.35h-1.35zM275.6 282.1h1.35v1.35h-1.35zM276.0 293.2h1.35v1.35h-1.35zM275.5 279.3h1.35v1.35h-1.35zM275.4 283.9h1.35v1.35h-1.35zM276.1 285.0h1.35v1.35h-1.35zM284.4 294.9h1.35v1.35h-1.35zM284.5 274.9h1.35v1.35h-1.35zM284.3 285.3h1.35v1.35h-1.35zM283.8 287.5h1.35v1.35h-1.35zM283.6 284.8h1.35v1.35h-1.35zM284.4 288.2h1.35v1.35h-1.35zM284.4 291.1h1.35v1.35h-1.35zM283.5 288.0h1.35v1.35h-1.35zM284.2 292.0h1.35v1.35h-1.35zM283.6 286.7h1.35v1.35h-1.35zM283.2 275.9h1.35v1.35h-1.35zM292.5 297.9h1.35v1.35h-1.35zM291.6 280.9h1.35v1.35h-1.35zM292.7 285.3h1.35v1.35h-1.35zM291.5 289.1h1.35v1.35h-1.35zM291.5 289.1h1.35v1.35h-1.35zM292.2 287.3h1.35v1.35h-1.35zM292.5 286.1h1.35v1.35h-1.35zM292.4 282.5h1.35v1.35h-1.35zM291.9 291.9h1.35v1.35h-1.35zM292.4 284.2h1.35v1.35h-1.35zM291.7 292.8h1.35v1.35h-1.35zM300.2 294.9h1.35v1.35h-1.35zM300.3 269.9h1.35v1.35h-1.35zM300.9 283.1h1.35v1.35h-1.35zM299.7 280.8h1.35v1.35h-1.35zM300.5 270.4h1.35v1.35h-1.35zM299.8 276.8h1.35v1.35h-1.35zM300.8 276.5h1.35v1.35h-1.35zM300.0 282.2h1.35v1.35h-1.35zM300.7 278.8h1.35v1.35h-1.35zM300.1 283.0h1.35v1.35h-1.35zM300.5 282.8h1.35v1.35h-1.35zM320.4 301.9h1.35v1.35h-1.35zM320.5 276.9h1.35v1.35h-1.35zM320.6 289.0h1.35v1.35h-1.35zM320.4 281.9h1.35v1.35h-1.35zM320.7 282.7h1.35v1.35h-1.35zM321.0 290.0h1.35v1.35h-1.35zM320.5 288.6h1.35v1.35h-1.35zM320.3 291.3h1.35v1.35h-1.35zM321.1 294.6h1.35v1.35h-1.35zM320.2 288.1h1.35v1.35h-1.35zM321.3 283.9h1.35v1.35h-1.35zM328.9 297.9h1.35v1.35h-1.35zM329.7 272.9h1.35v1.35h-1.35zM328.9 287.3h1.35v1.35h-1.35zM328.9 286.3h1.35v1.35h-1.35zM329.3 287.7h1.35v1.35h-1.35zM328.7 285.3h1.35v1.35h-1.35zM328.6 295.5h1.35v1.35h-1.35zM329.0 288.1h1.35v1.35h-1.35zM329.6 292.3h1.35v1.35h-1.35zM328.9 290.9h1.35v1.35h-1.35zM328.8 285.7h1.35v1.35h-1.35zM337.9 285.9h1.35v1.35h-1.35zM337.1 266.9h1.35v1.35h-1.35zM337.0 276.3h1.35v1.35h-1.35zM337.5 277.9h1.35v1.35h-1.35zM337.3 278.3h1.35v1.35h-1.35zM338.1 274.7h1.35v1.35h-1.35zM338.0 279.8h1.35v1.35h-1.35zM337.7 269.6h1.35v1.35h-1.35zM337.1 285.9h1.35v1.35h-1.35zM337.1 279.8h1.35v1.35h-1.35zM337.3 284.4h1.35v1.35h-1.35zM345.2 302.9h1.35v1.35h-1.35zM345.9 285.9h1.35v1.35h-1.35zM345.7 296.9h1.35v1.35h-1.35zM346.1 292.1h1.35v1.35h-1.35zM345.2 286.0h1.35v1.35h-1.35zM346.0 290.8h1.35v1.35h-1.35zM345.0 294.4h1.35v1.35h-1.35zM345.1 289.5h1.35v1.35h-1.35zM345.6 295.5h1.35v1.35h-1.35zM345.5 290.3h1.35v1.35h-1.35zM345.6 288.2h1.35v1.35h-1.35zM354.5 301.9h1.35v1.35h-1.35zM354.6 285.9h1.35v1.35h-1.35zM353.5 292.7h1.35v1.35h-1.35zM353.4 288.9h1.35v1.35h-1.35zM354.5 291.4h1.35v1.35h-1.35zM353.8 287.1h1.35v1.35h-1.35zM354.3 298.3h1.35v1.35h-1.35zM354.5 289.1h1.35v1.35h-1.35zM354.6 291.2h1.35v1.35h-1.35zM354.1 289.2h1.35v1.35h-1.35zM354.5 300.3h1.35v1.35h-1.35zM362.8 303.9h1.35v1.35h-1.35zM362.6 289.9h1.35v1.35h-1.35zM361.8 297.4h1.35v1.35h-1.35zM361.8 299.7h1.35v1.35h-1.35zM362.6 301.9h1.35v1.35h-1.35zM362.2 298.2h1.35v1.35h-1.35zM361.8 293.9h1.35v1.35h-1.35zM361.8 301.7h1.35v1.35h-1.35zM362.6 296.2h1.35v1.35h-1.35zM361.7 297.2h1.35v1.35h-1.35zM362.0 296.0h1.35v1.35h-1.35zM370.2 299.9h1.35v1.35h-1.35zM370.6 277.9h1.35v1.35h-1.35zM371.3 283.9h1.35v1.35h-1.35zM371.3 288.3h1.35v1.35h-1.35zM371.2 289.7h1.35v1.35h-1.35zM370.6 277.9h1.35v1.35h-1.35zM370.2 292.0h1.35v1.35h-1.35zM371.2 286.6h1.35v1.35h-1.35zM370.2 290.6h1.35v1.35h-1.35zM370.8 280.1h1.35v1.35h-1.35zM370.5 281.3h1.35v1.35h-1.35zM391.4 297.9h1.35v1.35h-1.35zM391.5 269.9h1.35v1.35h-1.35zM390.8 287.1h1.35v1.35h-1.35zM391.3 278.9h1.35v1.35h-1.35zM390.7 275.3h1.35v1.35h-1.35zM390.6 285.8h1.35v1.35h-1.35zM390.9 288.9h1.35v1.35h-1.35zM390.6 282.2h1.35v1.35h-1.35zM391.1 283.1h1.35v1.35h-1.35zM391.5 275.0h1.35v1.35h-1.35zM391.8 293.7h1.35v1.35h-1.35zM400.1 297.9h1.35v1.35h-1.35zM399.5 270.9h1.35v1.35h-1.35zM399.0 294.5h1.35v1.35h-1.35zM399.6 282.9h1.35v1.35h-1.35zM399.5 280.1h1.35v1.35h-1.35zM399.2 284.0h1.35v1.35h-1.35zM399.3 288.1h1.35v1.35h-1.35zM399.9 289.7h1.35v1.35h-1.35zM400.3 287.7h1.35v1.35h-1.35zM399.8 282.7h1.35v1.35h-1.35zM399.3 294.6h1.35v1.35h-1.35zM407.6 282.9h1.35v1.35h-1.35zM407.3 272.9h1.35v1.35h-1.35zM407.7 279.2h1.35v1.35h-1.35zM407.6 280.3h1.35v1.35h-1.35zM407.6 275.9h1.35v1.35h-1.35zM407.6 276.9h1.35v1.35h-1.35zM407.8 279.7h1.35v1.35h-1.35zM407.6 279.5h1.35v1.35h-1.35zM408.7 276.4h1.35v1.35h-1.35zM407.4 280.9h1.35v1.35h-1.35zM407.3 280.6h1.35v1.35h-1.35zM416.1 295.9h1.35v1.35h-1.35zM416.8 278.9h1.35v1.35h-1.35zM416.0 292.6h1.35v1.35h-1.35zM416.5 286.8h1.35v1.35h-1.35zM416.8 286.9h1.35v1.35h-1.35zM416.0 284.1h1.35v1.35h-1.35zM415.8 285.2h1.35v1.35h-1.35zM416.9 281.0h1.35v1.35h-1.35zM416.0 292.4h1.35v1.35h-1.35zM416.8 278.9h1.35v1.35h-1.35zM416.4 284.0h1.35v1.35h-1.35zM424.5 296.9h1.35v1.35h-1.35zM425.4 278.9h1.35v1.35h-1.35zM424.4 292.8h1.35v1.35h-1.35zM425.5 294.1h1.35v1.35h-1.35zM424.5 289.2h1.35v1.35h-1.35zM424.4 292.7h1.35v1.35h-1.35zM425.1 293.7h1.35v1.35h-1.35zM425.4 295.4h1.35v1.35h-1.35zM424.8 296.9h1.35v1.35h-1.35zM424.5 291.1h1.35v1.35h-1.35zM424.3 292.6h1.35v1.35h-1.35zM433.8 299.9h1.35v1.35h-1.35zM432.6 283.9h1.35v1.35h-1.35zM433.1 294.5h1.35v1.35h-1.35zM432.7 290.9h1.35v1.35h-1.35zM433.3 286.8h1.35v1.35h-1.35zM433.6 292.3h1.35v1.35h-1.35zM432.6 296.9h1.35v1.35h-1.35zM433.2 287.0h1.35v1.35h-1.35zM433.1 291.8h1.35v1.35h-1.35zM433.5 295.5h1.35v1.35h-1.35zM433.8 298.7h1.35v1.35h-1.35zM442.2 298.9h1.35v1.35h-1.35zM442.1 275.9h1.35v1.35h-1.35zM442.0 282.4h1.35v1.35h-1.35zM441.4 284.4h1.35v1.35h-1.35zM441.3 284.3h1.35v1.35h-1.35zM442.1 295.4h1.35v1.35h-1.35zM441.0 294.2h1.35v1.35h-1.35zM441.5 282.8h1.35v1.35h-1.35zM442.1 280.3h1.35v1.35h-1.35zM441.3 288.6h1.35v1.35h-1.35zM441.6 283.2h1.35v1.35h-1.35zM461.4 300.9h1.35v1.35h-1.35zM462.1 273.9h1.35v1.35h-1.35zM461.4 295.3h1.35v1.35h-1.35zM461.5 297.2h1.35v1.35h-1.35zM460.8 277.9h1.35v1.35h-1.35zM460.8 284.6h1.35v1.35h-1.35zM461.4 289.7h1.35v1.35h-1.35zM461.3 279.7h1.35v1.35h-1.35zM462.0 293.7h1.35v1.35h-1.35zM461.5 288.0h1.35v1.35h-1.35zM462.0 291.5h1.35v1.35h-1.35zM469.9 298.9h1.35v1.35h-1.35zM470.5 270.9h1.35v1.35h-1.35zM470.2 293.3h1.35v1.35h-1.35zM469.9 289.1h1.35v1.35h-1.35zM470.0 279.5h1.35v1.35h-1.35zM469.2 285.3h1.35v1.35h-1.35zM469.3 290.1h1.35v1.35h-1.35zM470.2 296.5h1.35v1.35h-1.35zM469.7 286.0h1.35v1.35h-1.35zM470.5 284.8h1.35v1.35h-1.35zM469.5 274.8h1.35v1.35h-1.35zM478.2 285.9h1.35v1.35h-1.35zM478.7 274.9h1.35v1.35h-1.35zM478.1 281.7h1.35v1.35h-1.35zM478.2 282.8h1.35v1.35h-1.35zM478.2 281.4h1.35v1.35h-1.35zM478.9 279.9h1.35v1.35h-1.35zM478.1 281.9h1.35v1.35h-1.35zM477.7 279.7h1.35v1.35h-1.35zM478.4 278.5h1.35v1.35h-1.35zM478.4 280.8h1.35v1.35h-1.35zM478.5 275.2h1.35v1.35h-1.35zM486.4 302.9h1.35v1.35h-1.35zM486.2 287.9h1.35v1.35h-1.35zM486.1 292.7h1.35v1.35h-1.35zM487.1 294.4h1.35v1.35h-1.35zM486.6 292.6h1.35v1.35h-1.35zM486.6 290.9h1.35v1.35h-1.35zM487.1 294.7h1.35v1.35h-1.35zM486.4 289.5h1.35v1.35h-1.35zM487.3 292.1h1.35v1.35h-1.35zM486.3 290.0h1.35v1.35h-1.35zM487.4 301.3h1.35v1.35h-1.35zM495.1 298.9h1.35v1.35h-1.35zM494.8 286.9h1.35v1.35h-1.35zM495.2 296.5h1.35v1.35h-1.35zM495.5 295.7h1.35v1.35h-1.35zM494.9 292.4h1.35v1.35h-1.35zM494.9 297.9h1.35v1.35h-1.35zM494.6 297.7h1.35v1.35h-1.35zM495.3 288.5h1.35v1.35h-1.35zM495.1 297.5h1.35v1.35h-1.35zM495.6 296.1h1.35v1.35h-1.35zM494.7 287.5h1.35v1.35h-1.35zM503.4 303.9h1.35v1.35h-1.35zM503.4 293.9h1.35v1.35h-1.35zM503.9 297.3h1.35v1.35h-1.35zM504.3 295.7h1.35v1.35h-1.35zM504.0 293.9h1.35v1.35h-1.35zM503.0 294.7h1.35v1.35h-1.35zM503.8 297.9h1.35v1.35h-1.35zM503.4 295.6h1.35v1.35h-1.35zM503.3 294.2h1.35v1.35h-1.35zM503.1 296.0h1.35v1.35h-1.35zM503.8 298.0h1.35v1.35h-1.35zM512.0 298.9h1.35v1.35h-1.35zM512.7 282.9h1.35v1.35h-1.35zM512.8 288.9h1.35v1.35h-1.35zM511.7 292.4h1.35v1.35h-1.35zM512.0 288.1h1.35v1.35h-1.35zM511.6 291.2h1.35v1.35h-1.35zM511.5 291.7h1.35v1.35h-1.35zM511.7 286.9h1.35v1.35h-1.35zM512.7 290.2h1.35v1.35h-1.35zM512.7 292.2h1.35v1.35h-1.35zM511.7 293.8h1.35v1.35h-1.35z" fill="#dc2a36" opacity="1" filter="url(#bdot)"/>
<path d="M246.1 81.2h4.4M254.3 81.8h4.4M262.6 82.6h4.4M270.8 79.9h4.4M279.1 79.9h4.4M287.3 79.9h4.4M295.6 81.8h4.4M316.1 82.9h4.4M324.4 82.9h4.4M332.7 81.4h4.4M341.0 81.4h4.4M349.3 79.4h4.4M357.6 81.4h4.4M365.9 81.9h4.4M386.5 87.0h4.4M394.9 86.5h4.4M403.3 87.0h4.4M411.7 85.5h4.4M420.1 87.5h4.4M428.5 87.5h4.4M436.9 87.5h4.4M456.7 85.6h4.4M465.1 86.1h4.4M473.6 85.6h4.4M482.1 82.7h4.4M490.5 84.1h4.4M498.9 84.6h4.4M507.4 85.6h4.4M246.1 131.5h4.4M254.3 131.5h4.4M262.6 131.5h4.4M270.8 131.5h4.4M279.1 131.5h4.4M287.3 131.5h4.4M295.6 134.2h4.4M316.1 136.9h4.4M324.4 136.9h4.4M332.7 133.5h4.4M341.0 134.9h4.4M349.3 134.2h4.4M357.6 136.9h4.4M365.9 136.9h4.4M386.5 139.2h4.4M394.9 137.2h4.4M403.3 138.2h4.4M411.7 140.2h4.4M420.1 140.7h4.4M428.5 139.7h4.4M436.9 140.2h4.4M456.7 140.2h4.4M465.1 139.2h4.4M473.6 137.2h4.4M482.1 138.2h4.4M490.5 139.2h4.4M498.9 141.2h4.4M507.4 137.7h4.4M246.1 168.6h4.4M254.3 168.6h4.4M262.6 169.6h4.4M270.8 171.5h4.4M279.1 169.1h4.4M287.3 166.6h4.4M295.6 170.5h4.4M316.1 191.0h4.4M324.4 191.0h4.4M332.7 189.0h4.4M341.0 188.3h4.4M349.3 188.3h4.4M357.6 189.7h4.4M365.9 189.0h4.4M386.5 180.1h4.4M394.9 176.9h4.4M403.3 180.1h4.4M411.7 175.7h4.4M420.1 174.1h4.4M428.5 173.7h4.4M436.9 177.7h4.4M456.7 179.3h4.4M465.1 176.4h4.4M473.6 181.3h4.4M482.1 171.4h4.4M490.5 170.6h4.4M498.9 176.4h4.4M507.4 175.6h4.4M246.1 243.8h4.4M254.3 243.8h4.4M262.6 247.8h4.4M270.8 222.5h4.4M279.1 226.5h4.4M287.3 226.5h4.4M295.6 223.8h4.4M316.1 233.5h4.4M324.4 235.4h4.4M332.7 237.2h4.4M341.0 226.2h4.4M349.3 229.0h4.4M357.6 229.9h4.4M365.9 231.7h4.4M386.5 238.0h4.4M394.9 238.5h4.4M403.3 241.8h4.4M411.7 230.9h4.4M420.1 230.8h4.4M428.5 230.8h4.4M436.9 230.8h4.4M456.7 236.4h4.4M465.1 236.8h4.4M473.6 236.8h4.4M482.1 231.8h4.4M490.5 232.8h4.4M498.9 236.8h4.4M507.4 229.8h4.4M246.1 291.6h4.4M254.3 293.2h4.4M262.6 286.9h4.4M270.8 286.6h4.4M279.1 297.2h4.4M287.3 290.6h4.4M295.6 290.6h4.4M316.1 297.3h4.4M324.4 297.3h4.4M332.7 287.1h4.4M341.0 295.8h4.4M349.3 299.9h4.4M357.6 297.3h4.4M365.9 294.2h4.4M386.5 294.2h4.4M394.9 294.2h4.4M403.3 288.6h4.4M411.7 289.6h4.4M420.1 299.9h4.4M428.5 293.6h4.4M436.9 293.6h4.4M456.7 299.2h4.4M465.1 299.2h4.4M473.6 291.1h4.4M482.1 296.6h4.4M490.5 301.6h4.4M498.9 299.6h4.4M507.4 297.6h4.4" stroke="#222" stroke-width="0.8"/>
<path d="M249.3 81.2h4.4M257.6 70.5h4.4M265.8 71.8h4.4M274.1 75.0h4.4M282.3 81.8h4.4M290.6 81.8h4.4M298.8 83.1h4.4M319.3 82.9h4.4M327.6 61.7h4.4M335.9 69.3h4.4M344.2 79.4h4.4M352.5 85.5h4.4M360.8 85.5h4.4M369.1 84.0h4.4M389.7 86.5h4.4M398.1 70.5h4.4M406.5 79.5h4.4M414.9 83.0h4.4M423.3 87.0h4.4M431.7 87.0h4.4M440.1 87.0h4.4M459.9 85.1h4.4M468.4 56.5h4.4M476.8 72.0h4.4M485.3 78.3h4.4M493.7 86.5h4.4M502.2 86.5h4.4M510.6 86.1h4.4M249.3 131.5h4.4M257.6 120.9h4.4M265.8 120.9h4.4M274.1 124.9h4.4M282.3 130.2h4.4M290.6 131.5h4.4M298.8 132.9h4.4M319.3 138.2h4.4M327.6 134.9h4.4M335.9 122.2h4.4M344.2 136.2h4.4M352.5 137.5h4.4M360.8 137.5h4.4M369.1 137.5h4.4M389.7 137.2h4.4M398.1 129.7h4.4M406.5 128.2h4.4M414.9 135.7h4.4M423.3 138.7h4.4M431.7 139.7h4.4M440.1 139.2h4.4M459.9 138.2h4.4M468.4 136.2h4.4M476.8 137.2h4.4M485.3 138.7h4.4M493.7 139.7h4.4M502.2 140.7h4.4M510.6 136.2h4.4M249.3 167.6h4.4M257.6 162.7h4.4M265.8 166.6h4.4M274.1 170.1h4.4M282.3 168.1h4.4M290.6 170.1h4.4M298.8 169.1h4.4M319.3 189.7h4.4M327.6 179.0h4.4M335.9 183.7h4.4M344.2 189.7h4.4M352.5 191.0h4.4M360.8 191.7h4.4M369.1 189.0h4.4M389.7 178.5h4.4M398.1 164.8h4.4M406.5 165.6h4.4M414.9 167.6h4.4M423.3 172.8h4.4M431.7 174.9h4.4M440.1 176.9h4.4M459.9 176.4h4.4M468.4 164.0h4.4M476.8 161.9h4.4M485.3 169.4h4.4M493.7 172.2h4.4M502.2 175.6h4.4M510.6 176.4h4.4M249.3 235.8h4.4M257.6 227.8h4.4M265.8 233.1h4.4M274.1 227.8h4.4M282.3 239.8h4.4M290.6 235.8h4.4M298.8 233.1h4.4M319.3 233.5h4.4M327.6 229.0h4.4M335.9 225.3h4.4M344.2 226.2h4.4M352.5 230.8h4.4M360.8 232.6h4.4M369.1 229.0h4.4M389.7 234.8h4.4M398.1 227.0h4.4M406.5 222.3h4.4M414.9 229.8h4.4M423.3 231.8h4.4M431.7 235.8h4.4M440.1 235.8h4.4M459.9 234.8h4.4M468.4 230.8h4.4M476.8 218.8h4.4M485.3 230.8h4.4M493.7 237.8h4.4M502.2 237.8h4.4M510.6 231.8h4.4M249.3 283.8h4.4M257.6 286.1h4.4M265.8 274.6h4.4M274.1 282.6h4.4M282.3 288.0h4.4M290.6 289.6h4.4M298.8 278.6h4.4M319.3 291.1h4.4M327.6 289.6h4.4M335.9 278.6h4.4M344.2 295.8h4.4M352.5 294.2h4.4M360.8 297.6h4.4M369.1 285.6h4.4M389.7 287.9h4.4M398.1 288.6h4.4M406.5 278.2h4.4M414.9 285.6h4.4M423.3 292.0h4.4M431.7 294.2h4.4M440.1 286.6h4.4M459.9 294.6h4.4M468.4 291.6h4.4M476.8 281.6h4.4M485.3 294.6h4.4M493.7 296.6h4.4M502.2 297.6h4.4M510.6 291.6h4.4" stroke="#9a1010" stroke-width="0.8"/>
<rect x="277.4" y="47.3" width="27.4" height="15" fill="#fff" stroke="#333" stroke-width="0.8"/>
<circle cx="282.5" cy="51.8" r="0.9" fill="#2c3c80"/><circle cx="282.5" cy="58.4" r="0.9" fill="#dc2a36"/>
<text x="285.2" y="54" font-size="5.9" font-weight="normal" text-anchor="start" fill="#000" stroke="#000" stroke-width="0.14" >Sham</text>
<text x="285.2" y="60.5" font-size="5.9" font-weight="normal" text-anchor="start" fill="#000" stroke="#000" stroke-width="0.14" >IL-15</text>
<text x="247.9" y="313.9" font-size="5.8" font-weight="bold" text-anchor="middle" fill="#000" stroke="#000" stroke-width="0.06" >-7</text>
<text x="257.34999999999997" y="313.9" font-size="5.8" font-weight="bold" text-anchor="middle" fill="#000" stroke="#000" stroke-width="0.06" >8</text>
<text x="265.59999999999997" y="313.9" font-size="5.8" font-weight="bold" text-anchor="middle" fill="#000" stroke="#000" stroke-width="0.06" >13</text>
<text x="273.84999999999997" y="313.9" font-size="5.8" font-weight="bold" text-anchor="middle" fill="#000" stroke="#000" stroke-width="0.06" >15</text>
<text x="282.09999999999997" y="313.9" font-size="5.8" font-weight="bold" text-anchor="middle" fill="#000" stroke="#000" stroke-width="0.06" >22</text>
<text x="290.34999999999997" y="313.9" font-size="5.8" font-weight="bold" text-anchor="middle" fill="#000" stroke="#000" stroke-width="0.06" >29</text>
<text x="298.59999999999997" y="313.9" font-size="5.8" font-weight="bold" text-anchor="middle" fill="#000" stroke="#000" stroke-width="0.06" >48</text>
<text x="317.9" y="313.9" font-size="5.8" font-weight="bold" text-anchor="middle" fill="#000" stroke="#000" stroke-width="0.06" >-7</text>
<text x="327.4" y="313.9" font-size="5.8" font-weight="bold" text-anchor="middle" fill="#000" stroke="#000" stroke-width="0.06" >8</text>
<text x="335.7" y="313.9" font-size="5.8" font-weight="bold" text-anchor="middle" fill="#000" stroke="#000" stroke-width="0.06" >13</text>
<text x="344.0" y="313.9" font-size="5.8" font-weight="bold" text-anchor="middle" fill="#000" stroke="#000" stroke-width="0.06" >15</text>
<text x="352.3" y="313.9" font-size="5.8" font-weight="bold" text-anchor="middle" fill="#000" stroke="#000" stroke-width="0.06" >22</text>
<text x="360.59999999999997" y="313.9" font-size="5.8" font-weight="bold" text-anchor="middle" fill="#000" stroke="#000" stroke-width="0.06" >29</text>
<text x="368.9" y="313.9" font-size="5.8" font-weight="bold" text-anchor="middle" fill="#000" stroke="#000" stroke-width="0.06" >48</text>
<text x="388.3" y="313.9" font-size="5.8" font-weight="bold" text-anchor="middle" fill="#000" stroke="#000" stroke-width="0.06" >-7</text>
<text x="397.9" y="313.9" font-size="5.8" font-weight="bold" text-anchor="middle" fill="#000" stroke="#000" stroke-width="0.06" >8</text>
<text x="406.3" y="313.9" font-size="5.8" font-weight="bold" text-anchor="middle" fill="#000" stroke="#000" stroke-width="0.06" >13</text>
<text x="414.7" y="313.9" font-size="5.8" font-weight="bold" text-anchor="middle" fill="#000" stroke="#000" stroke-width="0.06" >15</text>
<text x="423.1" y="313.9" font-size="5.8" font-weight="bold" text-anchor="middle" fill="#000" stroke="#000" stroke-width="0.06" >22</text>
<text x="431.5" y="313.9" font-size="5.8" font-weight="bold" text-anchor="middle" fill="#000" stroke="#000" stroke-width="0.06" >29</text>
<text x="439.90000000000003" y="313.9" font-size="5.8" font-weight="bold" text-anchor="middle" fill="#000" stroke="#000" stroke-width="0.06" >48</text>
<text x="458.5" y="313.9" font-size="5.8" font-weight="bold" text-anchor="middle" fill="#000" stroke="#000" stroke-width="0.06" >-7</text>
<text x="468.15" y="313.9" font-size="5.8" font-weight="bold" text-anchor="middle" fill="#000" stroke="#000" stroke-width="0.06" >8</text>
<text x="476.59999999999997" y="313.9" font-size="5.8" font-weight="bold" text-anchor="middle" fill="#000" stroke="#000" stroke-width="0.06" >13</text>
<text x="485.05" y="313.9" font-size="5.8" font-weight="bold" text-anchor="middle" fill="#000" stroke="#000" stroke-width="0.06" >15</text>
<text x="493.5" y="313.9" font-size="5.8" font-weight="bold" text-anchor="middle" fill="#000" stroke="#000" stroke-width="0.06" >22</text>
<text x="501.95" y="313.9" font-size="5.8" font-weight="bold" text-anchor="middle" fill="#000" stroke="#000" stroke-width="0.06" >29</text>
<text x="510.4" y="313.9" font-size="5.8" font-weight="bold" text-anchor="middle" fill="#000" stroke="#000" stroke-width="0.06" >48</text>
<line x1="245" y1="319.2" x2="510" y2="319.2" stroke="#222" stroke-width="1.2" />
<path d="M509,317.3 L513.2,319.2 L509,321.1 Z" fill="#111"/>
<text x="245" y="334.1" font-size="8.1" font-weight="normal" text-anchor="start" fill="#000" stroke="#000" stroke-width="0.14" >Days after IL-15 administration</text>
</svg></body></html>
